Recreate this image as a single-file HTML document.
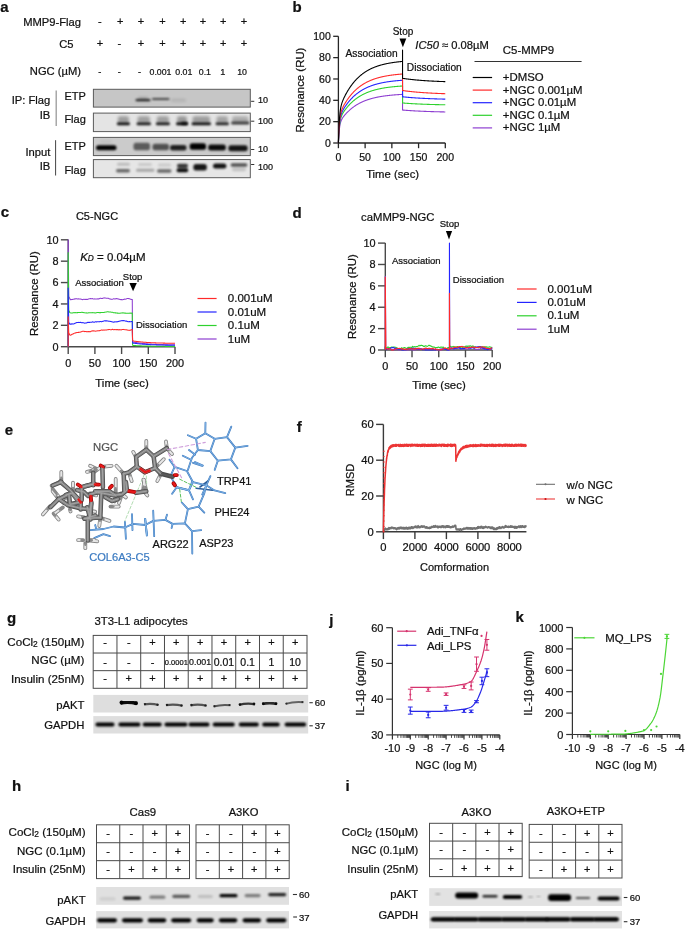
<!DOCTYPE html>
<html><head><meta charset="utf-8"><title>Figure</title>
<style>html,body{margin:0;padding:0;background:#fff;}svg{display:block;}
text{font-family:"Liberation Sans",Arial,sans-serif;fill:#111;stroke:#111;stroke-width:0.22px;}
.gk{stroke:#4c4c4c;stroke-width:4.5}.gl{stroke:#838383;stroke-width:2.9}.gh{stroke:#a6a6a6;stroke-width:1.0}.gd{stroke:#5a5a5a;stroke-width:2.2}.hk{stroke:#858585;stroke-width:3.8}.hl{stroke:#e6e6e6;stroke-width:2.1}.hgl{stroke:#8a8a8a;stroke-width:2.1}.rk{stroke:#a00000;stroke-width:3.9}.rl{stroke:#e81818;stroke-width:2.3}.bk{stroke:#3775bd;stroke-width:1.8}.bd{stroke:#2c5f9c;stroke-width:1.6}.bl{stroke:#94c4ef;stroke-width:0.7}.dg{stroke:#5cc25c;stroke-width:1;stroke-dasharray:3 2}.dg2{stroke:#a9d8a9;stroke-width:0.9;stroke-dasharray:3 2}.dp{stroke:#cf9fdc;stroke-width:1.1;stroke-dasharray:3.5 2.5}</style></head><body>
<svg width="685" height="930" viewBox="0 0 685 930">
<defs>
<filter id="bb1" x="-50%" y="-100%" width="200%" height="300%"><feGaussianBlur stdDeviation="1.05"/></filter>
<filter id="bb2" x="-50%" y="-100%" width="200%" height="300%"><feGaussianBlur stdDeviation="1.6"/></filter>
<filter id="bb05" x="-50%" y="-100%" width="200%" height="300%"><feGaussianBlur stdDeviation="0.5"/></filter>
</defs>
<rect width="685" height="930" fill="#fff"/>
<text x="0.30" y="11.90" font-size="15" font-weight="bold">a</text>
<text x="81.00" y="25.60" font-size="11.2" text-anchor="end">MMP9-Flag</text>
<text x="73.50" y="47.80" font-size="11.2" text-anchor="end">C5</text>
<text x="81.00" y="75.00" font-size="11.2" text-anchor="end">NGC (µM)</text>
<text x="99.90" y="24.60" font-size="11" text-anchor="middle">-</text>
<text x="120.30" y="24.60" font-size="11" text-anchor="middle">+</text>
<text x="140.90" y="24.60" font-size="11" text-anchor="middle">+</text>
<text x="162.50" y="24.60" font-size="11" text-anchor="middle">+</text>
<text x="183.10" y="24.60" font-size="11" text-anchor="middle">+</text>
<text x="202.90" y="24.60" font-size="11" text-anchor="middle">+</text>
<text x="223.30" y="24.60" font-size="11" text-anchor="middle">+</text>
<text x="243.90" y="24.60" font-size="11" text-anchor="middle">+</text>
<text x="99.90" y="47.10" font-size="11" text-anchor="middle">+</text>
<text x="119.30" y="47.10" font-size="11" text-anchor="middle">-</text>
<text x="140.90" y="47.10" font-size="11" text-anchor="middle">+</text>
<text x="162.50" y="47.10" font-size="11" text-anchor="middle">+</text>
<text x="183.10" y="47.10" font-size="11" text-anchor="middle">+</text>
<text x="202.90" y="47.10" font-size="11" text-anchor="middle">+</text>
<text x="223.30" y="47.10" font-size="11" text-anchor="middle">+</text>
<text x="243.90" y="47.10" font-size="11" text-anchor="middle">+</text>
<text x="99.90" y="74.60" font-size="9.2" text-anchor="middle">-</text>
<text x="119.30" y="74.60" font-size="9.2" text-anchor="middle">-</text>
<text x="139.60" y="74.60" font-size="9.2" text-anchor="middle">-</text>
<text x="160.50" y="74.60" font-size="8.8" text-anchor="middle">0.001</text>
<text x="183.80" y="74.60" font-size="8.8" text-anchor="middle">0.01</text>
<text x="204.90" y="74.60" font-size="8.8" text-anchor="middle">0.1</text>
<text x="222.80" y="74.60" font-size="9.2" text-anchor="middle">1</text>
<text x="242.10" y="74.60" font-size="8.8" text-anchor="middle">10</text>
<text x="50.30" y="103.90" font-size="11.2" text-anchor="end">IP: Flag</text>
<text x="50.30" y="118.70" font-size="11.2" text-anchor="end">IB</text>
<text x="50.30" y="155.50" font-size="11.2" text-anchor="end">Input</text>
<text x="50.30" y="169.80" font-size="11.2" text-anchor="end">IB</text>
<line x1="56.20" y1="90.60" x2="56.20" y2="125.90" stroke="#9a9a9a" stroke-width="1.3"/>
<line x1="55.60" y1="140.20" x2="55.60" y2="175.50" stroke="#444" stroke-width="1"/>
<text x="64.40" y="99.80" font-size="11">ETP</text>
<text x="64.40" y="123.00" font-size="11">Flag</text>
<text x="64.40" y="149.90" font-size="11">ETP</text>
<text x="64.40" y="174.10" font-size="11">Flag</text>
<rect x="93.40" y="89.30" width="156.90" height="17.80" fill="#c6c6c6" stroke="#5a5a5a" stroke-width="1"/>
<rect x="93.40" y="113.10" width="156.90" height="18.50" fill="#e4e4e4" stroke="#5a5a5a" stroke-width="1"/>
<rect x="93.40" y="137.40" width="156.90" height="18.20" fill="#cbcbcb" stroke="#5a5a5a" stroke-width="1"/>
<rect x="93.40" y="159.60" width="156.90" height="18.10" fill="#e6e6e6" stroke="#5a5a5a" stroke-width="1"/>
<rect x="135.50" y="99.10" width="15.00" height="2.20" rx="1.10" fill="#000" opacity="0.8" filter="url(#bb1)"/>
<rect x="138.00" y="97.35" width="10.00" height="2.50" rx="1.25" fill="#000" opacity="0.25" filter="url(#bb2)"/>
<rect x="152.00" y="98.00" width="17.50" height="2.00" rx="1.00" fill="#000" opacity="0.65" filter="url(#bb1)"/>
<rect x="171.00" y="98.95" width="15.00" height="2.50" rx="1.25" fill="#000" opacity="0.12" filter="url(#bb2)"/>
<rect x="116.80" y="122.30" width="13.20" height="3.00" rx="1.50" fill="#000" opacity="0.9" filter="url(#bb1)"/>
<rect x="117.80" y="116.25" width="11.20" height="6.50" rx="2.50" fill="#000" opacity="0.315" filter="url(#bb2)"/>
<rect x="136.50" y="122.30" width="14.50" height="3.00" rx="1.50" fill="#000" opacity="0.85" filter="url(#bb1)"/>
<rect x="137.50" y="116.25" width="12.50" height="6.50" rx="2.50" fill="#000" opacity="0.2975" filter="url(#bb2)"/>
<rect x="155.80" y="122.30" width="14.20" height="3.00" rx="1.50" fill="#000" opacity="0.85" filter="url(#bb1)"/>
<rect x="156.80" y="116.25" width="12.20" height="6.50" rx="2.50" fill="#000" opacity="0.2975" filter="url(#bb2)"/>
<rect x="176.00" y="122.30" width="12.00" height="3.00" rx="1.50" fill="#000" opacity="0.95" filter="url(#bb1)"/>
<rect x="177.00" y="116.25" width="10.00" height="6.50" rx="2.50" fill="#000" opacity="0.33249999999999996" filter="url(#bb2)"/>
<rect x="191.50" y="122.30" width="19.50" height="3.00" rx="1.50" fill="#000" opacity="0.9" filter="url(#bb1)"/>
<rect x="192.50" y="116.25" width="17.50" height="6.50" rx="2.50" fill="#000" opacity="0.315" filter="url(#bb2)"/>
<rect x="215.50" y="122.30" width="13.50" height="3.00" rx="1.50" fill="#000" opacity="0.8" filter="url(#bb1)"/>
<rect x="216.50" y="116.25" width="11.50" height="6.50" rx="2.50" fill="#000" opacity="0.27999999999999997" filter="url(#bb2)"/>
<rect x="231.00" y="121.50" width="18.50" height="3.00" rx="1.50" fill="#000" opacity="0.7" filter="url(#bb1)"/>
<rect x="232.00" y="116.25" width="16.50" height="6.50" rx="2.50" fill="#000" opacity="0.24499999999999997" filter="url(#bb2)"/>
<rect x="181.00" y="121.70" width="7.00" height="3.20" rx="1.60" fill="#000" opacity="0.6" filter="url(#bb1)"/>
<rect x="96.00" y="145.30" width="20.50" height="5.00" rx="2.50" fill="#000" opacity="1.0" filter="url(#bb1)"/>
<rect x="133.50" y="142.75" width="16.50" height="7.50" rx="2.50" fill="#000" opacity="0.55" filter="url(#bb1)"/>
<rect x="152.50" y="143.75" width="16.50" height="6.50" rx="2.50" fill="#000" opacity="0.6" filter="url(#bb1)"/>
<rect x="170.00" y="145.05" width="16.50" height="5.50" rx="2.50" fill="#000" opacity="0.85" filter="url(#bb1)"/>
<rect x="189.70" y="143.35" width="16.30" height="6.50" rx="2.50" fill="#000" opacity="1.0" filter="url(#bb1)"/>
<rect x="208.20" y="144.50" width="17.60" height="6.00" rx="2.50" fill="#000" opacity="0.95" filter="url(#bb1)"/>
<rect x="228.40" y="145.30" width="19.20" height="6.00" rx="2.50" fill="#000" opacity="0.9" filter="url(#bb1)"/>
<rect x="100.00" y="140.80" width="12.00" height="2.00" rx="1.00" fill="#000" opacity="0.08" filter="url(#bb2)"/>
<rect x="116.00" y="169.10" width="14.00" height="3.40" rx="1.70" fill="#000" opacity="0.55" filter="url(#bb1)"/>
<rect x="117.00" y="162.70" width="13.00" height="3.00" rx="1.50" fill="#000" opacity="0.18" filter="url(#bb1)"/>
<rect x="136.00" y="168.70" width="18.40" height="3.00" rx="1.50" fill="#000" opacity="0.28" filter="url(#bb1)"/>
<rect x="138.00" y="163.00" width="14.00" height="3.00" rx="1.50" fill="#000" opacity="0.12" filter="url(#bb1)"/>
<rect x="157.00" y="169.30" width="14.50" height="3.40" rx="1.70" fill="#000" opacity="0.55" filter="url(#bb1)"/>
<rect x="158.00" y="163.50" width="13.00" height="3.00" rx="1.50" fill="#000" opacity="0.12" filter="url(#bb1)"/>
<rect x="176.60" y="168.60" width="11.60" height="3.60" rx="1.80" fill="#000" opacity="0.95" filter="url(#bb1)"/>
<rect x="177.00" y="163.80" width="11.00" height="3.60" rx="1.80" fill="#000" opacity="0.75" filter="url(#bb1)"/>
<rect x="177.50" y="166.00" width="10.00" height="4.00" rx="2.00" fill="#000" opacity="0.45" filter="url(#bb1)"/>
<rect x="193.40" y="164.00" width="13.40" height="6.40" rx="2.50" fill="#000" opacity="0.9" filter="url(#bb1)"/>
<rect x="213.00" y="163.50" width="13.40" height="5.00" rx="2.50" fill="#000" opacity="0.92" filter="url(#bb1)"/>
<rect x="230.60" y="163.30" width="16.80" height="3.40" rx="1.70" fill="#000" opacity="0.65" filter="url(#bb1)"/>
<rect x="232.00" y="167.75" width="14.00" height="3.50" rx="1.75" fill="#000" opacity="0.15" filter="url(#bb1)"/>
<line x1="251.10" y1="101.30" x2="254.30" y2="101.30" stroke="#333" stroke-width="1"/>
<line x1="251.10" y1="121.20" x2="254.30" y2="121.20" stroke="#333" stroke-width="1"/>
<line x1="251.10" y1="149.50" x2="254.30" y2="149.50" stroke="#333" stroke-width="1"/>
<line x1="251.10" y1="164.50" x2="254.30" y2="164.50" stroke="#333" stroke-width="1"/>
<text x="257.90" y="102.90" font-size="9">10</text>
<text x="257.90" y="123.70" font-size="9">100</text>
<text x="257.90" y="152.10" font-size="9">10</text>
<text x="257.90" y="170.30" font-size="9">100</text>
<text x="292.50" y="11.70" font-size="15" font-weight="bold">b</text>
<line x1="338.40" y1="143.00" x2="338.40" y2="36.30" stroke="#262626" stroke-width="1.3"/>
<line x1="338.40" y1="143.00" x2="445.30" y2="143.00" stroke="#262626" stroke-width="1.3"/>
<line x1="338.40" y1="143.00" x2="338.40" y2="148.20" stroke="#262626" stroke-width="1.3"/>
<text x="338.40" y="161.00" font-size="10.5" text-anchor="middle">0</text>
<line x1="365.12" y1="143.00" x2="365.12" y2="148.20" stroke="#262626" stroke-width="1.3"/>
<text x="365.12" y="161.00" font-size="10.5" text-anchor="middle">50</text>
<line x1="391.85" y1="143.00" x2="391.85" y2="148.20" stroke="#262626" stroke-width="1.3"/>
<text x="391.85" y="161.00" font-size="10.5" text-anchor="middle">100</text>
<line x1="418.57" y1="143.00" x2="418.57" y2="148.20" stroke="#262626" stroke-width="1.3"/>
<text x="418.57" y="161.00" font-size="10.5" text-anchor="middle">150</text>
<line x1="445.30" y1="143.00" x2="445.30" y2="148.20" stroke="#262626" stroke-width="1.3"/>
<text x="445.30" y="161.00" font-size="10.5" text-anchor="middle">200</text>
<line x1="333.20" y1="143.00" x2="338.40" y2="143.00" stroke="#262626" stroke-width="1.3"/>
<text x="330.80" y="146.78" font-size="10.5" text-anchor="end">0</text>
<line x1="333.20" y1="121.66" x2="338.40" y2="121.66" stroke="#262626" stroke-width="1.3"/>
<text x="330.80" y="125.44" font-size="10.5" text-anchor="end">20</text>
<line x1="333.20" y1="100.32" x2="338.40" y2="100.32" stroke="#262626" stroke-width="1.3"/>
<text x="330.80" y="104.10" font-size="10.5" text-anchor="end">40</text>
<line x1="333.20" y1="78.98" x2="338.40" y2="78.98" stroke="#262626" stroke-width="1.3"/>
<text x="330.80" y="82.76" font-size="10.5" text-anchor="end">60</text>
<line x1="333.20" y1="57.64" x2="338.40" y2="57.64" stroke="#262626" stroke-width="1.3"/>
<text x="330.80" y="61.42" font-size="10.5" text-anchor="end">80</text>
<line x1="333.20" y1="36.30" x2="338.40" y2="36.30" stroke="#262626" stroke-width="1.3"/>
<text x="330.80" y="40.08" font-size="10.5" text-anchor="end">100</text>
<text x="392.60" y="178.40" font-size="11.3" text-anchor="middle">Time (sec)</text>
<text x="0.00" y="0.00" font-size="11.4" text-anchor="middle" transform="translate(304.3,90) rotate(-90)">Resonance (RU)</text>
<path d="M338.40,143.00 L338.67,137.91 L338.93,133.96 L339.20,130.87 L339.47,128.43 L339.74,126.49 L340.00,124.92 L340.27,123.65 L340.54,122.59 L340.81,121.70 L341.07,120.94 L341.34,120.28 L341.61,119.69 L341.87,119.16 L342.14,118.67 L342.41,118.23 L342.68,117.81 L342.94,117.41 L343.21,117.03 L343.48,116.66 L343.75,116.31 L344.01,115.97 L344.28,115.64 L344.55,115.31 L344.81,114.99 L345.08,114.68 L345.35,114.37 L345.62,114.07 L345.88,113.78 L346.15,113.49 L346.42,113.20 L346.68,112.92 L346.95,112.64 L347.22,112.37 L347.49,112.10 L347.75,111.83 L348.02,111.57 L348.29,111.31 L348.56,111.06 L348.82,110.80 L349.09,110.56 L349.36,110.31 L349.62,110.07 L349.89,109.84 L350.16,109.60 L350.43,109.37 L350.69,109.15 L350.96,108.92 L351.23,108.70 L351.50,108.49 L351.76,108.27 L352.03,108.06 L352.30,107.85 L352.56,107.65 L352.83,107.44 L353.10,107.24 L353.37,107.05 L353.63,106.85 L353.90,106.66 L354.17,106.48 L354.44,106.29 L354.70,106.11 L354.97,105.93 L355.24,105.75 L355.50,105.57 L355.77,105.40 L356.04,105.23 L356.31,105.06 L356.57,104.90 L356.84,104.73 L357.11,104.57 L357.37,104.41 L357.64,104.26 L357.91,104.10 L358.18,103.95 L358.44,103.80 L358.71,103.65 L358.98,103.51 L359.25,103.36 L359.51,103.22 L359.78,103.08 L360.05,102.94 L360.31,102.81 L360.58,102.68 L360.85,102.54 L361.12,102.41 L361.38,102.29 L361.65,102.16 L361.92,102.03 L362.19,101.91 L362.45,101.79 L362.72,101.67 L362.99,101.55 L363.25,101.44 L363.52,101.32 L363.79,101.21 L364.06,101.10 L364.32,100.99 L364.59,100.88 L364.86,100.78 L365.12,100.67 L365.39,100.57 L365.66,100.47 L365.93,100.37 L366.19,100.27 L366.46,100.17 L366.73,100.07 L367.00,99.98 L367.26,99.89 L367.53,99.79 L367.80,99.70 L368.06,99.61 L368.33,99.52 L368.60,99.44 L368.87,99.35 L369.13,99.27 L369.40,99.18 L369.67,99.10 L369.94,99.02 L370.20,98.94 L370.47,98.86 L370.74,98.78 L371.00,98.71 L371.27,98.63 L371.54,98.56 L371.81,98.48 L372.07,98.41 L372.34,98.34 L372.61,98.27 L372.88,98.20 L373.14,98.13 L373.41,98.06 L373.68,98.00 L373.94,97.93 L374.21,97.87 L374.48,97.80 L374.75,97.74 L375.01,97.68 L375.28,97.62 L375.55,97.56 L375.81,97.50 L376.08,97.44 L376.35,97.38 L376.62,97.33 L376.88,97.27 L377.15,97.22 L377.42,97.16 L377.69,97.11 L377.95,97.06 L378.22,97.00 L378.49,96.95 L378.75,96.90 L379.02,96.85 L379.29,96.80 L379.56,96.75 L379.82,96.71 L380.09,96.66 L380.36,96.61 L380.63,96.57 L380.89,96.52 L381.16,96.48 L381.43,96.43 L381.69,96.39 L381.96,96.35 L382.23,96.31 L382.50,96.26 L382.76,96.22 L383.03,96.18 L383.30,96.14 L383.57,96.10 L383.83,96.07 L384.10,96.03 L384.37,95.99 L384.63,95.95 L384.90,95.92 L385.17,95.88 L385.44,95.85 L385.70,95.81 L385.97,95.78 L386.24,95.74 L386.50,95.71 L386.77,95.68 L387.04,95.64 L387.31,95.61 L387.57,95.58 L387.84,95.55 L388.11,95.52 L388.38,95.49 L388.64,95.46 L388.91,95.43 L389.18,95.40 L389.44,95.37 L389.71,95.34 L389.98,95.31 L390.25,95.29 L390.51,95.26 L390.78,95.23 L391.05,95.21 L391.32,95.18 L391.58,95.16 L391.85,95.13 L392.12,95.11 L392.38,95.08 L392.65,95.06 L392.92,95.03 L393.19,95.01 L393.45,94.99 L393.72,94.96 L393.99,94.94 L394.26,94.92 L394.52,94.90 L394.79,94.88 L395.06,94.86 L395.32,94.83 L395.59,94.81 L395.86,94.79 L396.13,94.77 L396.39,94.75 L396.66,94.73 L396.93,94.72 L397.19,94.70 L397.46,94.68 L397.73,94.66 L398.00,94.64 L398.26,94.62 L398.53,94.61 L398.80,94.59 L399.07,94.57 L399.33,94.56 L399.60,94.54 L399.87,94.52 L400.13,94.51 L400.40,94.49 L400.67,94.47 L400.94,94.46 L401.20,94.44 L401.47,94.43 L401.74,94.41 L402.01,94.40 L402.27,94.38 L402.54,94.37 L402.54,110.03 L403.07,110.08 L403.61,110.12 L404.14,110.16 L404.68,110.21 L405.21,110.25 L405.75,110.29 L406.28,110.33 L406.82,110.37 L407.35,110.41 L407.88,110.45 L408.42,110.49 L408.95,110.53 L409.49,110.56 L410.02,110.60 L410.56,110.64 L411.09,110.67 L411.63,110.70 L412.16,110.74 L412.70,110.77 L413.23,110.80 L413.76,110.83 L414.30,110.87 L414.83,110.90 L415.37,110.93 L415.90,110.95 L416.44,110.98 L416.97,111.01 L417.51,111.04 L418.04,111.07 L418.57,111.09 L419.11,111.12 L419.64,111.15 L420.18,111.17 L420.71,111.20 L421.25,111.22 L421.78,111.24 L422.32,111.27 L422.85,111.29 L423.39,111.31 L423.92,111.33 L424.45,111.36 L424.99,111.38 L425.52,111.40 L426.06,111.42 L426.59,111.44 L427.13,111.46 L427.66,111.48 L428.20,111.50 L428.73,111.52 L429.26,111.53 L429.80,111.55 L430.33,111.57 L430.87,111.59 L431.40,111.60 L431.94,111.62 L432.47,111.64 L433.01,111.65 L433.54,111.67 L434.08,111.68 L434.61,111.70 L435.14,111.71 L435.68,111.73 L436.21,111.74 L436.75,111.76 L437.28,111.77 L437.82,111.78 L438.35,111.80 L438.89,111.81 L439.42,111.82 L439.96,111.84 L440.49,111.85 L441.02,111.86 L441.56,111.87 L442.09,111.88 L442.63,111.90 L443.16,111.91 L443.70,111.92 L444.23,111.93 L444.77,111.94 L445.30,111.95" fill="none" stroke="#8e3fd1" stroke-width="1.1" stroke-linejoin="round"/>
<path d="M338.40,143.00 L338.67,137.06 L338.93,132.44 L339.20,128.83 L339.47,125.98 L339.74,123.72 L340.00,121.89 L340.27,120.40 L340.54,119.16 L340.81,118.12 L341.07,117.23 L341.34,116.45 L341.61,115.76 L341.87,115.14 L342.14,114.57 L342.41,114.05 L342.68,113.55 L342.94,113.09 L343.21,112.64 L343.48,112.21 L343.75,111.80 L344.01,111.39 L344.28,111.00 L344.55,110.62 L344.81,110.25 L345.08,109.88 L345.35,109.52 L345.62,109.17 L345.88,108.82 L346.15,108.48 L346.42,108.14 L346.68,107.81 L346.95,107.48 L347.22,107.16 L347.49,106.84 L347.75,106.53 L348.02,106.22 L348.29,105.92 L348.56,105.62 L348.82,105.32 L349.09,105.03 L349.36,104.75 L349.62,104.47 L349.89,104.19 L350.16,103.91 L350.43,103.64 L350.69,103.38 L350.96,103.11 L351.23,102.85 L351.50,102.60 L351.76,102.35 L352.03,102.10 L352.30,101.85 L352.56,101.61 L352.83,101.38 L353.10,101.14 L353.37,100.91 L353.63,100.68 L353.90,100.46 L354.17,100.24 L354.44,100.02 L354.70,99.80 L354.97,99.59 L355.24,99.38 L355.50,99.17 L355.77,98.97 L356.04,98.77 L356.31,98.57 L356.57,98.38 L356.84,98.19 L357.11,98.00 L357.37,97.81 L357.64,97.63 L357.91,97.45 L358.18,97.27 L358.44,97.09 L358.71,96.92 L358.98,96.75 L359.25,96.58 L359.51,96.41 L359.78,96.25 L360.05,96.09 L360.31,95.93 L360.58,95.77 L360.85,95.61 L361.12,95.46 L361.38,95.31 L361.65,95.16 L361.92,95.02 L362.19,94.87 L362.45,94.73 L362.72,94.59 L362.99,94.45 L363.25,94.32 L363.52,94.18 L363.79,94.05 L364.06,93.92 L364.32,93.79 L364.59,93.66 L364.86,93.54 L365.12,93.41 L365.39,93.29 L365.66,93.17 L365.93,93.06 L366.19,92.94 L366.46,92.82 L366.73,92.71 L367.00,92.60 L367.26,92.49 L367.53,92.38 L367.80,92.27 L368.06,92.17 L368.33,92.07 L368.60,91.96 L368.87,91.86 L369.13,91.76 L369.40,91.66 L369.67,91.57 L369.94,91.47 L370.20,91.38 L370.47,91.29 L370.74,91.19 L371.00,91.10 L371.27,91.02 L371.54,90.93 L371.81,90.84 L372.07,90.76 L372.34,90.67 L372.61,90.59 L372.88,90.51 L373.14,90.43 L373.41,90.35 L373.68,90.27 L373.94,90.19 L374.21,90.12 L374.48,90.04 L374.75,89.97 L375.01,89.90 L375.28,89.83 L375.55,89.76 L375.81,89.69 L376.08,89.62 L376.35,89.55 L376.62,89.48 L376.88,89.42 L377.15,89.35 L377.42,89.29 L377.69,89.23 L377.95,89.16 L378.22,89.10 L378.49,89.04 L378.75,88.98 L379.02,88.92 L379.29,88.87 L379.56,88.81 L379.82,88.75 L380.09,88.70 L380.36,88.64 L380.63,88.59 L380.89,88.54 L381.16,88.48 L381.43,88.43 L381.69,88.38 L381.96,88.33 L382.23,88.28 L382.50,88.23 L382.76,88.19 L383.03,88.14 L383.30,88.09 L383.57,88.05 L383.83,88.00 L384.10,87.96 L384.37,87.91 L384.63,87.87 L384.90,87.82 L385.17,87.78 L385.44,87.74 L385.70,87.70 L385.97,87.66 L386.24,87.62 L386.50,87.58 L386.77,87.54 L387.04,87.50 L387.31,87.47 L387.57,87.43 L387.84,87.39 L388.11,87.36 L388.38,87.32 L388.64,87.29 L388.91,87.25 L389.18,87.22 L389.44,87.18 L389.71,87.15 L389.98,87.12 L390.25,87.09 L390.51,87.05 L390.78,87.02 L391.05,86.99 L391.32,86.96 L391.58,86.93 L391.85,86.90 L392.12,86.87 L392.38,86.84 L392.65,86.82 L392.92,86.79 L393.19,86.76 L393.45,86.73 L393.72,86.71 L393.99,86.68 L394.26,86.65 L394.52,86.63 L394.79,86.60 L395.06,86.58 L395.32,86.55 L395.59,86.53 L395.86,86.51 L396.13,86.48 L396.39,86.46 L396.66,86.44 L396.93,86.41 L397.19,86.39 L397.46,86.37 L397.73,86.35 L398.00,86.33 L398.26,86.31 L398.53,86.28 L398.80,86.26 L399.07,86.24 L399.33,86.22 L399.60,86.21 L399.87,86.19 L400.13,86.17 L400.40,86.15 L400.67,86.13 L400.94,86.11 L401.20,86.09 L401.47,86.08 L401.74,86.06 L402.01,86.04 L402.27,86.02 L402.54,86.01 L402.54,102.99 L403.07,103.03 L403.61,103.07 L404.14,103.12 L404.68,103.16 L405.21,103.20 L405.75,103.24 L406.28,103.27 L406.82,103.31 L407.35,103.35 L407.88,103.39 L408.42,103.42 L408.95,103.46 L409.49,103.49 L410.02,103.53 L410.56,103.56 L411.09,103.59 L411.63,103.62 L412.16,103.66 L412.70,103.69 L413.23,103.72 L413.76,103.75 L414.30,103.78 L414.83,103.81 L415.37,103.83 L415.90,103.86 L416.44,103.89 L416.97,103.92 L417.51,103.94 L418.04,103.97 L418.57,103.99 L419.11,104.02 L419.64,104.04 L420.18,104.06 L420.71,104.09 L421.25,104.11 L421.78,104.13 L422.32,104.16 L422.85,104.18 L423.39,104.20 L423.92,104.22 L424.45,104.24 L424.99,104.26 L425.52,104.28 L426.06,104.30 L426.59,104.32 L427.13,104.34 L427.66,104.36 L428.20,104.37 L428.73,104.39 L429.26,104.41 L429.80,104.43 L430.33,104.44 L430.87,104.46 L431.40,104.47 L431.94,104.49 L432.47,104.51 L433.01,104.52 L433.54,104.54 L434.08,104.55 L434.61,104.56 L435.14,104.58 L435.68,104.59 L436.21,104.61 L436.75,104.62 L437.28,104.63 L437.82,104.65 L438.35,104.66 L438.89,104.67 L439.42,104.68 L439.96,104.69 L440.49,104.71 L441.02,104.72 L441.56,104.73 L442.09,104.74 L442.63,104.75 L443.16,104.76 L443.70,104.77 L444.23,104.78 L444.77,104.79 L445.30,104.80" fill="none" stroke="#2ed12e" stroke-width="1.1" stroke-linejoin="round"/>
<path d="M338.40,143.00 L338.67,136.49 L338.93,131.43 L339.20,127.47 L339.47,124.35 L339.74,121.86 L340.00,119.85 L340.27,118.21 L340.54,116.85 L340.81,115.71 L341.07,114.73 L341.34,113.87 L341.61,113.11 L341.87,112.43 L342.14,111.80 L342.41,111.22 L342.68,110.68 L342.94,110.16 L343.21,109.67 L343.48,109.20 L343.75,108.74 L344.01,108.30 L344.28,107.87 L344.55,107.44 L344.81,107.03 L345.08,106.63 L345.35,106.23 L345.62,105.84 L345.88,105.45 L346.15,105.08 L346.42,104.70 L346.68,104.34 L346.95,103.98 L347.22,103.62 L347.49,103.27 L347.75,102.93 L348.02,102.59 L348.29,102.25 L348.56,101.92 L348.82,101.60 L349.09,101.27 L349.36,100.96 L349.62,100.65 L349.89,100.34 L350.16,100.04 L350.43,99.74 L350.69,99.44 L350.96,99.15 L351.23,98.87 L351.50,98.58 L351.76,98.31 L352.03,98.03 L352.30,97.76 L352.56,97.50 L352.83,97.23 L353.10,96.97 L353.37,96.72 L353.63,96.47 L353.90,96.22 L354.17,95.97 L354.44,95.73 L354.70,95.50 L354.97,95.26 L355.24,95.03 L355.50,94.80 L355.77,94.58 L356.04,94.36 L356.31,94.14 L356.57,93.92 L356.84,93.71 L357.11,93.50 L357.37,93.30 L357.64,93.09 L357.91,92.89 L358.18,92.70 L358.44,92.50 L358.71,92.31 L358.98,92.12 L359.25,91.94 L359.51,91.75 L359.78,91.57 L360.05,91.39 L360.31,91.22 L360.58,91.04 L360.85,90.87 L361.12,90.70 L361.38,90.54 L361.65,90.37 L361.92,90.21 L362.19,90.05 L362.45,89.89 L362.72,89.74 L362.99,89.59 L363.25,89.44 L363.52,89.29 L363.79,89.14 L364.06,89.00 L364.32,88.86 L364.59,88.72 L364.86,88.58 L365.12,88.44 L365.39,88.31 L365.66,88.17 L365.93,88.04 L366.19,87.92 L366.46,87.79 L366.73,87.66 L367.00,87.54 L367.26,87.42 L367.53,87.30 L367.80,87.18 L368.06,87.07 L368.33,86.95 L368.60,86.84 L368.87,86.73 L369.13,86.62 L369.40,86.51 L369.67,86.40 L369.94,86.30 L370.20,86.19 L370.47,86.09 L370.74,85.99 L371.00,85.89 L371.27,85.79 L371.54,85.69 L371.81,85.60 L372.07,85.51 L372.34,85.41 L372.61,85.32 L372.88,85.23 L373.14,85.14 L373.41,85.06 L373.68,84.97 L373.94,84.88 L374.21,84.80 L374.48,84.72 L374.75,84.64 L375.01,84.56 L375.28,84.48 L375.55,84.40 L375.81,84.32 L376.08,84.25 L376.35,84.17 L376.62,84.10 L376.88,84.03 L377.15,83.95 L377.42,83.88 L377.69,83.81 L377.95,83.75 L378.22,83.68 L378.49,83.61 L378.75,83.55 L379.02,83.48 L379.29,83.42 L379.56,83.35 L379.82,83.29 L380.09,83.23 L380.36,83.17 L380.63,83.11 L380.89,83.05 L381.16,83.00 L381.43,82.94 L381.69,82.88 L381.96,82.83 L382.23,82.77 L382.50,82.72 L382.76,82.67 L383.03,82.61 L383.30,82.56 L383.57,82.51 L383.83,82.46 L384.10,82.41 L384.37,82.36 L384.63,82.31 L384.90,82.27 L385.17,82.22 L385.44,82.17 L385.70,82.13 L385.97,82.08 L386.24,82.04 L386.50,82.00 L386.77,81.95 L387.04,81.91 L387.31,81.87 L387.57,81.83 L387.84,81.79 L388.11,81.75 L388.38,81.71 L388.64,81.67 L388.91,81.63 L389.18,81.60 L389.44,81.56 L389.71,81.52 L389.98,81.49 L390.25,81.45 L390.51,81.42 L390.78,81.38 L391.05,81.35 L391.32,81.31 L391.58,81.28 L391.85,81.25 L392.12,81.22 L392.38,81.18 L392.65,81.15 L392.92,81.12 L393.19,81.09 L393.45,81.06 L393.72,81.03 L393.99,81.00 L394.26,80.97 L394.52,80.95 L394.79,80.92 L395.06,80.89 L395.32,80.86 L395.59,80.84 L395.86,80.81 L396.13,80.78 L396.39,80.76 L396.66,80.73 L396.93,80.71 L397.19,80.68 L397.46,80.66 L397.73,80.64 L398.00,80.61 L398.26,80.59 L398.53,80.57 L398.80,80.54 L399.07,80.52 L399.33,80.50 L399.60,80.48 L399.87,80.46 L400.13,80.44 L400.40,80.42 L400.67,80.40 L400.94,80.38 L401.20,80.36 L401.47,80.34 L401.74,80.32 L402.01,80.30 L402.27,80.28 L402.54,80.26 L402.54,96.80 L403.07,96.86 L403.61,96.91 L404.14,96.96 L404.68,97.02 L405.21,97.07 L405.75,97.12 L406.28,97.17 L406.82,97.22 L407.35,97.27 L407.88,97.32 L408.42,97.36 L408.95,97.41 L409.49,97.45 L410.02,97.50 L410.56,97.54 L411.09,97.58 L411.63,97.62 L412.16,97.66 L412.70,97.70 L413.23,97.74 L413.76,97.78 L414.30,97.82 L414.83,97.86 L415.37,97.89 L415.90,97.93 L416.44,97.96 L416.97,98.00 L417.51,98.03 L418.04,98.07 L418.57,98.10 L419.11,98.13 L419.64,98.16 L420.18,98.19 L420.71,98.22 L421.25,98.25 L421.78,98.28 L422.32,98.31 L422.85,98.34 L423.39,98.37 L423.92,98.39 L424.45,98.42 L424.99,98.45 L425.52,98.47 L426.06,98.50 L426.59,98.52 L427.13,98.55 L427.66,98.57 L428.20,98.59 L428.73,98.61 L429.26,98.64 L429.80,98.66 L430.33,98.68 L430.87,98.70 L431.40,98.72 L431.94,98.74 L432.47,98.76 L433.01,98.78 L433.54,98.80 L434.08,98.82 L434.61,98.84 L435.14,98.86 L435.68,98.88 L436.21,98.89 L436.75,98.91 L437.28,98.93 L437.82,98.94 L438.35,98.96 L438.89,98.98 L439.42,98.99 L439.96,99.01 L440.49,99.02 L441.02,99.04 L441.56,99.05 L442.09,99.07 L442.63,99.08 L443.16,99.09 L443.70,99.11 L444.23,99.12 L444.77,99.13 L445.30,99.15" fill="none" stroke="#2424ff" stroke-width="1.1" stroke-linejoin="round"/>
<path d="M338.40,143.00 L338.67,135.91 L338.93,130.40 L339.20,126.08 L339.47,122.68 L339.74,119.96 L340.00,117.77 L340.27,115.98 L340.54,114.49 L340.81,113.24 L341.07,112.16 L341.34,111.22 L341.61,110.38 L341.87,109.63 L342.14,108.94 L342.41,108.30 L342.68,107.70 L342.94,107.13 L343.21,106.59 L343.48,106.06 L343.75,105.56 L344.01,105.06 L344.28,104.59 L344.55,104.12 L344.81,103.66 L345.08,103.21 L345.35,102.77 L345.62,102.34 L345.88,101.91 L346.15,101.50 L346.42,101.08 L346.68,100.68 L346.95,100.28 L347.22,99.88 L347.49,99.50 L347.75,99.11 L348.02,98.74 L348.29,98.37 L348.56,98.00 L348.82,97.64 L349.09,97.28 L349.36,96.93 L349.62,96.59 L349.89,96.25 L350.16,95.91 L350.43,95.58 L350.69,95.25 L350.96,94.93 L351.23,94.61 L351.50,94.30 L351.76,93.99 L352.03,93.69 L352.30,93.39 L352.56,93.10 L352.83,92.80 L353.10,92.52 L353.37,92.23 L353.63,91.96 L353.90,91.68 L354.17,91.41 L354.44,91.14 L354.70,90.88 L354.97,90.62 L355.24,90.36 L355.50,90.11 L355.77,89.86 L356.04,89.62 L356.31,89.38 L356.57,89.14 L356.84,88.90 L357.11,88.67 L357.37,88.44 L357.64,88.22 L357.91,88.00 L358.18,87.78 L358.44,87.56 L358.71,87.35 L358.98,87.14 L359.25,86.93 L359.51,86.73 L359.78,86.53 L360.05,86.33 L360.31,86.14 L360.58,85.94 L360.85,85.75 L361.12,85.57 L361.38,85.38 L361.65,85.20 L361.92,85.02 L362.19,84.85 L362.45,84.67 L362.72,84.50 L362.99,84.33 L363.25,84.16 L363.52,84.00 L363.79,83.84 L364.06,83.68 L364.32,83.52 L364.59,83.37 L364.86,83.21 L365.12,83.06 L365.39,82.91 L365.66,82.77 L365.93,82.62 L366.19,82.48 L366.46,82.34 L366.73,82.20 L367.00,82.06 L367.26,81.93 L367.53,81.80 L367.80,81.67 L368.06,81.54 L368.33,81.41 L368.60,81.29 L368.87,81.16 L369.13,81.04 L369.40,80.92 L369.67,80.80 L369.94,80.68 L370.20,80.57 L370.47,80.46 L370.74,80.34 L371.00,80.23 L371.27,80.13 L371.54,80.02 L371.81,79.91 L372.07,79.81 L372.34,79.71 L372.61,79.61 L372.88,79.51 L373.14,79.41 L373.41,79.31 L373.68,79.22 L373.94,79.12 L374.21,79.03 L374.48,78.94 L374.75,78.85 L375.01,78.76 L375.28,78.67 L375.55,78.58 L375.81,78.50 L376.08,78.41 L376.35,78.33 L376.62,78.25 L376.88,78.17 L377.15,78.09 L377.42,78.01 L377.69,77.94 L377.95,77.86 L378.22,77.78 L378.49,77.71 L378.75,77.64 L379.02,77.57 L379.29,77.50 L379.56,77.43 L379.82,77.36 L380.09,77.29 L380.36,77.22 L380.63,77.16 L380.89,77.09 L381.16,77.03 L381.43,76.96 L381.69,76.90 L381.96,76.84 L382.23,76.78 L382.50,76.72 L382.76,76.66 L383.03,76.60 L383.30,76.55 L383.57,76.49 L383.83,76.43 L384.10,76.38 L384.37,76.33 L384.63,76.27 L384.90,76.22 L385.17,76.17 L385.44,76.12 L385.70,76.07 L385.97,76.02 L386.24,75.97 L386.50,75.92 L386.77,75.87 L387.04,75.83 L387.31,75.78 L387.57,75.74 L387.84,75.69 L388.11,75.65 L388.38,75.60 L388.64,75.56 L388.91,75.52 L389.18,75.48 L389.44,75.44 L389.71,75.39 L389.98,75.35 L390.25,75.32 L390.51,75.28 L390.78,75.24 L391.05,75.20 L391.32,75.16 L391.58,75.13 L391.85,75.09 L392.12,75.05 L392.38,75.02 L392.65,74.99 L392.92,74.95 L393.19,74.92 L393.45,74.88 L393.72,74.85 L393.99,74.82 L394.26,74.79 L394.52,74.76 L394.79,74.73 L395.06,74.69 L395.32,74.66 L395.59,74.64 L395.86,74.61 L396.13,74.58 L396.39,74.55 L396.66,74.52 L396.93,74.49 L397.19,74.47 L397.46,74.44 L397.73,74.41 L398.00,74.39 L398.26,74.36 L398.53,74.34 L398.80,74.31 L399.07,74.29 L399.33,74.26 L399.60,74.24 L399.87,74.21 L400.13,74.19 L400.40,74.17 L400.67,74.15 L400.94,74.12 L401.20,74.10 L401.47,74.08 L401.74,74.06 L402.01,74.04 L402.27,74.02 L402.54,74.00 L402.54,90.50 L403.07,90.58 L403.61,90.66 L404.14,90.73 L404.68,90.80 L405.21,90.87 L405.75,90.94 L406.28,91.01 L406.82,91.08 L407.35,91.14 L407.88,91.21 L408.42,91.27 L408.95,91.33 L409.49,91.39 L410.02,91.45 L410.56,91.51 L411.09,91.57 L411.63,91.63 L412.16,91.68 L412.70,91.74 L413.23,91.79 L413.76,91.84 L414.30,91.90 L414.83,91.95 L415.37,92.00 L415.90,92.05 L416.44,92.09 L416.97,92.14 L417.51,92.19 L418.04,92.23 L418.57,92.28 L419.11,92.32 L419.64,92.36 L420.18,92.40 L420.71,92.45 L421.25,92.49 L421.78,92.53 L422.32,92.57 L422.85,92.60 L423.39,92.64 L423.92,92.68 L424.45,92.71 L424.99,92.75 L425.52,92.78 L426.06,92.82 L426.59,92.85 L427.13,92.88 L427.66,92.92 L428.20,92.95 L428.73,92.98 L429.26,93.01 L429.80,93.04 L430.33,93.07 L430.87,93.10 L431.40,93.13 L431.94,93.15 L432.47,93.18 L433.01,93.21 L433.54,93.24 L434.08,93.26 L434.61,93.29 L435.14,93.31 L435.68,93.34 L436.21,93.36 L436.75,93.38 L437.28,93.41 L437.82,93.43 L438.35,93.45 L438.89,93.47 L439.42,93.49 L439.96,93.51 L440.49,93.54 L441.02,93.56 L441.56,93.58 L442.09,93.60 L442.63,93.61 L443.16,93.63 L443.70,93.65 L444.23,93.67 L444.77,93.69 L445.30,93.70" fill="none" stroke="#ff2a2a" stroke-width="1.1" stroke-linejoin="round"/>
<path d="M338.40,143.00 L338.67,134.51 L338.93,127.91 L339.20,122.75 L339.47,118.68 L339.74,115.44 L340.00,112.83 L340.27,110.70 L340.54,108.93 L340.81,107.44 L341.07,106.16 L341.34,105.05 L341.61,104.06 L341.87,103.17 L342.14,102.36 L342.41,101.61 L342.68,100.90 L342.94,100.23 L343.21,99.59 L343.48,98.98 L343.75,98.39 L344.01,97.81 L344.28,97.25 L344.55,96.70 L344.81,96.16 L345.08,95.64 L345.35,95.12 L345.62,94.62 L345.88,94.12 L346.15,93.63 L346.42,93.15 L346.68,92.67 L346.95,92.20 L347.22,91.74 L347.49,91.29 L347.75,90.84 L348.02,90.40 L348.29,89.96 L348.56,89.54 L348.82,89.11 L349.09,88.70 L349.36,88.29 L349.62,87.88 L349.89,87.48 L350.16,87.09 L350.43,86.70 L350.69,86.32 L350.96,85.94 L351.23,85.57 L351.50,85.21 L351.76,84.85 L352.03,84.49 L352.30,84.14 L352.56,83.79 L352.83,83.45 L353.10,83.12 L353.37,82.79 L353.63,82.46 L353.90,82.14 L354.17,81.82 L354.44,81.51 L354.70,81.20 L354.97,80.90 L355.24,80.60 L355.50,80.30 L355.77,80.01 L356.04,79.72 L356.31,79.44 L356.57,79.16 L356.84,78.89 L357.11,78.62 L357.37,78.35 L357.64,78.08 L357.91,77.82 L358.18,77.57 L358.44,77.32 L358.71,77.07 L358.98,76.82 L359.25,76.58 L359.51,76.34 L359.78,76.11 L360.05,75.88 L360.31,75.65 L360.58,75.42 L360.85,75.20 L361.12,74.98 L361.38,74.77 L361.65,74.55 L361.92,74.34 L362.19,74.14 L362.45,73.93 L362.72,73.73 L362.99,73.53 L363.25,73.34 L363.52,73.15 L363.79,72.96 L364.06,72.77 L364.32,72.59 L364.59,72.40 L364.86,72.22 L365.12,72.05 L365.39,71.87 L365.66,71.70 L365.93,71.53 L366.19,71.37 L366.46,71.20 L366.73,71.04 L367.00,70.88 L367.26,70.72 L367.53,70.57 L367.80,70.41 L368.06,70.26 L368.33,70.11 L368.60,69.97 L368.87,69.82 L369.13,69.68 L369.40,69.54 L369.67,69.40 L369.94,69.26 L370.20,69.13 L370.47,69.00 L370.74,68.87 L371.00,68.74 L371.27,68.61 L371.54,68.49 L371.81,68.36 L372.07,68.24 L372.34,68.12 L372.61,68.00 L372.88,67.88 L373.14,67.77 L373.41,67.66 L373.68,67.54 L373.94,67.43 L374.21,67.33 L374.48,67.22 L374.75,67.11 L375.01,67.01 L375.28,66.91 L375.55,66.81 L375.81,66.71 L376.08,66.61 L376.35,66.51 L376.62,66.41 L376.88,66.32 L377.15,66.23 L377.42,66.14 L377.69,66.05 L377.95,65.96 L378.22,65.87 L378.49,65.78 L378.75,65.70 L379.02,65.61 L379.29,65.53 L379.56,65.45 L379.82,65.37 L380.09,65.29 L380.36,65.21 L380.63,65.13 L380.89,65.06 L381.16,64.98 L381.43,64.91 L381.69,64.84 L381.96,64.76 L382.23,64.69 L382.50,64.62 L382.76,64.55 L383.03,64.49 L383.30,64.42 L383.57,64.35 L383.83,64.29 L384.10,64.23 L384.37,64.16 L384.63,64.10 L384.90,64.04 L385.17,63.98 L385.44,63.92 L385.70,63.86 L385.97,63.80 L386.24,63.74 L386.50,63.69 L386.77,63.63 L387.04,63.58 L387.31,63.52 L387.57,63.47 L387.84,63.42 L388.11,63.37 L388.38,63.32 L388.64,63.27 L388.91,63.22 L389.18,63.17 L389.44,63.12 L389.71,63.07 L389.98,63.02 L390.25,62.98 L390.51,62.93 L390.78,62.89 L391.05,62.84 L391.32,62.80 L391.58,62.76 L391.85,62.72 L392.12,62.67 L392.38,62.63 L392.65,62.59 L392.92,62.55 L393.19,62.51 L393.45,62.47 L393.72,62.44 L393.99,62.40 L394.26,62.36 L394.52,62.32 L394.79,62.29 L395.06,62.25 L395.32,62.22 L395.59,62.18 L395.86,62.15 L396.13,62.11 L396.39,62.08 L396.66,62.05 L396.93,62.02 L397.19,61.98 L397.46,61.95 L397.73,61.92 L398.00,61.89 L398.26,61.86 L398.53,61.83 L398.80,61.80 L399.07,61.77 L399.33,61.75 L399.60,61.72 L399.87,61.69 L400.13,61.66 L400.40,61.64 L400.67,61.61 L400.94,61.58 L401.20,61.56 L401.47,61.53 L401.74,61.51 L402.01,61.48 L402.27,61.46 L402.54,61.44 L402.54,50.17 L402.54,78.34 L403.07,78.42 L403.61,78.50 L404.14,78.57 L404.68,78.65 L405.21,78.72 L405.75,78.79 L406.28,78.86 L406.82,78.93 L407.35,79.00 L407.88,79.07 L408.42,79.13 L408.95,79.20 L409.49,79.26 L410.02,79.32 L410.56,79.38 L411.09,79.44 L411.63,79.50 L412.16,79.56 L412.70,79.62 L413.23,79.67 L413.76,79.73 L414.30,79.78 L414.83,79.83 L415.37,79.88 L415.90,79.93 L416.44,79.98 L416.97,80.03 L417.51,80.08 L418.04,80.13 L418.57,80.17 L419.11,80.22 L419.64,80.26 L420.18,80.30 L420.71,80.35 L421.25,80.39 L421.78,80.43 L422.32,80.47 L422.85,80.51 L423.39,80.55 L423.92,80.59 L424.45,80.62 L424.99,80.66 L425.52,80.70 L426.06,80.73 L426.59,80.77 L427.13,80.80 L427.66,80.83 L428.20,80.87 L428.73,80.90 L429.26,80.93 L429.80,80.96 L430.33,80.99 L430.87,81.02 L431.40,81.05 L431.94,81.08 L432.47,81.11 L433.01,81.14 L433.54,81.16 L434.08,81.19 L434.61,81.22 L435.14,81.24 L435.68,81.27 L436.21,81.29 L436.75,81.32 L437.28,81.34 L437.82,81.36 L438.35,81.39 L438.89,81.41 L439.42,81.43 L439.96,81.45 L440.49,81.47 L441.02,81.49 L441.56,81.51 L442.09,81.53 L442.63,81.55 L443.16,81.57 L443.70,81.59 L444.23,81.61 L444.77,81.63 L445.30,81.65" fill="none" stroke="#000" stroke-width="1.1" stroke-linejoin="round"/>
<path d="M399.5,38.6 L406.3,38.6 L402.9,47.2 Z" fill="#000"/>
<text x="403.00" y="35.00" font-size="10" text-anchor="middle">Stop</text>
<text x="345.50" y="56.80" font-size="10.2">Association</text>
<text x="406.80" y="71.20" font-size="10.2">Dissociation</text>
<text x="415.30" y="49.20" font-size="11.2"><tspan font-style="italic">IC50</tspan> ≈ 0.08µM</text>
<text x="528.50" y="54.40" font-size="11.4" text-anchor="middle">C5-MMP9</text>
<line x1="474.50" y1="61.50" x2="581.60" y2="61.50" stroke="#333" stroke-width="1"/>
<line x1="472.70" y1="77.50" x2="492.10" y2="77.50" stroke="#000" stroke-width="1.2"/>
<text x="502.80" y="80.90" font-size="11.4">+DMSO</text>
<line x1="472.70" y1="90.10" x2="492.10" y2="90.10" stroke="#ff2a2a" stroke-width="1.2"/>
<text x="502.80" y="93.50" font-size="11.4">+NGC 0.001µM</text>
<line x1="472.70" y1="102.70" x2="492.10" y2="102.70" stroke="#2424ff" stroke-width="1.2"/>
<text x="502.80" y="106.10" font-size="11.4">+NGC 0.01µM</text>
<line x1="472.70" y1="115.30" x2="492.10" y2="115.30" stroke="#2ed12e" stroke-width="1.2"/>
<text x="502.80" y="118.70" font-size="11.4">+NGC 0.1µM</text>
<line x1="472.70" y1="127.90" x2="492.10" y2="127.90" stroke="#8e3fd1" stroke-width="1.2"/>
<text x="502.80" y="131.30" font-size="11.4">+NGC 1µM</text>
<text x="0.70" y="217.40" font-size="15" font-weight="bold">c</text>
<text x="97.00" y="219.60" font-size="11" text-anchor="middle">C5-NGC</text>
<line x1="68.20" y1="346.70" x2="68.20" y2="239.80" stroke="#4a4a4a" stroke-width="1.4"/>
<line x1="68.20" y1="346.70" x2="175.00" y2="346.70" stroke="#4a4a4a" stroke-width="1.4"/>
<line x1="68.20" y1="346.70" x2="68.20" y2="354.00" stroke="#4a4a4a" stroke-width="1.4"/>
<text x="68.20" y="366.90" font-size="10.9" text-anchor="middle">0</text>
<line x1="94.90" y1="346.70" x2="94.90" y2="354.00" stroke="#4a4a4a" stroke-width="1.4"/>
<text x="94.90" y="366.90" font-size="10.9" text-anchor="middle">50</text>
<line x1="121.60" y1="346.70" x2="121.60" y2="354.00" stroke="#4a4a4a" stroke-width="1.4"/>
<text x="121.60" y="366.90" font-size="10.9" text-anchor="middle">100</text>
<line x1="148.30" y1="346.70" x2="148.30" y2="354.00" stroke="#4a4a4a" stroke-width="1.4"/>
<text x="148.30" y="366.90" font-size="10.9" text-anchor="middle">150</text>
<line x1="175.00" y1="346.70" x2="175.00" y2="354.00" stroke="#4a4a4a" stroke-width="1.4"/>
<text x="175.00" y="366.90" font-size="10.9" text-anchor="middle">200</text>
<line x1="60.90" y1="346.70" x2="68.20" y2="346.70" stroke="#4a4a4a" stroke-width="1.4"/>
<text x="58.50" y="350.62" font-size="10.9" text-anchor="end">0</text>
<line x1="60.90" y1="325.32" x2="68.20" y2="325.32" stroke="#4a4a4a" stroke-width="1.4"/>
<text x="58.50" y="329.24" font-size="10.9" text-anchor="end">2</text>
<line x1="60.90" y1="303.94" x2="68.20" y2="303.94" stroke="#4a4a4a" stroke-width="1.4"/>
<text x="58.50" y="307.86" font-size="10.9" text-anchor="end">4</text>
<line x1="60.90" y1="282.56" x2="68.20" y2="282.56" stroke="#4a4a4a" stroke-width="1.4"/>
<text x="58.50" y="286.48" font-size="10.9" text-anchor="end">6</text>
<line x1="60.90" y1="261.18" x2="68.20" y2="261.18" stroke="#4a4a4a" stroke-width="1.4"/>
<text x="58.50" y="265.10" font-size="10.9" text-anchor="end">8</text>
<line x1="60.90" y1="239.80" x2="68.20" y2="239.80" stroke="#4a4a4a" stroke-width="1.4"/>
<text x="58.50" y="243.72" font-size="10.9" text-anchor="end">10</text>
<text x="122.00" y="387.20" font-size="11.4" text-anchor="middle">Time (sec)</text>
<text x="0.00" y="0.00" font-size="11.4" text-anchor="middle" transform="translate(37.8,293.6) rotate(-90)">Resonance (RU)</text>
<path d="M68.20,346.70 L68.20,239.80 L68.73,296.46 L69.80,298.60 L70.34,299.67 L70.87,299.42 L71.40,299.64 L71.94,299.59 L72.47,299.56 L73.01,299.35 L73.54,299.15 L74.07,299.21 L74.61,298.85 L75.14,299.01 L75.68,298.71 L76.21,298.65 L76.74,298.77 L77.28,299.05 L77.81,298.99 L78.35,298.77 L78.88,298.95 L79.41,299.10 L79.95,299.09 L80.48,299.10 L81.02,299.28 L81.55,299.28 L82.08,299.60 L82.62,299.64 L83.15,299.44 L83.69,299.32 L84.22,299.33 L84.75,299.42 L85.29,299.32 L85.82,299.44 L86.36,299.39 L86.89,299.26 L87.42,299.39 L87.96,299.19 L88.49,299.02 L89.03,298.76 L89.56,298.75 L90.09,298.81 L90.63,298.55 L91.16,298.74 L91.70,298.76 L92.23,298.58 L92.76,298.84 L93.30,298.92 L93.83,299.01 L94.37,298.98 L94.90,298.89 L95.43,299.01 L95.97,298.96 L96.50,298.95 L97.04,299.06 L97.57,298.88 L98.10,298.82 L98.64,298.94 L99.17,298.67 L99.71,298.48 L100.24,298.30 L100.77,298.29 L101.31,298.54 L101.84,298.46 L102.38,298.50 L102.91,298.18 L103.44,298.05 L103.98,298.08 L104.51,298.06 L105.05,297.87 L105.58,298.07 L106.11,298.16 L106.65,298.18 L107.18,298.32 L107.72,298.28 L108.25,298.24 L108.78,298.46 L109.32,298.80 L109.85,299.05 L110.39,298.92 L110.92,299.15 L111.45,299.35 L111.99,299.26 L112.52,299.20 L113.06,299.04 L113.59,298.82 L114.12,298.80 L114.66,298.99 L115.19,298.94 L115.73,298.72 L116.26,298.51 L116.79,298.81 L117.33,298.78 L117.86,298.87 L118.40,299.00 L118.93,299.16 L119.46,299.25 L120.00,299.49 L120.53,299.60 L121.07,299.60 L121.60,299.60 L122.13,299.72 L122.67,299.72 L123.20,299.51 L123.74,299.38 L124.27,299.23 L124.80,299.06 L125.34,299.23 L125.87,299.11 L126.41,298.91 L126.94,298.57 L127.47,298.42 L128.01,298.41 L128.54,298.48 L129.08,298.81 L129.61,298.83 L130.14,299.01 L130.68,299.23 L131.21,299.41 L131.75,299.37 L132.28,299.59 L132.55,340.82 L132.81,341.99 L133.35,342.10 L133.88,342.19 L134.42,342.29 L134.95,342.38 L135.48,342.47 L136.02,342.56 L136.55,342.64 L137.09,342.72 L137.62,342.80 L138.15,342.87 L138.69,342.95 L139.22,343.02 L139.76,343.09 L140.29,343.15 L140.82,343.22 L141.36,343.28 L141.89,343.34 L142.43,343.39 L142.96,343.45 L143.49,343.50 L144.03,343.56 L144.56,343.61 L145.10,343.66 L145.63,343.70 L146.16,343.75 L146.70,343.79 L147.23,343.84 L147.77,343.88 L148.30,343.92 L148.83,343.96 L149.37,343.99 L149.90,344.03 L150.44,344.06 L150.97,344.10 L151.50,344.13 L152.04,344.16 L152.57,344.19 L153.11,344.22 L153.64,344.25 L154.17,344.28 L154.71,344.31 L155.24,344.33 L155.78,344.36 L156.31,344.38 L156.84,344.40 L157.38,344.43 L157.91,344.45 L158.45,344.47 L158.98,344.49 L159.51,344.51 L160.05,344.53 L160.58,344.55 L161.12,344.57 L161.65,344.58 L162.18,344.60 L162.72,344.62 L163.25,344.63 L163.79,344.65 L164.32,344.66 L164.85,344.68 L165.39,344.69 L165.92,344.70 L166.46,344.72 L166.99,344.73 L167.52,344.74 L168.06,344.75 L168.59,344.76 L169.13,344.77 L169.66,344.79 L170.19,344.80 L170.73,344.81 L171.26,344.82 L171.80,344.82 L172.33,344.83 L172.86,344.84 L173.40,344.85 L173.93,344.86 L174.47,344.87 L175.00,344.87" fill="none" stroke="#8e3fd1" stroke-width="1.05" stroke-linejoin="round"/>
<path d="M68.20,346.70 L68.20,252.63 L68.73,310.35 L69.80,312.49 L70.34,312.73 L70.87,312.94 L71.40,312.93 L71.94,313.05 L72.47,312.96 L73.01,312.76 L73.54,312.65 L74.07,312.56 L74.61,312.71 L75.14,312.67 L75.68,312.64 L76.21,312.70 L76.74,312.71 L77.28,312.57 L77.81,312.62 L78.35,312.59 L78.88,312.53 L79.41,312.54 L79.95,312.55 L80.48,312.53 L81.02,312.41 L81.55,312.33 L82.08,312.32 L82.62,312.39 L83.15,312.44 L83.69,312.62 L84.22,312.70 L84.75,312.69 L85.29,312.83 L85.82,312.90 L86.36,312.88 L86.89,312.97 L87.42,312.95 L87.96,312.90 L88.49,312.73 L89.03,312.77 L89.56,312.81 L90.09,312.77 L90.63,312.73 L91.16,312.76 L91.70,312.68 L92.23,312.63 L92.76,312.66 L93.30,312.66 L93.83,312.73 L94.37,312.78 L94.90,312.99 L95.43,312.92 L95.97,312.76 L96.50,312.64 L97.04,312.51 L97.57,312.45 L98.10,312.56 L98.64,312.58 L99.17,312.70 L99.71,312.62 L100.24,312.54 L100.77,312.62 L101.31,312.52 L101.84,312.42 L102.38,312.41 L102.91,312.50 L103.44,312.57 L103.98,312.56 L104.51,312.29 L105.05,312.17 L105.58,312.10 L106.11,311.99 L106.65,311.90 L107.18,311.76 L107.72,311.73 L108.25,311.81 L108.78,311.97 L109.32,312.05 L109.85,311.93 L110.39,311.91 L110.92,312.11 L111.45,312.20 L111.99,312.24 L112.52,312.34 L113.06,312.47 L113.59,312.65 L114.12,312.74 L114.66,312.85 L115.19,312.86 L115.73,312.76 L116.26,312.94 L116.79,313.01 L117.33,313.11 L117.86,313.13 L118.40,313.15 L118.93,313.25 L119.46,313.31 L120.00,313.15 L120.53,313.11 L121.07,312.96 L121.60,312.90 L122.13,312.92 L122.67,312.86 L123.20,312.95 L123.74,312.88 L124.27,313.05 L124.80,313.14 L125.34,313.06 L125.87,313.15 L126.41,313.26 L126.94,313.19 L127.47,313.27 L128.01,313.31 L128.54,313.32 L129.08,313.31 L129.61,313.13 L130.14,313.21 L130.68,313.12 L131.21,313.07 L131.75,313.19 L132.28,313.05 L132.55,344.35 L132.81,345.45 L133.35,345.49 L133.88,345.52 L134.42,345.55 L134.95,345.58 L135.48,345.61 L136.02,345.64 L136.55,345.67 L137.09,345.69 L137.62,345.72 L138.15,345.75 L138.69,345.77 L139.22,345.79 L139.76,345.82 L140.29,345.84 L140.82,345.86 L141.36,345.88 L141.89,345.90 L142.43,345.92 L142.96,345.94 L143.49,345.96 L144.03,345.97 L144.56,345.99 L145.10,346.01 L145.63,346.02 L146.16,346.04 L146.70,346.05 L147.23,346.07 L147.77,346.08 L148.30,346.09 L148.83,346.11 L149.37,346.12 L149.90,346.13 L150.44,346.14 L150.97,346.15 L151.50,346.16 L152.04,346.17 L152.57,346.18 L153.11,346.19 L153.64,346.20 L154.17,346.21 L154.71,346.22 L155.24,346.23 L155.78,346.24 L156.31,346.25 L156.84,346.26 L157.38,346.26 L157.91,346.27 L158.45,346.28 L158.98,346.28 L159.51,346.29 L160.05,346.30 L160.58,346.30 L161.12,346.31 L161.65,346.32 L162.18,346.32 L162.72,346.33 L163.25,346.33 L163.79,346.34 L164.32,346.34 L164.85,346.35 L165.39,346.35 L165.92,346.36 L166.46,346.36 L166.99,346.36 L167.52,346.37 L168.06,346.37 L168.59,346.38 L169.13,346.38 L169.66,346.38 L170.19,346.39 L170.73,346.39 L171.26,346.39 L171.80,346.40 L172.33,346.40 L172.86,346.40 L173.40,346.40 L173.93,346.41 L174.47,346.41 L175.00,346.41" fill="none" stroke="#2ed12e" stroke-width="1.05" stroke-linejoin="round"/>
<path d="M68.20,346.70 L68.20,287.90 L68.73,322.11 L69.80,324.25 L70.34,324.12 L70.87,324.13 L71.40,324.12 L71.94,323.80 L72.47,323.88 L73.01,323.90 L73.54,323.91 L74.07,323.84 L74.61,323.48 L75.14,323.21 L75.68,323.09 L76.21,322.76 L76.74,322.57 L77.28,322.59 L77.81,322.45 L78.35,322.42 L78.88,322.37 L79.41,322.43 L79.95,322.44 L80.48,322.31 L81.02,322.54 L81.55,322.74 L82.08,322.50 L82.62,322.83 L83.15,322.72 L83.69,322.70 L84.22,323.04 L84.75,323.20 L85.29,322.98 L85.82,322.91 L86.36,323.05 L86.89,322.76 L87.42,322.49 L87.96,322.20 L88.49,322.41 L89.03,322.28 L89.56,322.45 L90.09,322.29 L90.63,322.16 L91.16,322.21 L91.70,322.26 L92.23,322.08 L92.76,321.75 L93.30,322.01 L93.83,322.24 L94.37,322.23 L94.90,322.03 L95.43,321.83 L95.97,321.79 L96.50,322.05 L97.04,321.86 L97.57,321.72 L98.10,321.84 L98.64,321.80 L99.17,321.85 L99.71,321.61 L100.24,321.60 L100.77,321.59 L101.31,321.75 L101.84,321.63 L102.38,321.42 L102.91,321.23 L103.44,321.19 L103.98,320.88 L104.51,320.69 L105.05,320.88 L105.58,320.79 L106.11,320.89 L106.65,320.77 L107.18,320.95 L107.72,320.90 L108.25,321.12 L108.78,321.18 L109.32,321.23 L109.85,321.22 L110.39,321.55 L110.92,321.56 L111.45,321.64 L111.99,321.81 L112.52,321.99 L113.06,322.02 L113.59,322.14 L114.12,321.93 L114.66,321.83 L115.19,321.90 L115.73,321.85 L116.26,321.79 L116.79,321.87 L117.33,321.74 L117.86,321.64 L118.40,321.58 L118.93,321.25 L119.46,321.19 L120.00,320.99 L120.53,321.00 L121.07,320.82 L121.60,320.76 L122.13,320.61 L122.67,320.69 L123.20,320.48 L123.74,320.64 L124.27,320.66 L124.80,320.83 L125.34,321.10 L125.87,321.22 L126.41,321.12 L126.94,321.29 L127.47,321.60 L128.01,321.70 L128.54,321.69 L129.08,321.62 L129.61,321.60 L130.14,321.65 L130.68,321.68 L131.21,321.58 L131.75,321.45 L132.28,321.41 L132.55,341.89 L132.81,343.04 L133.35,343.12 L133.88,343.19 L134.42,343.27 L134.95,343.34 L135.48,343.40 L136.02,343.47 L136.55,343.53 L137.09,343.60 L137.62,343.66 L138.15,343.71 L138.69,343.77 L139.22,343.82 L139.76,343.88 L140.29,343.93 L140.82,343.97 L141.36,344.02 L141.89,344.07 L142.43,344.11 L142.96,344.15 L143.49,344.20 L144.03,344.24 L144.56,344.27 L145.10,344.31 L145.63,344.35 L146.16,344.38 L146.70,344.42 L147.23,344.45 L147.77,344.48 L148.30,344.51 L148.83,344.54 L149.37,344.57 L149.90,344.60 L150.44,344.63 L150.97,344.65 L151.50,344.68 L152.04,344.70 L152.57,344.72 L153.11,344.75 L153.64,344.77 L154.17,344.79 L154.71,344.81 L155.24,344.83 L155.78,344.85 L156.31,344.87 L156.84,344.89 L157.38,344.90 L157.91,344.92 L158.45,344.94 L158.98,344.95 L159.51,344.97 L160.05,344.98 L160.58,345.00 L161.12,345.01 L161.65,345.02 L162.18,345.04 L162.72,345.05 L163.25,345.06 L163.79,345.07 L164.32,345.08 L164.85,345.10 L165.39,345.11 L165.92,345.12 L166.46,345.13 L166.99,345.14 L167.52,345.14 L168.06,345.15 L168.59,345.16 L169.13,345.17 L169.66,345.18 L170.19,345.19 L170.73,345.19 L171.26,345.20 L171.80,345.21 L172.33,345.22 L172.86,345.22 L173.40,345.23 L173.93,345.23 L174.47,345.24 L175.00,345.25" fill="none" stroke="#2424ff" stroke-width="1.05" stroke-linejoin="round"/>
<path d="M68.20,346.70 L68.20,316.77 L68.73,332.80 L69.80,334.94 L70.34,335.30 L70.87,335.11 L71.40,334.71 L71.94,334.35 L72.47,334.11 L73.01,334.03 L73.54,333.55 L74.07,333.39 L74.61,333.12 L75.14,332.86 L75.68,332.97 L76.21,332.75 L76.74,332.60 L77.28,332.52 L77.81,332.42 L78.35,332.36 L78.88,332.37 L79.41,332.21 L79.95,332.31 L80.48,331.97 L81.02,331.86 L81.55,331.71 L82.08,331.42 L82.62,331.33 L83.15,331.34 L83.69,331.24 L84.22,331.37 L84.75,331.61 L85.29,331.55 L85.82,331.55 L86.36,331.65 L86.89,331.59 L87.42,331.63 L87.96,331.65 L88.49,331.58 L89.03,331.61 L89.56,331.63 L90.09,331.85 L90.63,331.58 L91.16,331.25 L91.70,331.06 L92.23,330.94 L92.76,330.68 L93.30,330.94 L93.83,330.82 L94.37,330.93 L94.90,331.11 L95.43,331.23 L95.97,331.10 L96.50,330.98 L97.04,330.96 L97.57,330.84 L98.10,330.80 L98.64,330.83 L99.17,330.86 L99.71,330.58 L100.24,330.52 L100.77,330.33 L101.31,330.05 L101.84,330.06 L102.38,330.21 L102.91,330.10 L103.44,329.99 L103.98,330.14 L104.51,329.98 L105.05,329.98 L105.58,330.01 L106.11,330.04 L106.65,329.96 L107.18,329.83 L107.72,329.75 L108.25,329.62 L108.78,329.47 L109.32,329.42 L109.85,329.58 L110.39,329.73 L110.92,329.69 L111.45,329.72 L111.99,329.45 L112.52,329.27 L113.06,329.61 L113.59,329.76 L114.12,329.75 L114.66,329.51 L115.19,329.56 L115.73,329.65 L116.26,329.75 L116.79,329.43 L117.33,329.69 L117.86,329.53 L118.40,329.85 L118.93,330.00 L119.46,329.62 L120.00,329.73 L120.53,329.72 L121.07,329.89 L121.60,329.71 L122.13,329.52 L122.67,329.50 L123.20,329.51 L123.74,329.39 L124.27,329.60 L124.80,329.65 L125.34,329.65 L125.87,329.84 L126.41,329.76 L126.94,330.02 L127.47,330.07 L128.01,330.29 L128.54,330.23 L129.08,330.31 L129.61,330.36 L130.14,330.21 L130.68,330.17 L131.21,329.80 L131.75,329.70 L132.28,329.52 L132.55,339.75 L132.81,340.91 L133.35,340.99 L133.88,341.07 L134.42,341.15 L134.95,341.23 L135.48,341.30 L136.02,341.38 L136.55,341.45 L137.09,341.51 L137.62,341.58 L138.15,341.64 L138.69,341.70 L139.22,341.76 L139.76,341.82 L140.29,341.87 L140.82,341.93 L141.36,341.98 L141.89,342.03 L142.43,342.07 L142.96,342.12 L143.49,342.17 L144.03,342.21 L144.56,342.25 L145.10,342.29 L145.63,342.33 L146.16,342.37 L146.70,342.41 L147.23,342.44 L147.77,342.48 L148.30,342.51 L148.83,342.54 L149.37,342.57 L149.90,342.60 L150.44,342.63 L150.97,342.66 L151.50,342.69 L152.04,342.71 L152.57,342.74 L153.11,342.76 L153.64,342.79 L154.17,342.81 L154.71,342.83 L155.24,342.86 L155.78,342.88 L156.31,342.90 L156.84,342.92 L157.38,342.94 L157.91,342.95 L158.45,342.97 L158.98,342.99 L159.51,343.00 L160.05,343.02 L160.58,343.04 L161.12,343.05 L161.65,343.07 L162.18,343.08 L162.72,343.09 L163.25,343.11 L163.79,343.12 L164.32,343.13 L164.85,343.14 L165.39,343.15 L165.92,343.17 L166.46,343.18 L166.99,343.19 L167.52,343.20 L168.06,343.21 L168.59,343.22 L169.13,343.23 L169.66,343.23 L170.19,343.24 L170.73,343.25 L171.26,343.26 L171.80,343.27 L172.33,343.27 L172.86,343.28 L173.40,343.29 L173.93,343.29 L174.47,343.30 L175.00,343.31" fill="none" stroke="#ff2a2a" stroke-width="1.05" stroke-linejoin="round"/>
<path d="M129.4,283.0 L136.8,283.0 L133.1,291.3 Z" fill="#000"/>
<text x="132.60" y="280.30" font-size="9.5" text-anchor="middle">Stop</text>
<text x="75.20" y="285.50" font-size="9.5">Association</text>
<text x="136.00" y="328.30" font-size="9.5">Dissociation</text>
<text x="80.20" y="261.40" font-size="11.5"><tspan font-style="italic">K</tspan><tspan font-style="italic" font-size="8.3">D</tspan> = 0.04µM</text>
<line x1="197.50" y1="298.50" x2="216.60" y2="298.50" stroke="#ff2a2a" stroke-width="1.2"/>
<text x="227.80" y="302.10" font-size="11.5">0.001uM</text>
<line x1="197.50" y1="312.00" x2="216.60" y2="312.00" stroke="#2424ff" stroke-width="1.2"/>
<text x="227.80" y="315.60" font-size="11.5">0.01uM</text>
<line x1="197.50" y1="325.50" x2="216.60" y2="325.50" stroke="#2ed12e" stroke-width="1.2"/>
<text x="227.80" y="329.10" font-size="11.5">0.1uM</text>
<line x1="197.50" y1="339.00" x2="216.60" y2="339.00" stroke="#8e3fd1" stroke-width="1.2"/>
<text x="227.80" y="342.60" font-size="11.5">1uM</text>
<text x="292.50" y="217.50" font-size="15" font-weight="bold">d</text>
<text x="397.80" y="220.60" font-size="11.3" text-anchor="middle">caMMP9-NGC</text>
<line x1="385.30" y1="350.00" x2="385.30" y2="243.10" stroke="#4a4a4a" stroke-width="1.4"/>
<line x1="385.30" y1="350.00" x2="492.20" y2="350.00" stroke="#4a4a4a" stroke-width="1.4"/>
<line x1="385.30" y1="350.00" x2="385.30" y2="357.30" stroke="#4a4a4a" stroke-width="1.4"/>
<text x="385.30" y="369.90" font-size="10.9" text-anchor="middle">0</text>
<line x1="412.02" y1="350.00" x2="412.02" y2="357.30" stroke="#4a4a4a" stroke-width="1.4"/>
<text x="412.02" y="369.90" font-size="10.9" text-anchor="middle">50</text>
<line x1="438.75" y1="350.00" x2="438.75" y2="357.30" stroke="#4a4a4a" stroke-width="1.4"/>
<text x="438.75" y="369.90" font-size="10.9" text-anchor="middle">100</text>
<line x1="465.48" y1="350.00" x2="465.48" y2="357.30" stroke="#4a4a4a" stroke-width="1.4"/>
<text x="465.48" y="369.90" font-size="10.9" text-anchor="middle">150</text>
<line x1="492.20" y1="350.00" x2="492.20" y2="357.30" stroke="#4a4a4a" stroke-width="1.4"/>
<text x="492.20" y="369.90" font-size="10.9" text-anchor="middle">200</text>
<line x1="378.00" y1="350.00" x2="385.30" y2="350.00" stroke="#4a4a4a" stroke-width="1.4"/>
<text x="375.60" y="353.92" font-size="10.9" text-anchor="end">0</text>
<line x1="378.00" y1="328.62" x2="385.30" y2="328.62" stroke="#4a4a4a" stroke-width="1.4"/>
<text x="375.60" y="332.54" font-size="10.9" text-anchor="end">2</text>
<line x1="378.00" y1="307.24" x2="385.30" y2="307.24" stroke="#4a4a4a" stroke-width="1.4"/>
<text x="375.60" y="311.16" font-size="10.9" text-anchor="end">4</text>
<line x1="378.00" y1="285.86" x2="385.30" y2="285.86" stroke="#4a4a4a" stroke-width="1.4"/>
<text x="375.60" y="289.78" font-size="10.9" text-anchor="end">6</text>
<line x1="378.00" y1="264.48" x2="385.30" y2="264.48" stroke="#4a4a4a" stroke-width="1.4"/>
<text x="375.60" y="268.40" font-size="10.9" text-anchor="end">8</text>
<line x1="378.00" y1="243.10" x2="385.30" y2="243.10" stroke="#4a4a4a" stroke-width="1.4"/>
<text x="375.60" y="247.02" font-size="10.9" text-anchor="end">10</text>
<text x="439.00" y="389.20" font-size="11.4" text-anchor="middle">Time (sec)</text>
<text x="0.00" y="0.00" font-size="11.4" text-anchor="middle" transform="translate(355.9,296.6) rotate(-90)">Resonance (RU)</text>
<path d="M385.30,350.00 L385.30,276.24 L385.83,348.93 L386.37,348.15 L386.90,347.99 L387.44,348.10 L387.97,347.83 L388.51,348.21 L389.04,348.30 L389.58,348.43 L390.11,348.69 L390.64,349.33 L391.18,349.35 L391.71,349.66 L392.25,349.85 L392.78,349.63 L393.32,349.95 L393.85,349.74 L394.39,349.57 L394.92,349.86 L395.46,349.58 L395.99,349.39 L396.52,349.67 L397.06,349.47 L397.59,349.70 L398.13,349.83 L398.66,349.90 L399.20,349.77 L399.73,350.00 L400.27,350.00 L400.80,349.98 L401.34,349.45 L401.87,349.54 L402.40,349.73 L402.94,349.71 L403.47,349.76 L404.01,349.66 L404.54,350.00 L405.08,350.00 L405.61,350.00 L406.15,350.00 L406.68,350.00 L407.21,350.00 L407.75,350.00 L408.28,350.00 L408.82,349.85 L409.35,349.82 L409.89,349.64 L410.42,349.77 L410.96,349.76 L411.49,349.46 L412.02,350.00 L412.56,350.00 L413.09,350.00 L413.63,349.71 L414.16,349.94 L414.70,350.00 L415.23,350.00 L415.77,349.84 L416.30,349.71 L416.84,349.72 L417.37,349.18 L417.90,348.90 L418.44,349.36 L418.97,349.98 L419.51,349.61 L420.04,349.14 L420.58,348.98 L421.11,348.84 L421.65,349.17 L422.18,349.59 L422.72,349.53 L423.25,349.57 L423.78,348.94 L424.32,348.24 L424.85,348.59 L425.39,349.17 L425.92,349.41 L426.46,349.46 L426.99,348.95 L427.53,348.54 L428.06,348.69 L428.59,348.83 L429.13,348.89 L429.66,349.28 L430.20,349.05 L430.73,349.10 L431.27,348.63 L431.80,348.85 L432.34,348.67 L432.87,348.89 L433.40,349.21 L433.94,349.60 L434.47,349.98 L435.01,349.85 L435.54,349.74 L436.08,349.68 L436.61,350.00 L437.15,350.00 L437.68,350.00 L438.22,350.00 L438.75,350.00 L439.28,350.00 L439.82,350.00 L440.35,350.00 L440.89,350.00 L441.42,350.00 L441.96,349.69 L442.49,349.42 L443.03,349.50 L443.56,349.62 L444.10,349.60 L444.63,349.33 L445.16,348.81 L445.70,348.81 L446.23,349.14 L446.77,349.48 L447.30,349.46 L447.84,349.81 L448.37,349.97 L448.91,349.65 L449.44,348.93 L449.44,350.00 L449.71,346.79 L449.97,348.07 L450.51,348.62 L451.04,349.12 L451.58,349.10 L452.11,348.80 L452.65,348.66 L453.18,349.02 L453.72,348.74 L454.25,348.37 L454.78,348.50 L455.32,349.04 L455.85,348.48 L456.39,348.27 L456.92,347.91 L457.46,348.05 L457.99,348.40 L458.53,347.98 L459.06,348.35 L459.60,348.19 L460.13,348.20 L460.66,348.21 L461.20,348.77 L461.73,348.69 L462.27,348.81 L462.80,348.27 L463.34,348.33 L463.87,348.60 L464.41,348.66 L464.94,348.65 L465.48,348.91 L466.01,349.01 L466.54,349.14 L467.08,349.15 L467.61,348.98 L468.15,349.03 L468.68,348.59 L469.22,348.14 L469.75,347.60 L470.29,348.08 L470.82,348.05 L471.35,347.39 L471.89,346.87 L472.42,347.15 L472.96,347.32 L473.49,347.70 L474.03,347.97 L474.56,348.46 L475.10,349.04 L475.63,349.28 L476.16,349.21 L476.70,349.65 L477.23,349.49 L477.77,349.42 L478.30,349.20 L478.84,349.32 L479.37,349.34 L479.91,348.97 L480.44,348.48 L480.98,348.16 L481.51,348.33 L482.04,348.24 L482.58,348.68 L483.11,348.08 L483.65,348.66 L484.18,348.54 L484.72,348.14 L485.25,348.73 L485.79,349.04 L486.32,348.75 L486.86,348.22 L487.39,348.54 L487.92,348.79 L488.46,349.44 L488.99,348.89 L489.53,348.97 L490.06,349.08 L490.60,348.43 L491.13,348.49 L491.67,348.89 L492.20,348.75" fill="none" stroke="#8e3fd1" stroke-width="1.1" stroke-linejoin="round"/>
<path d="M385.30,350.00 L385.30,346.79 L385.83,348.93 L386.37,348.18 L386.90,347.70 L387.44,347.19 L387.97,346.90 L388.51,347.28 L389.04,347.65 L389.58,347.75 L390.11,347.76 L390.64,347.64 L391.18,347.22 L391.71,347.02 L392.25,347.12 L392.78,347.26 L393.32,347.09 L393.85,347.03 L394.39,347.12 L394.92,347.22 L395.46,347.32 L395.99,347.40 L396.52,347.86 L397.06,347.84 L397.59,348.28 L398.13,348.80 L398.66,349.23 L399.20,349.07 L399.73,349.06 L400.27,348.60 L400.80,348.52 L401.34,347.84 L401.87,347.79 L402.40,348.29 L402.94,348.41 L403.47,348.08 L404.01,347.57 L404.54,347.65 L405.08,347.72 L405.61,348.14 L406.15,348.34 L406.68,348.58 L407.21,348.21 L407.75,347.64 L408.28,347.22 L408.82,347.50 L409.35,347.40 L409.89,347.52 L410.42,347.27 L410.96,347.30 L411.49,347.21 L412.02,347.57 L412.56,346.34 L413.09,346.79 L413.63,347.17 L414.16,346.60 L414.70,346.80 L415.23,346.77 L415.77,346.90 L416.30,346.44 L416.84,346.61 L417.37,346.59 L417.90,346.17 L418.44,345.86 L418.97,345.23 L419.51,345.82 L420.04,345.90 L420.58,345.53 L421.11,345.20 L421.65,345.25 L422.18,345.60 L422.72,345.56 L423.25,346.07 L423.78,346.42 L424.32,346.43 L424.85,346.07 L425.39,345.73 L425.92,346.07 L426.46,346.05 L426.99,346.40 L427.53,346.23 L428.06,345.87 L428.59,345.25 L429.13,345.31 L429.66,345.60 L430.20,345.57 L430.73,346.10 L431.27,346.10 L431.80,346.65 L432.34,346.83 L432.87,346.83 L433.40,346.97 L433.94,347.19 L434.47,347.11 L435.01,347.55 L435.54,347.77 L436.08,347.43 L436.61,347.56 L437.15,347.44 L437.68,347.44 L438.22,347.03 L438.75,347.07 L439.28,347.51 L439.82,347.59 L440.35,347.30 L440.89,347.13 L441.42,347.16 L441.96,347.23 L442.49,347.34 L443.03,346.97 L443.56,347.26 L444.10,349.06 L444.63,348.88 L445.16,348.24 L445.70,348.31 L446.23,348.29 L446.77,348.51 L447.30,348.26 L447.84,347.74 L448.37,347.51 L448.91,347.55 L449.44,348.93 L449.44,346.79 L449.71,346.79 L449.97,346.54 L450.51,346.23 L451.04,346.79 L451.58,347.02 L452.11,346.77 L452.65,346.72 L453.18,346.41 L453.72,346.76 L454.25,346.84 L454.78,346.77 L455.32,346.80 L455.85,347.33 L456.39,347.07 L456.92,346.59 L457.46,346.59 L457.99,346.84 L458.53,346.99 L459.06,347.01 L459.60,347.30 L460.13,347.53 L460.66,347.44 L461.20,347.06 L461.73,346.78 L462.27,347.18 L462.80,347.50 L463.34,346.96 L463.87,346.70 L464.41,346.83 L464.94,347.11 L465.48,346.52 L466.01,346.00 L466.54,346.03 L467.08,346.68 L467.61,346.07 L468.15,346.15 L468.68,346.07 L469.22,346.33 L469.75,345.86 L470.29,345.84 L470.82,345.95 L471.35,346.52 L471.89,346.58 L472.42,345.98 L472.96,346.06 L473.49,346.21 L474.03,346.72 L474.56,346.89 L475.10,347.12 L475.63,346.95 L476.16,347.45 L476.70,347.43 L477.23,347.19 L477.77,347.15 L478.30,347.74 L478.84,347.46 L479.37,347.05 L479.91,347.32 L480.44,347.08 L480.98,347.28 L481.51,346.92 L482.04,346.70 L482.58,346.77 L483.11,347.21 L483.65,346.93 L484.18,346.91 L484.72,347.16 L485.25,346.70 L485.79,346.99 L486.32,346.75 L486.86,347.18 L487.39,347.13 L487.92,347.23 L488.46,347.29 L488.99,347.03 L489.53,346.88 L490.06,346.86 L490.60,347.22 L491.13,347.20 L491.67,347.44 L492.20,347.37" fill="none" stroke="#2ed12e" stroke-width="1.1" stroke-linejoin="round"/>
<path d="M385.30,350.00 L385.30,346.79 L385.83,348.93 L386.37,349.72 L386.90,349.39 L387.44,349.32 L387.97,349.16 L388.51,348.47 L389.04,348.47 L389.58,348.45 L390.11,348.68 L390.64,347.99 L391.18,348.00 L391.71,347.56 L392.25,347.59 L392.78,347.57 L393.32,347.62 L393.85,347.67 L394.39,348.17 L394.92,348.52 L395.46,348.09 L395.99,348.71 L396.52,348.41 L397.06,348.92 L397.59,348.99 L398.13,349.01 L398.66,349.22 L399.20,349.23 L399.73,349.12 L400.27,349.19 L400.80,349.38 L401.34,349.26 L401.87,349.90 L402.40,349.97 L402.94,350.00 L403.47,349.87 L404.01,349.73 L404.54,349.75 L405.08,349.78 L405.61,349.39 L406.15,349.68 L406.68,349.53 L407.21,349.08 L407.75,348.94 L408.28,348.41 L408.82,348.70 L409.35,348.77 L409.89,348.78 L410.42,348.83 L410.96,348.67 L411.49,348.29 L412.02,348.39 L412.56,348.27 L413.09,348.34 L413.63,348.25 L414.16,348.24 L414.70,348.40 L415.23,348.49 L415.77,348.24 L416.30,348.85 L416.84,348.76 L417.37,349.02 L417.90,349.00 L418.44,349.01 L418.97,349.28 L419.51,348.97 L420.04,348.80 L420.58,348.88 L421.11,348.97 L421.65,349.11 L422.18,349.64 L422.72,349.56 L423.25,349.71 L423.78,349.58 L424.32,349.67 L424.85,349.74 L425.39,350.00 L425.92,350.00 L426.46,350.00 L426.99,350.00 L427.53,350.00 L428.06,350.00 L428.59,350.00 L429.13,350.00 L429.66,350.00 L430.20,350.00 L430.73,350.00 L431.27,350.00 L431.80,350.00 L432.34,350.00 L432.87,350.00 L433.40,349.72 L433.94,349.61 L434.47,349.77 L435.01,349.87 L435.54,349.83 L436.08,349.61 L436.61,349.18 L437.15,349.35 L437.68,349.51 L438.22,349.60 L438.75,349.82 L439.28,349.58 L439.82,349.43 L440.35,349.02 L440.89,349.16 L441.42,349.11 L441.96,349.15 L442.49,349.26 L443.03,348.78 L443.56,348.76 L444.10,348.85 L444.63,348.96 L445.16,349.05 L445.70,349.49 L446.23,349.24 L446.77,349.93 L447.30,350.00 L447.84,349.55 L448.37,350.00 L448.91,350.00 L449.44,348.93 L449.44,243.10 L449.71,346.79 L449.97,348.87 L450.51,348.80 L451.04,348.49 L451.58,347.93 L452.11,348.38 L452.65,348.16 L453.18,348.35 L453.72,349.02 L454.25,348.46 L454.78,348.02 L455.32,347.94 L455.85,348.31 L456.39,348.16 L456.92,348.21 L457.46,348.00 L457.99,347.67 L458.53,347.56 L459.06,347.43 L459.60,348.01 L460.13,348.42 L460.66,348.93 L461.20,348.68 L461.73,348.76 L462.27,348.79 L462.80,348.51 L463.34,348.53 L463.87,348.67 L464.41,348.42 L464.94,348.18 L465.48,347.76 L466.01,347.40 L466.54,347.45 L467.08,347.53 L467.61,347.33 L468.15,347.80 L468.68,347.67 L469.22,347.86 L469.75,348.08 L470.29,348.23 L470.82,348.26 L471.35,347.95 L471.89,347.59 L472.42,347.82 L472.96,347.89 L473.49,347.80 L474.03,348.28 L474.56,347.62 L475.10,347.34 L475.63,347.00 L476.16,347.06 L476.70,347.03 L477.23,347.24 L477.77,346.85 L478.30,346.99 L478.84,346.60 L479.37,346.45 L479.91,346.58 L480.44,346.63 L480.98,346.92 L481.51,347.26 L482.04,347.52 L482.58,347.82 L483.11,347.76 L483.65,348.18 L484.18,348.80 L484.72,349.05 L485.25,348.89 L485.79,349.06 L486.32,349.19 L486.86,349.32 L487.39,349.76 L487.92,349.30 L488.46,349.50 L488.99,349.09 L489.53,348.56 L490.06,348.59 L490.60,348.84 L491.13,348.83 L491.67,348.32 L492.20,347.73" fill="none" stroke="#2424ff" stroke-width="1.1" stroke-linejoin="round"/>
<path d="M385.30,350.00 L385.30,277.31 L385.83,348.93 L386.37,348.39 L386.90,348.60 L387.44,349.09 L387.97,349.10 L388.51,349.18 L389.04,348.70 L389.58,348.57 L390.11,348.96 L390.64,349.26 L391.18,349.71 L391.71,350.00 L392.25,350.00 L392.78,350.00 L393.32,349.88 L393.85,349.71 L394.39,349.56 L394.92,349.33 L395.46,348.94 L395.99,348.79 L396.52,348.78 L397.06,348.67 L397.59,348.55 L398.13,348.51 L398.66,348.52 L399.20,348.24 L399.73,348.56 L400.27,348.77 L400.80,348.76 L401.34,349.16 L401.87,348.57 L402.40,348.75 L402.94,349.07 L403.47,349.50 L404.01,349.19 L404.54,348.99 L405.08,349.38 L405.61,349.18 L406.15,349.46 L406.68,348.93 L407.21,349.40 L407.75,349.16 L408.28,348.90 L408.82,348.43 L409.35,348.81 L409.89,348.83 L410.42,348.62 L410.96,348.83 L411.49,348.67 L412.02,348.90 L412.56,348.95 L413.09,348.85 L413.63,349.05 L414.16,349.08 L414.70,348.75 L415.23,348.87 L415.77,348.61 L416.30,348.51 L416.84,348.73 L417.37,348.81 L417.90,348.22 L418.44,348.64 L418.97,348.03 L419.51,348.60 L420.04,348.97 L420.58,349.36 L421.11,349.16 L421.65,349.05 L422.18,349.06 L422.72,348.70 L423.25,349.19 L423.78,348.91 L424.32,349.18 L424.85,348.63 L425.39,348.22 L425.92,347.93 L426.46,348.35 L426.99,348.48 L427.53,348.65 L428.06,348.68 L428.59,348.36 L429.13,348.15 L429.66,348.42 L430.20,348.65 L430.73,348.64 L431.27,348.69 L431.80,348.85 L432.34,348.75 L432.87,348.21 L433.40,348.66 L433.94,349.01 L434.47,349.34 L435.01,348.94 L435.54,348.64 L436.08,349.10 L436.61,349.42 L437.15,349.33 L437.68,349.43 L438.22,349.70 L438.75,349.76 L439.28,349.66 L439.82,349.74 L440.35,349.54 L440.89,349.62 L441.42,349.66 L441.96,349.06 L442.49,349.17 L443.03,349.13 L443.56,348.78 L444.10,348.31 L444.63,348.00 L445.16,347.82 L445.70,348.40 L446.23,348.47 L446.77,348.47 L447.30,349.03 L447.84,348.82 L448.37,349.08 L448.91,349.52 L449.44,348.93 L449.44,293.34 L449.71,346.79 L449.97,348.45 L450.51,348.48 L451.04,348.43 L451.58,348.10 L452.11,348.24 L452.65,348.21 L453.18,347.91 L453.72,347.90 L454.25,347.37 L454.78,346.99 L455.32,347.26 L455.85,347.35 L456.39,347.16 L456.92,347.32 L457.46,347.50 L457.99,347.06 L458.53,346.86 L459.06,346.58 L459.60,346.61 L460.13,346.65 L460.66,346.46 L461.20,346.41 L461.73,346.64 L462.27,346.72 L462.80,346.42 L463.34,346.88 L463.87,347.23 L464.41,347.22 L464.94,347.21 L465.48,347.38 L466.01,347.70 L466.54,347.86 L467.08,347.86 L467.61,347.63 L468.15,347.80 L468.68,347.36 L469.22,346.98 L469.75,347.43 L470.29,347.47 L470.82,347.36 L471.35,347.26 L471.89,347.21 L472.42,346.82 L472.96,347.26 L473.49,347.16 L474.03,347.54 L474.56,347.65 L475.10,347.09 L475.63,347.19 L476.16,347.69 L476.70,347.56 L477.23,347.52 L477.77,347.71 L478.30,347.35 L478.84,347.28 L479.37,346.78 L479.91,346.98 L480.44,347.37 L480.98,347.05 L481.51,346.97 L482.04,346.89 L482.58,347.00 L483.11,346.97 L483.65,347.26 L484.18,347.00 L484.72,347.35 L485.25,347.70 L485.79,347.80 L486.32,348.21 L486.86,348.36 L487.39,348.56 L487.92,348.54 L488.46,348.59 L488.99,348.42 L489.53,348.95 L490.06,349.05 L490.60,348.54 L491.13,348.04 L491.67,347.95 L492.20,347.79" fill="none" stroke="#ff2a2a" stroke-width="1.1" stroke-linejoin="round"/>
<path d="M445.9,231.0 L452.1,231.0 L449.0,239.6 Z" fill="#000"/>
<text x="449.50" y="226.50" font-size="9.5" text-anchor="middle">Stop</text>
<text x="392.00" y="263.60" font-size="9.5">Association</text>
<text x="452.80" y="283.10" font-size="9.5">Dissociation</text>
<line x1="517.00" y1="289.00" x2="536.60" y2="289.00" stroke="#ff2a2a" stroke-width="1.2"/>
<text x="547.40" y="292.60" font-size="11.5">0.001uM</text>
<line x1="517.00" y1="302.40" x2="536.60" y2="302.40" stroke="#2424ff" stroke-width="1.2"/>
<text x="547.40" y="306.00" font-size="11.5">0.01uM</text>
<line x1="517.00" y1="315.80" x2="536.60" y2="315.80" stroke="#2ed12e" stroke-width="1.2"/>
<text x="547.40" y="319.40" font-size="11.5">0.1uM</text>
<line x1="517.00" y1="329.20" x2="536.60" y2="329.20" stroke="#8e3fd1" stroke-width="1.2"/>
<text x="547.40" y="332.80" font-size="11.5">1uM</text>
<text x="296.80" y="431.90" font-size="15" font-weight="bold">f</text>
<line x1="383.40" y1="531.80" x2="383.40" y2="424.40" stroke="#3a3a3a" stroke-width="1.4"/>
<line x1="383.40" y1="531.80" x2="526.41" y2="531.80" stroke="#3a3a3a" stroke-width="1.4"/>
<line x1="383.40" y1="531.80" x2="383.40" y2="539.10" stroke="#3a3a3a" stroke-width="1.4"/>
<text x="383.40" y="551.40" font-size="11.2" text-anchor="middle">0</text>
<line x1="414.90" y1="531.80" x2="414.90" y2="539.10" stroke="#3a3a3a" stroke-width="1.4"/>
<text x="414.90" y="551.40" font-size="11.2" text-anchor="middle">2000</text>
<line x1="446.40" y1="531.80" x2="446.40" y2="539.10" stroke="#3a3a3a" stroke-width="1.4"/>
<text x="446.40" y="551.40" font-size="11.2" text-anchor="middle">4000</text>
<line x1="477.90" y1="531.80" x2="477.90" y2="539.10" stroke="#3a3a3a" stroke-width="1.4"/>
<text x="477.90" y="551.40" font-size="11.2" text-anchor="middle">6000</text>
<line x1="509.40" y1="531.80" x2="509.40" y2="539.10" stroke="#3a3a3a" stroke-width="1.4"/>
<text x="509.40" y="551.40" font-size="11.2" text-anchor="middle">8000</text>
<line x1="376.10" y1="531.80" x2="383.40" y2="531.80" stroke="#3a3a3a" stroke-width="1.4"/>
<text x="373.70" y="535.83" font-size="11.2" text-anchor="end">0</text>
<line x1="376.10" y1="496.00" x2="383.40" y2="496.00" stroke="#3a3a3a" stroke-width="1.4"/>
<text x="373.70" y="500.03" font-size="11.2" text-anchor="end">20</text>
<line x1="376.10" y1="460.20" x2="383.40" y2="460.20" stroke="#3a3a3a" stroke-width="1.4"/>
<text x="373.70" y="464.23" font-size="11.2" text-anchor="end">40</text>
<line x1="376.10" y1="424.40" x2="383.40" y2="424.40" stroke="#3a3a3a" stroke-width="1.4"/>
<text x="373.70" y="428.43" font-size="11.2" text-anchor="end">60</text>
<text x="454.50" y="571.00" font-size="11" text-anchor="middle">Comformation</text>
<text x="0.00" y="0.00" font-size="11" text-anchor="middle" transform="translate(353.8,480) rotate(-90)">RMSD</text>
<path d="M383.40,530.80 L383.59,530.64 L383.78,529.86 L383.97,529.79 L384.16,530.33 L384.34,530.41 L384.53,529.93 L384.72,528.70 L384.91,529.30 L385.10,528.28 L385.29,528.50 L385.48,528.18 L385.67,529.55 L385.86,529.51 L386.05,529.87 L386.23,529.30 L386.42,529.17 L386.61,529.67 L386.80,528.92 L386.99,529.70 L387.18,529.40 L387.37,529.57 L387.56,528.56 L387.75,529.21 L387.94,529.44 L388.12,529.57 L388.31,528.72 L388.50,528.36 L388.69,528.14 L388.88,527.65 L389.07,527.86 L389.26,528.92 L389.45,529.09 L389.64,527.89 L389.83,527.78 L390.01,528.18 L390.20,527.70 L390.39,528.34 L390.58,528.53 L390.77,528.55 L390.96,528.75 L391.15,528.01 L391.34,527.44 L391.53,527.30 L391.72,528.05 L391.90,527.62 L392.09,527.17 L392.28,527.39 L392.47,527.81 L392.66,528.03 L392.85,527.86 L393.04,528.60 L393.23,528.66 L393.42,528.09 L393.61,527.66 L393.79,528.46 L393.98,528.44 L394.17,528.48 L394.36,528.44 L394.55,527.83 L394.74,528.46 L394.93,527.82 L395.12,528.98 L395.31,528.96 L395.50,528.73 L395.69,528.85 L395.87,527.95 L396.06,528.19 L396.25,528.31 L396.44,528.56 L396.63,529.63 L396.82,528.57 L397.01,528.36 L397.20,528.41 L397.39,528.83 L397.57,528.23 L397.76,527.70 L397.95,529.00 L398.14,527.91 L398.33,528.40 L398.52,527.96 L398.71,527.45 L398.90,527.51 L399.09,527.93 L399.28,528.88 L399.46,527.70 L399.65,528.59 L399.84,528.28 L400.03,527.38 L400.22,528.25 L400.41,528.31 L400.60,527.21 L400.79,527.25 L400.98,528.07 L401.17,528.01 L401.35,528.25 L401.54,528.58 L401.73,528.51 L401.92,527.23 L402.11,528.70 L402.30,528.39 L402.49,528.39 L402.68,528.76 L402.87,528.18 L403.06,527.80 L403.25,527.63 L403.43,528.03 L403.62,527.71 L403.81,529.05 L404.00,528.56 L404.19,527.44 L404.38,529.07 L404.57,528.79 L404.76,528.41 L404.95,528.66 L405.13,528.21 L405.32,528.94 L405.51,528.63 L405.70,527.47 L405.89,528.73 L406.08,527.42 L406.27,528.71 L406.46,527.28 L406.65,527.92 L406.84,528.00 L407.02,528.89 L407.21,529.03 L407.40,527.86 L407.59,528.71 L407.78,528.79 L407.97,527.80 L408.16,527.64 L408.35,528.84 L408.54,527.49 L408.73,528.16 L408.91,528.31 L409.10,528.56 L409.29,528.07 L409.48,527.22 L409.67,528.40 L409.86,528.59 L410.05,528.74 L410.24,528.51 L410.43,528.05 L410.62,527.31 L410.80,528.66 L410.99,528.28 L411.18,527.12 L411.37,526.84 L411.56,526.81 L411.75,528.08 L411.94,528.03 L412.13,526.84 L412.32,527.60 L412.51,527.23 L412.69,527.98 L412.88,528.45 L413.07,528.06 L413.26,527.17 L413.45,527.16 L413.64,527.70 L413.83,527.84 L414.02,527.58 L414.21,527.49 L414.40,527.23 L414.58,526.61 L414.77,527.39 L414.96,526.93 L415.15,526.41 L415.34,526.33 L415.53,527.28 L415.72,526.10 L415.91,526.41 L416.10,527.63 L416.29,527.50 L416.47,527.61 L416.66,527.75 L416.85,526.42 L417.04,527.16 L417.23,526.50 L417.42,527.56 L417.61,527.63 L417.80,526.08 L417.99,526.20 L418.18,525.64 L418.37,525.95 L418.55,526.50 L418.74,526.14 L418.93,527.48 L419.12,526.79 L419.31,527.04 L419.50,527.63 L419.69,526.84 L419.88,527.21 L420.07,526.98 L420.25,527.29 L420.44,527.46 L420.63,527.21 L420.82,526.77 L421.01,525.98 L421.20,525.95 L421.39,526.19 L421.58,526.15 L421.77,527.03 L421.96,525.87 L422.14,527.04 L422.33,527.20 L422.52,526.62 L422.71,526.26 L422.90,527.17 L423.09,526.66 L423.28,526.97 L423.47,526.08 L423.66,526.87 L423.85,526.84 L424.03,526.79 L424.22,526.26 L424.41,526.06 L424.60,526.84 L424.79,527.17 L424.98,526.97 L425.17,527.89 L425.36,527.54 L425.55,526.99 L425.74,527.04 L425.92,528.03 L426.11,526.78 L426.30,527.54 L426.49,526.73 L426.68,527.67 L426.87,528.05 L427.06,527.60 L427.25,527.12 L427.44,527.99 L427.63,527.23 L427.81,527.57 L428.00,528.36 L428.19,528.29 L428.38,527.82 L428.57,527.95 L428.76,528.13 L428.95,527.75 L429.14,527.42 L429.33,527.94 L429.52,528.40 L429.70,528.17 L429.89,527.71 L430.08,527.16 L430.27,527.80 L430.46,528.08 L430.65,527.81 L430.84,527.67 L431.03,528.10 L431.22,527.16 L431.41,526.49 L431.59,527.14 L431.78,526.85 L431.97,526.66 L432.16,526.74 L432.35,526.54 L432.54,527.26 L432.73,526.63 L432.92,527.41 L433.11,526.30 L433.30,526.94 L433.48,526.55 L433.67,525.85 L433.86,526.80 L434.05,527.10 L434.24,526.07 L434.43,526.34 L434.62,527.13 L434.81,527.17 L435.00,526.57 L435.19,527.01 L435.38,525.65 L435.56,526.88 L435.75,526.68 L435.94,526.71 L436.13,526.61 L436.32,526.57 L436.51,526.40 L436.70,526.54 L436.89,526.89 L437.08,527.29 L437.26,525.94 L437.45,526.67 L437.64,527.68 L437.83,527.18 L438.02,526.69 L438.21,526.34 L438.40,527.65 L438.59,527.58 L438.78,526.68 L438.97,526.77 L439.15,526.21 L439.34,526.35 L439.53,527.24 L439.72,527.08 L439.91,527.01 L440.10,526.46 L440.29,527.30 L440.48,527.15 L440.67,527.54 L440.86,526.51 L441.04,527.48 L441.23,525.96 L441.42,526.59 L441.61,526.46 L441.80,527.33 L441.99,526.91 L442.18,526.41 L442.37,525.93 L442.56,526.35 L442.75,526.91 L442.94,525.87 L443.12,526.62 L443.31,526.97 L443.50,527.37 L443.69,527.34 L443.88,526.14 L444.07,527.57 L444.26,526.87 L444.45,526.71 L444.64,526.95 L444.82,526.36 L445.01,526.27 L445.20,526.17 L445.39,526.18 L445.58,527.17 L445.77,527.63 L445.96,526.87 L446.15,526.83 L446.34,526.93 L446.53,525.89 L446.71,526.96 L446.90,526.04 L447.09,525.89 L447.28,527.27 L447.47,525.91 L447.66,526.77 L447.85,527.02 L448.04,527.00 L448.23,527.25 L448.42,526.54 L448.60,526.73 L448.79,525.90 L448.98,525.88 L449.17,527.18 L449.36,526.75 L449.55,526.86 L449.74,527.35 L449.93,527.28 L450.12,527.42 L450.31,526.72 L450.50,527.20 L450.68,527.70 L450.87,527.57 L451.06,527.33 L451.25,526.96 L451.44,527.55 L451.63,526.68 L451.82,527.40 L452.01,526.46 L452.20,526.49 L452.38,527.11 L452.57,526.10 L452.76,526.66 L452.95,526.46 L453.14,526.33 L453.33,526.27 L453.52,526.40 L453.71,527.14 L453.90,526.07 L454.09,525.96 L454.27,526.40 L454.46,526.05 L454.65,526.40 L454.84,525.23 L455.03,525.55 L455.22,526.35 L455.41,525.41 L455.60,525.32 L455.79,526.18 L455.98,528.57 L456.16,529.23 L456.35,529.80 L456.54,528.78 L456.73,529.53 L456.92,528.99 L457.11,529.15 L457.30,530.01 L457.49,529.51 L457.68,528.97 L457.87,529.58 L458.05,529.57 L458.24,529.14 L458.43,529.72 L458.62,529.69 L458.81,529.49 L459.00,529.16 L459.19,530.20 L459.38,530.59 L459.57,529.57 L459.76,529.66 L459.94,529.97 L460.13,528.91 L460.32,528.92 L460.51,529.58 L460.70,528.90 L460.89,529.37 L461.08,529.29 L461.27,529.99 L461.46,530.49 L461.65,529.23 L461.83,529.22 L462.02,529.61 L462.21,529.17 L462.40,529.17 L462.59,529.54 L462.78,528.71 L462.97,528.83 L463.16,529.22 L463.35,529.41 L463.54,528.48 L463.72,528.76 L463.91,528.07 L464.10,528.97 L464.29,528.62 L464.48,529.11 L464.67,528.65 L464.86,528.31 L465.05,528.91 L465.24,529.00 L465.43,528.30 L465.62,528.57 L465.80,528.29 L465.99,528.82 L466.18,528.73 L466.37,528.27 L466.56,527.45 L466.75,527.72 L466.94,528.41 L467.13,528.44 L467.32,528.99 L467.50,528.66 L467.69,528.63 L467.88,527.54 L468.07,528.99 L468.26,527.89 L468.45,528.82 L468.64,528.81 L468.83,528.87 L469.02,527.71 L469.21,528.82 L469.39,528.30 L469.58,528.51 L469.77,529.05 L469.96,528.78 L470.15,527.73 L470.34,528.07 L470.53,528.12 L470.72,527.87 L470.91,529.25 L471.10,528.19 L471.28,528.27 L471.47,528.97 L471.66,528.45 L471.85,527.71 L472.04,528.67 L472.23,528.09 L472.42,529.15 L472.61,528.44 L472.80,529.13 L472.99,528.55 L473.17,528.54 L473.36,527.90 L473.55,528.26 L473.74,528.68 L473.93,528.37 L474.12,528.63 L474.31,527.86 L474.50,528.66 L474.69,528.41 L474.88,528.22 L475.06,528.62 L475.25,529.07 L475.44,528.92 L475.63,528.20 L475.82,528.91 L476.01,527.89 L476.20,528.45 L476.39,527.71 L476.58,527.70 L476.77,527.85 L476.95,528.32 L477.14,528.75 L477.33,527.76 L477.52,527.28 L477.71,526.92 L477.90,528.08 L478.09,528.10 L478.28,526.56 L478.47,526.91 L478.66,527.36 L478.84,526.97 L479.03,528.14 L479.22,527.44 L479.41,527.06 L479.60,527.13 L479.79,527.73 L479.98,527.78 L480.17,527.10 L480.36,526.57 L480.55,527.83 L480.73,528.12 L480.92,527.79 L481.11,526.76 L481.30,527.49 L481.49,527.37 L481.68,526.34 L481.87,527.07 L482.06,527.56 L482.25,526.85 L482.44,528.26 L482.62,527.90 L482.81,527.24 L483.00,528.33 L483.19,528.52 L483.38,527.63 L483.57,528.05 L483.76,526.73 L483.95,528.15 L484.14,527.18 L484.33,527.72 L484.51,527.02 L484.70,527.44 L484.89,526.91 L485.08,527.39 L485.27,527.44 L485.46,526.97 L485.65,526.31 L485.84,526.91 L486.03,527.13 L486.22,526.88 L486.40,527.52 L486.59,527.16 L486.78,526.98 L486.97,527.19 L487.16,527.05 L487.35,527.60 L487.54,527.94 L487.73,527.73 L487.92,527.22 L488.11,527.60 L488.29,526.89 L488.48,527.55 L488.67,526.82 L488.86,526.87 L489.05,526.91 L489.24,526.92 L489.43,527.27 L489.62,527.41 L489.81,527.71 L490.00,528.09 L490.18,526.99 L490.37,527.57 L490.56,528.41 L490.75,527.20 L490.94,527.93 L491.13,527.76 L491.32,528.04 L491.51,528.40 L491.70,526.95 L491.89,528.28 L492.07,527.96 L492.26,526.96 L492.45,528.53 L492.64,528.08 L492.83,528.20 L493.02,528.72 L493.21,527.57 L493.40,528.51 L493.59,529.39 L493.78,528.62 L493.96,529.30 L494.15,528.22 L494.34,528.17 L494.53,528.09 L494.72,529.46 L494.91,528.60 L495.10,529.08 L495.29,528.80 L495.48,529.05 L495.67,528.95 L495.85,529.42 L496.04,528.47 L496.23,529.36 L496.42,527.97 L496.61,529.50 L496.80,527.83 L496.99,529.11 L497.18,529.09 L497.37,527.88 L497.56,527.96 L497.75,527.53 L497.93,528.02 L498.12,527.75 L498.31,528.38 L498.50,527.37 L498.69,527.64 L498.88,527.11 L499.07,528.44 L499.26,528.16 L499.45,527.11 L499.63,526.71 L499.82,527.82 L500.01,527.39 L500.20,527.60 L500.39,528.01 L500.58,527.92 L500.77,527.69 L500.96,528.43 L501.15,527.95 L501.34,526.96 L501.52,527.81 L501.71,527.29 L501.90,527.60 L502.09,527.28 L502.28,527.09 L502.47,526.93 L502.66,526.47 L502.85,527.03 L503.04,527.70 L503.23,527.58 L503.41,527.87 L503.60,527.56 L503.79,527.10 L503.98,527.25 L504.17,527.82 L504.36,527.62 L504.55,527.70 L504.74,527.36 L504.93,526.66 L505.12,526.80 L505.30,525.63 L505.49,526.06 L505.68,526.58 L505.87,526.37 L506.06,527.23 L506.25,526.01 L506.44,526.08 L506.63,526.91 L506.82,526.56 L507.01,527.07 L507.19,527.06 L507.38,527.01 L507.57,527.23 L507.76,526.45 L507.95,526.43 L508.14,526.33 L508.33,527.36 L508.52,526.27 L508.71,526.60 L508.90,526.75 L509.08,526.81 L509.27,526.90 L509.46,527.24 L509.65,526.95 L509.84,526.53 L510.03,526.32 L510.22,526.14 L510.41,527.13 L510.60,525.91 L510.79,526.02 L510.97,526.28 L511.16,525.98 L511.35,527.29 L511.54,526.01 L511.73,526.01 L511.92,527.27 L512.11,526.69 L512.30,526.22 L512.49,527.22 L512.68,526.28 L512.87,526.41 L513.05,527.12 L513.24,527.53 L513.43,527.47 L513.62,526.69 L513.81,527.30 L514.00,527.24 L514.19,527.23 L514.38,526.47 L514.57,527.70 L514.75,528.10 L514.94,526.55 L515.13,527.60 L515.32,527.55 L515.51,526.65 L515.70,527.82 L515.89,528.13 L516.08,526.70 L516.27,528.01 L516.46,528.06 L516.64,526.78 L516.83,527.89 L517.02,526.55 L517.21,527.64 L517.40,527.62 L517.59,527.70 L517.78,526.96 L517.97,526.94 L518.16,527.18 L518.35,526.77 L518.53,526.90 L518.72,526.23 L518.91,525.95 L519.10,526.27 L519.29,526.26 L519.48,527.45 L519.67,527.16 L519.86,527.23 L520.05,527.41 L520.24,525.98 L520.42,525.99 L520.61,525.77 L520.80,526.58 L520.99,527.22 L521.18,526.57 L521.37,527.45 L521.56,525.97 L521.75,527.04 L521.94,526.90 L522.13,525.78 L522.31,526.86 L522.50,525.89 L522.69,526.95 L522.88,526.27 L523.07,527.30 L523.26,526.17 L523.45,527.05 L523.64,527.26 L523.83,526.85 L524.02,526.68 L524.20,527.27 L524.39,527.38 L524.58,526.60 L524.77,527.36 L524.96,525.87 L525.15,526.69 L525.34,527.07 L525.53,526.54 L525.72,526.71 L525.91,526.23 L526.10,525.74 L526.28,525.89" fill="none" stroke="#727272" stroke-width="1.6" stroke-linejoin="round"/>
<path d="M383.40,532.16 L383.53,526.18 L383.65,520.13 L383.78,514.25 L383.90,510.11 L384.03,504.87 L384.16,501.26 L384.28,498.12 L384.41,494.37 L384.53,489.53 L384.66,487.17 L384.79,484.44 L384.91,481.43 L385.04,478.19 L385.16,476.84 L385.29,474.68 L385.42,472.64 L385.54,471.50 L385.67,468.60 L385.79,467.10 L385.92,465.54 L386.05,464.22 L386.17,462.86 L386.30,461.11 L386.42,461.11 L386.55,458.34 L386.68,459.22 L386.80,456.69 L386.93,457.32 L387.05,455.20 L387.18,455.61 L387.31,455.32 L387.43,453.69 L387.56,452.46 L387.68,451.89 L387.81,451.31 L387.94,450.62 L388.06,452.17 L388.19,451.05 L388.31,451.26 L388.44,449.51 L388.57,449.83 L388.69,448.89 L388.82,448.50 L388.94,447.80 L389.07,448.24 L389.20,447.58 L389.32,448.07 L389.45,448.88 L389.57,446.95 L389.70,448.50 L389.83,448.35 L389.95,446.60 L390.08,447.65 L390.20,446.70 L390.33,447.94 L390.46,447.44 L390.58,446.25 L390.71,447.61 L390.83,446.50 L390.96,445.50 L391.09,446.98 L391.21,445.85 L391.34,445.70 L391.46,445.91 L391.59,445.54 L391.72,445.63 L391.84,447.05 L391.97,446.62 L392.09,445.84 L392.22,444.87 L392.35,446.45 L392.47,445.62 L392.60,446.57 L392.72,445.00 L392.85,445.83 L392.98,445.64 L393.10,445.30 L393.23,446.42 L393.35,445.13 L393.48,444.96 L393.61,444.81 L393.73,446.03 L393.86,446.12 L393.98,446.25 L394.11,444.66 L394.24,445.64 L394.36,445.73 L394.49,445.44 L394.61,445.05 L394.74,445.86 L394.87,445.81 L394.99,444.88 L395.12,444.85 L395.24,445.87 L395.37,446.35 L395.50,444.50 L395.62,444.92 L395.75,445.21 L395.87,445.61 L396.00,444.42 L396.13,445.55 L396.25,446.00 L396.38,446.25 L396.50,445.71 L396.63,445.17 L396.76,445.67 L396.88,444.42 L397.01,445.05 L397.13,445.46 L397.26,445.03 L397.39,445.15 L397.51,445.12 L397.64,445.38 L397.76,445.32 L397.89,445.38 L398.02,444.65 L398.14,446.02 L398.27,444.75 L398.39,445.79 L398.52,444.61 L398.65,446.27 L398.77,445.39 L398.90,445.48 L399.02,444.90 L399.15,445.99 L399.28,445.86 L399.40,446.14 L399.53,445.22 L399.65,445.19 L399.78,446.42 L399.91,446.04 L400.03,445.99 L400.16,444.37 L400.28,445.44 L400.41,445.21 L400.54,445.80 L400.66,445.00 L400.79,444.67 L400.91,444.98 L401.04,446.42 L401.17,445.48 L401.29,445.37 L401.42,446.32 L401.54,444.72 L401.67,445.73 L401.80,445.79 L401.92,445.08 L402.05,445.16 L402.17,445.35 L402.30,444.57 L402.43,445.30 L402.55,445.68 L402.68,446.28 L402.80,445.23 L402.93,445.64 L403.06,445.27 L403.18,445.67 L403.31,446.40 L403.43,446.34 L403.56,446.08 L403.69,446.22 L403.81,444.59 L403.94,445.17 L404.06,445.91 L404.19,444.89 L404.32,445.05 L404.44,446.28 L404.57,444.80 L404.69,445.93 L404.82,444.28 L404.95,446.11 L405.07,445.80 L405.20,445.88 L405.32,444.57 L405.45,444.66 L405.58,445.17 L405.70,446.10 L405.83,445.50 L405.95,444.91 L406.08,446.29 L406.21,444.44 L406.33,444.61 L406.46,444.42 L406.58,444.92 L406.71,445.09 L406.84,444.32 L406.96,445.84 L407.09,445.76 L407.21,446.15 L407.34,446.03 L407.47,444.70 L407.59,446.21 L407.72,444.82 L407.84,445.57 L407.97,444.53 L408.10,444.79 L408.22,444.94 L408.35,444.60 L408.47,446.33 L408.60,445.85 L408.73,445.63 L408.85,445.49 L408.98,444.98 L409.10,444.53 L409.23,444.83 L409.36,444.42 L409.48,444.92 L409.61,445.65 L409.73,445.33 L409.86,444.81 L409.99,444.67 L410.11,445.62 L410.24,445.65 L410.36,445.10 L410.49,445.93 L410.62,444.52 L410.74,446.42 L410.87,445.02 L410.99,445.37 L411.12,446.00 L411.25,445.19 L411.37,445.40 L411.50,444.35 L411.62,444.52 L411.75,445.16 L411.88,444.55 L412.00,444.52 L412.13,446.06 L412.25,444.64 L412.38,444.63 L412.51,444.29 L412.63,444.79 L412.76,445.57 L412.88,445.97 L413.01,445.01 L413.14,445.96 L413.26,444.79 L413.39,445.18 L413.51,444.64 L413.64,445.65 L413.77,445.77 L413.89,444.47 L414.02,444.99 L414.14,445.60 L414.27,445.21 L414.40,445.48 L414.52,445.04 L414.65,445.31 L414.77,445.80 L414.90,444.31 L415.03,444.52 L415.15,444.79 L415.28,445.82 L415.40,446.00 L415.53,444.85 L415.66,444.65 L415.78,445.01 L415.91,445.96 L416.03,444.87 L416.16,445.29 L416.29,445.62 L416.41,445.15 L416.54,445.45 L416.66,445.02 L416.79,444.80 L416.92,444.31 L417.04,446.18 L417.17,445.19 L417.29,444.39 L417.42,445.01 L417.55,445.17 L417.67,444.58 L417.80,446.35 L417.92,444.71 L418.05,445.08 L418.18,445.16 L418.30,445.75 L418.43,445.09 L418.55,446.15 L418.68,445.29 L418.81,445.86 L418.93,444.42 L419.06,444.69 L419.18,445.40 L419.31,444.80 L419.44,445.59 L419.56,445.29 L419.69,446.07 L419.81,444.57 L419.94,444.78 L420.07,444.78 L420.19,446.24 L420.32,444.66 L420.44,446.39 L420.57,445.20 L420.70,445.37 L420.82,446.29 L420.95,445.51 L421.07,444.51 L421.20,445.08 L421.33,445.74 L421.45,444.67 L421.58,445.65 L421.70,444.49 L421.83,445.56 L421.96,446.25 L422.08,444.33 L422.21,446.26 L422.33,445.87 L422.46,444.76 L422.59,446.17 L422.71,445.25 L422.84,444.57 L422.96,445.15 L423.09,445.67 L423.22,444.79 L423.34,444.64 L423.47,445.17 L423.59,445.07 L423.72,445.72 L423.85,445.54 L423.97,444.29 L424.10,444.33 L424.22,446.41 L424.35,446.00 L424.48,445.93 L424.60,444.71 L424.73,445.99 L424.85,446.05 L424.98,444.77 L425.11,446.05 L425.23,444.32 L425.36,445.44 L425.48,444.49 L425.61,444.66 L425.74,445.97 L425.86,444.73 L425.99,445.53 L426.11,445.94 L426.24,446.32 L426.37,444.91 L426.49,445.21 L426.62,445.77 L426.74,444.63 L426.87,445.99 L427.00,445.46 L427.12,446.23 L427.25,445.66 L427.37,444.52 L427.50,445.34 L427.63,446.09 L427.75,445.91 L427.88,445.03 L428.00,445.82 L428.13,444.51 L428.26,446.29 L428.38,444.55 L428.51,445.08 L428.63,444.65 L428.76,445.66 L428.89,446.27 L429.01,446.05 L429.14,445.07 L429.26,446.36 L429.39,446.18 L429.52,444.74 L429.64,444.53 L429.77,444.58 L429.89,444.62 L430.02,445.22 L430.15,444.54 L430.27,444.92 L430.40,445.22 L430.52,445.50 L430.65,446.36 L430.78,446.22 L430.90,445.88 L431.03,445.43 L431.15,446.16 L431.28,444.33 L431.41,445.18 L431.53,444.83 L431.66,444.50 L431.78,445.93 L431.91,444.51 L432.04,444.36 L432.16,445.84 L432.29,446.15 L432.41,444.70 L432.54,444.51 L432.67,444.70 L432.79,445.54 L432.92,445.12 L433.04,446.17 L433.17,445.91 L433.30,445.52 L433.42,444.82 L433.55,446.23 L433.67,444.42 L433.80,446.35 L433.93,444.33 L434.05,445.91 L434.18,444.66 L434.30,444.66 L434.43,444.37 L434.56,445.41 L434.68,444.92 L434.81,445.79 L434.93,444.63 L435.06,446.18 L435.19,444.52 L435.31,445.14 L435.44,446.28 L435.56,444.40 L435.69,445.74 L435.82,446.27 L435.94,445.86 L436.07,446.36 L436.19,445.81 L436.32,444.89 L436.45,444.29 L436.57,445.06 L436.70,444.58 L436.82,444.65 L436.95,444.88 L437.08,445.59 L437.20,445.88 L437.33,446.08 L437.45,445.24 L437.58,445.98 L437.71,444.83 L437.83,445.73 L437.96,445.17 L438.08,445.24 L438.21,445.07 L438.34,446.08 L438.46,445.87 L438.59,444.94 L438.71,445.96 L438.84,444.97 L438.97,444.34 L439.09,445.58 L439.22,444.35 L439.34,445.10 L439.47,444.39 L439.60,445.29 L439.72,444.80 L439.85,444.95 L439.97,446.00 L440.10,445.30 L440.23,445.17 L440.35,445.42 L440.48,445.00 L440.60,444.46 L440.73,444.71 L440.86,444.67 L440.98,446.11 L441.11,444.91 L441.23,445.07 L441.36,444.40 L441.49,446.41 L441.61,446.05 L441.74,444.32 L441.86,445.62 L441.99,444.90 L442.12,445.15 L442.24,445.56 L442.37,445.47 L442.49,445.21 L442.62,444.30 L442.75,445.27 L442.87,444.72 L443.00,445.77 L443.12,444.89 L443.25,445.12 L443.38,444.82 L443.50,444.53 L443.63,446.25 L443.75,444.34 L443.88,445.11 L444.01,445.86 L444.13,445.42 L444.26,446.21 L444.38,445.92 L444.51,444.62 L444.64,444.89 L444.76,444.56 L444.89,446.07 L445.01,446.18 L445.14,445.60 L445.27,445.35 L445.39,444.89 L445.52,445.78 L445.64,444.83 L445.77,445.16 L445.90,445.80 L446.02,444.72 L446.15,446.26 L446.27,445.14 L446.40,446.01 L446.53,446.33 L446.65,445.39 L446.78,445.30 L446.90,445.10 L447.03,445.61 L447.16,444.42 L447.28,444.73 L447.41,446.09 L447.53,446.41 L447.66,444.35 L447.79,445.53 L447.91,446.19 L448.04,446.04 L448.16,444.91 L448.29,446.04 L448.42,445.62 L448.54,444.96 L448.67,445.66 L448.79,445.01 L448.92,444.38 L449.05,444.71 L449.17,445.07 L449.30,445.07 L449.42,445.75 L449.55,445.04 L449.68,445.02 L449.80,445.16 L449.93,445.36 L450.05,444.80 L450.18,445.98 L450.31,444.88 L450.43,444.32 L450.56,446.34 L450.68,445.88 L450.81,444.30 L450.94,446.24 L451.06,444.66 L451.19,445.17 L451.31,446.27 L451.44,445.06 L451.57,446.40 L451.69,444.59 L451.82,445.77 L451.94,444.43 L452.07,444.49 L452.20,446.12 L452.32,445.55 L452.45,446.09 L452.57,444.79 L452.70,446.21 L452.83,446.26 L452.95,446.17 L453.08,444.57 L453.20,445.89 L453.33,445.72 L453.46,445.46 L453.58,445.23 L453.71,445.53 L453.83,444.38 L453.96,445.69 L454.09,445.39 L454.21,444.57 L454.34,445.89 L454.46,446.04 L454.59,444.62 L454.72,445.74 L454.84,444.50 L454.97,444.65 L455.09,445.62 L455.22,445.70 L455.35,446.20 L455.47,444.54 L455.60,445.47 L455.72,445.68 L455.85,461.25 L455.98,460.67 L456.10,458.81 L456.23,459.96 L456.35,458.61 L456.48,458.04 L456.61,457.86 L456.73,457.50 L456.86,457.34 L456.98,457.41 L457.11,455.70 L457.24,455.19 L457.36,455.57 L457.49,455.91 L457.61,454.18 L457.74,455.40 L457.87,455.17 L457.99,453.90 L458.12,453.18 L458.24,453.47 L458.37,454.20 L458.50,452.08 L458.62,453.61 L458.75,452.97 L458.87,451.35 L459.00,451.55 L459.13,451.41 L459.25,452.67 L459.38,450.80 L459.50,451.57 L459.63,452.22 L459.76,450.36 L459.88,449.88 L460.01,451.61 L460.13,450.57 L460.26,449.44 L460.39,450.51 L460.51,450.42 L460.64,449.25 L460.76,449.84 L460.89,448.50 L461.02,448.68 L461.14,448.54 L461.27,448.74 L461.39,449.72 L461.52,448.55 L461.65,448.67 L461.77,448.76 L461.90,448.48 L462.02,448.93 L462.15,449.06 L462.28,447.43 L462.40,448.51 L462.53,448.98 L462.65,447.02 L462.78,447.94 L462.91,447.50 L463.03,448.14 L463.16,448.48 L463.28,448.01 L463.41,446.86 L463.54,447.99 L463.66,446.55 L463.79,447.79 L463.91,446.45 L464.04,447.93 L464.17,447.30 L464.29,447.92 L464.42,447.82 L464.54,446.97 L464.67,447.25 L464.80,446.83 L464.92,447.47 L465.05,447.22 L465.17,447.15 L465.30,445.87 L465.43,447.58 L465.55,446.82 L465.68,445.84 L465.80,446.40 L465.93,447.04 L466.06,445.41 L466.18,447.29 L466.31,447.19 L466.43,447.42 L466.56,446.48 L466.69,445.54 L466.81,446.75 L466.94,446.71 L467.06,445.58 L467.19,447.10 L467.32,447.21 L467.44,445.79 L467.57,447.00 L467.69,446.04 L467.82,446.83 L467.95,445.83 L468.07,445.27 L468.20,446.11 L468.32,446.47 L468.45,445.70 L468.58,445.51 L468.70,446.88 L468.83,446.47 L468.95,446.15 L469.08,445.86 L469.21,446.34 L469.33,445.50 L469.46,446.35 L469.58,444.94 L469.71,446.11 L469.84,446.38 L469.96,446.67 L470.09,446.55 L470.21,446.35 L470.34,444.90 L470.47,445.89 L470.59,445.83 L470.72,444.70 L470.84,444.68 L470.97,445.10 L471.10,446.22 L471.22,446.02 L471.35,445.63 L471.47,446.15 L471.60,445.95 L471.73,446.23 L471.85,446.16 L471.98,445.06 L472.10,445.37 L472.23,445.70 L472.36,445.63 L472.48,445.32 L472.61,445.16 L472.73,446.58 L472.86,444.81 L472.99,445.62 L473.11,445.87 L473.24,444.54 L473.36,444.97 L473.49,445.84 L473.62,446.53 L473.74,445.64 L473.87,445.63 L473.99,445.76 L474.12,446.35 L474.25,445.32 L474.37,446.01 L474.50,444.91 L474.62,445.41 L474.75,445.91 L474.88,444.76 L475.00,445.57 L475.13,446.35 L475.25,445.93 L475.38,446.41 L475.51,445.60 L475.63,444.57 L475.76,444.49 L475.88,445.11 L476.01,446.18 L476.14,445.99 L476.26,446.07 L476.39,445.70 L476.51,445.13 L476.64,446.45 L476.77,445.44 L476.89,445.58 L477.02,445.07 L477.14,444.71 L477.27,445.63 L477.40,445.19 L477.52,445.89 L477.65,445.50 L477.77,445.11 L477.90,446.36 L478.03,445.37 L478.15,445.39 L478.28,446.07 L478.40,445.93 L478.53,444.69 L478.66,445.71 L478.78,446.05 L478.91,445.85 L479.03,445.34 L479.16,445.60 L479.29,445.70 L479.41,445.76 L479.54,445.99 L479.66,445.37 L479.79,445.16 L479.92,446.26 L480.04,445.18 L480.17,445.79 L480.29,444.35 L480.42,444.43 L480.55,446.16 L480.67,444.95 L480.80,445.70 L480.92,446.20 L481.05,444.56 L481.18,444.49 L481.30,444.75 L481.43,445.07 L481.55,444.34 L481.68,445.24 L481.81,444.99 L481.93,445.04 L482.06,444.59 L482.18,444.60 L482.31,445.78 L482.44,445.99 L482.56,445.26 L482.69,445.17 L482.81,445.67 L482.94,444.58 L483.07,444.61 L483.19,444.96 L483.32,445.28 L483.44,444.94 L483.57,446.01 L483.70,444.70 L483.82,446.16 L483.95,444.49 L484.07,445.09 L484.20,445.83 L484.33,446.02 L484.45,445.14 L484.58,445.43 L484.70,444.93 L484.83,446.22 L484.96,444.55 L485.08,445.50 L485.21,445.48 L485.33,444.84 L485.46,445.12 L485.59,445.47 L485.71,445.80 L485.84,445.42 L485.96,446.36 L486.09,445.87 L486.22,444.65 L486.34,446.17 L486.47,446.24 L486.59,444.60 L486.72,445.62 L486.85,445.28 L486.97,445.16 L487.10,444.88 L487.22,445.74 L487.35,444.77 L487.48,446.42 L487.60,444.60 L487.73,445.76 L487.85,445.08 L487.98,445.77 L488.11,444.81 L488.23,445.61 L488.36,445.13 L488.48,445.73 L488.61,444.63 L488.74,444.75 L488.86,445.99 L488.99,444.80 L489.11,444.40 L489.24,445.91 L489.37,446.01 L489.49,444.42 L489.62,444.35 L489.74,446.14 L489.87,444.75 L490.00,444.42 L490.12,445.85 L490.25,444.74 L490.37,445.78 L490.50,444.73 L490.63,445.33 L490.75,445.40 L490.88,446.15 L491.00,445.02 L491.13,444.91 L491.26,445.79 L491.38,446.32 L491.51,446.22 L491.63,445.86 L491.76,444.28 L491.89,444.82 L492.01,444.49 L492.14,444.81 L492.26,446.13 L492.39,445.59 L492.52,444.38 L492.64,444.59 L492.77,444.29 L492.89,444.66 L493.02,444.89 L493.15,444.78 L493.27,444.45 L493.40,445.50 L493.52,446.35 L493.65,445.75 L493.78,446.39 L493.90,445.83 L494.03,445.15 L494.15,445.83 L494.28,445.88 L494.41,446.21 L494.53,445.65 L494.66,445.31 L494.78,445.15 L494.91,444.39 L495.04,446.27 L495.16,445.87 L495.29,446.25 L495.41,444.42 L495.54,445.06 L495.67,445.01 L495.79,444.67 L495.92,446.41 L496.04,444.48 L496.17,445.70 L496.30,445.07 L496.42,445.55 L496.55,444.82 L496.67,445.77 L496.80,445.82 L496.93,445.88 L497.05,444.86 L497.18,445.44 L497.30,446.08 L497.43,445.65 L497.56,445.20 L497.68,445.62 L497.81,445.14 L497.93,444.61 L498.06,445.04 L498.19,444.70 L498.31,445.77 L498.44,444.55 L498.56,444.40 L498.69,445.28 L498.82,446.37 L498.94,446.23 L499.07,444.79 L499.19,444.55 L499.32,444.86 L499.45,445.33 L499.57,445.26 L499.70,446.17 L499.82,445.13 L499.95,444.27 L500.08,445.98 L500.20,445.11 L500.33,444.59 L500.45,445.02 L500.58,445.66 L500.71,445.91 L500.83,444.84 L500.96,444.42 L501.08,444.53 L501.21,445.56 L501.34,444.82 L501.46,444.67 L501.59,445.61 L501.71,444.79 L501.84,445.59 L501.97,445.99 L502.09,446.42 L502.22,444.86 L502.34,444.80 L502.47,446.33 L502.60,446.28 L502.72,445.73 L502.85,445.97 L502.97,444.85 L503.10,446.01 L503.23,445.16 L503.35,445.23 L503.48,445.67 L503.60,444.58 L503.73,445.48 L503.86,445.32 L503.98,444.99 L504.11,445.55 L504.23,446.02 L504.36,444.37 L504.49,444.80 L504.61,445.25 L504.74,445.35 L504.86,445.09 L504.99,445.78 L505.12,446.26 L505.24,445.25 L505.37,444.48 L505.49,446.20 L505.62,444.31 L505.75,445.61 L505.87,444.27 L506.00,444.76 L506.12,445.83 L506.25,445.96 L506.38,444.51 L506.50,444.31 L506.63,444.69 L506.75,445.16 L506.88,445.25 L507.01,444.74 L507.13,444.65 L507.26,444.62 L507.38,445.80 L507.51,444.64 L507.64,444.37 L507.76,445.18 L507.89,446.40 L508.01,446.01 L508.14,445.02 L508.27,445.50 L508.39,444.45 L508.52,445.04 L508.64,444.91 L508.77,446.09 L508.90,445.29 L509.02,444.89 L509.15,444.45 L509.27,444.48 L509.40,445.85 L509.53,445.34 L509.65,444.31 L509.78,446.22 L509.90,446.27 L510.03,446.03 L510.16,444.85 L510.28,445.72 L510.41,444.90 L510.53,444.64 L510.66,444.68 L510.79,446.33 L510.91,444.94 L511.04,444.70 L511.16,444.91 L511.29,444.56 L511.42,444.66 L511.54,445.10 L511.67,444.56 L511.79,445.25 L511.92,446.18 L512.05,445.80 L512.17,444.41 L512.30,445.69 L512.42,445.40 L512.55,444.54 L512.68,444.94 L512.80,444.72 L512.93,445.41 L513.05,445.33 L513.18,446.25 L513.31,445.99 L513.43,446.08 L513.56,445.26 L513.68,445.29 L513.81,446.26 L513.94,445.05 L514.06,446.20 L514.19,445.59 L514.31,446.36 L514.44,445.40 L514.57,446.11 L514.69,444.40 L514.82,445.64 L514.94,444.64 L515.07,445.47 L515.20,445.71 L515.32,444.61 L515.45,445.83 L515.57,445.31 L515.70,445.04 L515.83,444.28 L515.95,444.91 L516.08,446.31 L516.20,445.44 L516.33,444.37 L516.46,444.58 L516.58,445.62 L516.71,446.14 L516.83,445.84 L516.96,444.79 L517.09,446.03 L517.21,444.50 L517.34,445.85 L517.46,444.94 L517.59,444.93 L517.72,445.90 L517.84,445.30 L517.97,445.07 L518.09,445.84 L518.22,445.27 L518.35,445.07 L518.47,444.36 L518.60,445.81 L518.72,446.04 L518.85,445.33 L518.98,445.14 L519.10,445.37 L519.23,444.46 L519.35,445.98 L519.48,445.33 L519.61,445.40 L519.73,445.99 L519.86,445.44 L519.98,445.44 L520.11,445.61 L520.24,444.76 L520.36,444.30 L520.49,444.34 L520.61,445.95 L520.74,445.62 L520.87,444.38 L520.99,446.24 L521.12,446.22 L521.24,446.28 L521.37,444.36 L521.50,445.33 L521.62,445.49 L521.75,446.21 L521.87,444.52 L522.00,444.28 L522.13,444.94 L522.25,444.46 L522.38,445.20 L522.50,445.75 L522.63,446.03 L522.76,445.76 L522.88,446.09 L523.01,445.63 L523.13,446.32 L523.26,446.33 L523.39,444.49 L523.51,444.60 L523.64,444.67 L523.76,445.66 L523.89,445.45 L524.02,445.25 L524.14,444.73 L524.27,445.76 L524.39,445.32 L524.52,445.24 L524.65,444.61 L524.77,445.67 L524.90,446.41 L525.02,445.55 L525.15,444.52 L525.28,446.04 L525.40,445.07 L525.53,446.13 L525.65,445.83 L525.78,445.08 L525.91,446.20 L526.03,445.44 L526.16,445.16 L526.28,445.58" fill="none" stroke="#ec3434" stroke-width="1.5" stroke-linejoin="round"/>
<circle cx="383.90" cy="531.80" r="0.7" fill="#ee2a2a"/>
<circle cx="383.90" cy="526.43" r="0.7" fill="#ee2a2a"/>
<circle cx="383.90" cy="521.06" r="0.7" fill="#ee2a2a"/>
<circle cx="383.90" cy="515.69" r="0.7" fill="#ee2a2a"/>
<circle cx="383.90" cy="510.32" r="0.7" fill="#ee2a2a"/>
<circle cx="383.90" cy="504.95" r="0.7" fill="#ee2a2a"/>
<circle cx="383.90" cy="499.58" r="0.7" fill="#ee2a2a"/>
<circle cx="383.90" cy="494.21" r="0.7" fill="#ee2a2a"/>
<circle cx="383.90" cy="488.84" r="0.7" fill="#ee2a2a"/>
<circle cx="383.90" cy="483.47" r="0.7" fill="#ee2a2a"/>
<circle cx="383.90" cy="478.10" r="0.7" fill="#ee2a2a"/>
<circle cx="383.90" cy="472.73" r="0.7" fill="#ee2a2a"/>
<circle cx="383.90" cy="467.36" r="0.7" fill="#ee2a2a"/>
<circle cx="383.90" cy="461.99" r="0.7" fill="#ee2a2a"/>
<circle cx="383.90" cy="456.62" r="0.7" fill="#ee2a2a"/>
<circle cx="383.90" cy="451.25" r="0.7" fill="#ee2a2a"/>
<line x1="536.00" y1="484.30" x2="555.00" y2="484.30" stroke="#707070" stroke-width="1.1"/>
<circle cx="545.5" cy="484.3" r="1.0" fill="#707070"/>
<text x="566.50" y="488.60" font-size="11.4">w/o NGC</text>
<line x1="536.00" y1="499.00" x2="555.00" y2="499.00" stroke="#f05a5a" stroke-width="1.3"/>
<circle cx="545.5" cy="499.0" r="1.1" fill="#d01010"/>
<text x="566.50" y="503.50" font-size="11.4">w NGC</text>
<text x="7.00" y="622.50" font-size="15" font-weight="bold">g</text>
<text x="94.40" y="624.60" font-size="11.35">3T3-L1 adipocytes</text>
<text x="84.40" y="646.10" font-size="11.6" text-anchor="end">CoCl<tspan font-size="8.4" dy="0.4">2</tspan><tspan dy="-0.4"> (150µM)</tspan></text>
<text x="84.40" y="664.20" font-size="11.6" text-anchor="end">NGC (µM)</text>
<text x="84.40" y="683.10" font-size="11.6" text-anchor="end">Insulin (25nM)</text>
<rect x="93.20" y="635.40" width="213.80" height="52.90" fill="none" stroke="#4a4a4a" stroke-width="1"/>
<line x1="116.96" y1="635.40" x2="116.96" y2="688.30" stroke="#4a4a4a" stroke-width="1"/>
<line x1="140.71" y1="635.40" x2="140.71" y2="688.30" stroke="#4a4a4a" stroke-width="1"/>
<line x1="164.47" y1="635.40" x2="164.47" y2="688.30" stroke="#4a4a4a" stroke-width="1"/>
<line x1="188.22" y1="635.40" x2="188.22" y2="688.30" stroke="#4a4a4a" stroke-width="1"/>
<line x1="211.98" y1="635.40" x2="211.98" y2="688.30" stroke="#4a4a4a" stroke-width="1"/>
<line x1="235.73" y1="635.40" x2="235.73" y2="688.30" stroke="#4a4a4a" stroke-width="1"/>
<line x1="259.49" y1="635.40" x2="259.49" y2="688.30" stroke="#4a4a4a" stroke-width="1"/>
<line x1="283.24" y1="635.40" x2="283.24" y2="688.30" stroke="#4a4a4a" stroke-width="1"/>
<line x1="93.20" y1="653.03" x2="307.00" y2="653.03" stroke="#4a4a4a" stroke-width="1"/>
<line x1="93.20" y1="670.67" x2="307.00" y2="670.67" stroke="#4a4a4a" stroke-width="1"/>
<text x="105.08" y="646.48" font-size="11" text-anchor="middle">-</text>
<text x="128.83" y="646.48" font-size="11" text-anchor="middle">-</text>
<text x="152.59" y="646.48" font-size="11" text-anchor="middle">+</text>
<text x="176.34" y="646.48" font-size="11" text-anchor="middle">+</text>
<text x="200.10" y="646.48" font-size="11" text-anchor="middle">+</text>
<text x="223.86" y="646.48" font-size="11" text-anchor="middle">+</text>
<text x="247.61" y="646.48" font-size="11" text-anchor="middle">+</text>
<text x="271.37" y="646.48" font-size="11" text-anchor="middle">+</text>
<text x="295.12" y="646.48" font-size="11" text-anchor="middle">+</text>
<text x="105.08" y="666.21" font-size="11" text-anchor="middle">-</text>
<text x="128.83" y="666.21" font-size="11" text-anchor="middle">-</text>
<text x="152.59" y="666.21" font-size="11" text-anchor="middle">-</text>
<text x="176.34" y="664.95" font-size="7.5" text-anchor="middle">0.0001</text>
<text x="200.10" y="665.42" font-size="8.8" text-anchor="middle">0.001</text>
<text x="223.86" y="666.03" font-size="10.5" text-anchor="middle">0.01</text>
<text x="247.61" y="666.03" font-size="10.5" text-anchor="middle">0.1</text>
<text x="271.37" y="666.03" font-size="10.5" text-anchor="middle">1</text>
<text x="295.12" y="666.03" font-size="10.5" text-anchor="middle">10</text>
<text x="105.08" y="682.44" font-size="11" text-anchor="middle">-</text>
<text x="128.83" y="682.44" font-size="11" text-anchor="middle">+</text>
<text x="152.59" y="682.44" font-size="11" text-anchor="middle">+</text>
<text x="176.34" y="682.44" font-size="11" text-anchor="middle">+</text>
<text x="200.10" y="682.44" font-size="11" text-anchor="middle">+</text>
<text x="223.86" y="682.44" font-size="11" text-anchor="middle">+</text>
<text x="247.61" y="682.44" font-size="11" text-anchor="middle">+</text>
<text x="271.37" y="682.44" font-size="11" text-anchor="middle">+</text>
<text x="295.12" y="682.44" font-size="11" text-anchor="middle">+</text>
<rect x="93.30" y="694.90" width="214.90" height="17.60" fill="#dedede"/>
<rect x="93.30" y="716.10" width="214.90" height="17.40" fill="#dedede"/>
<text x="84.40" y="708.50" font-size="11.3" text-anchor="end">pAKT</text>
<text x="84.40" y="729.00" font-size="11.3" text-anchor="end">GAPDH</text>
<path d="M120.50,702.90 Q128.75,701.49 137.00,703.50" fill="none" stroke="#000" stroke-width="3.6" stroke-linecap="butt" opacity="0.95" filter="url(#bb05)"/>
<circle cx="121.50" cy="702.60" r="1.98" fill="#000" opacity="0.95" filter="url(#bb05)"/>
<circle cx="136.00" cy="703.20" r="1.98" fill="#000" opacity="0.95" filter="url(#bb05)"/>
<path d="M144.00,704.40 Q151.25,702.99 158.50,705.00" fill="none" stroke="#000" stroke-width="2.2" stroke-linecap="butt" opacity="0.6" filter="url(#bb05)"/>
<circle cx="145.00" cy="704.10" r="1.21" fill="#000" opacity="0.6" filter="url(#bb05)"/>
<circle cx="157.50" cy="704.70" r="1.21" fill="#000" opacity="0.6" filter="url(#bb05)"/>
<path d="M166.00,705.20 Q174.25,703.79 182.50,705.80" fill="none" stroke="#000" stroke-width="2.2" stroke-linecap="butt" opacity="0.62" filter="url(#bb05)"/>
<circle cx="167.00" cy="704.90" r="1.21" fill="#000" opacity="0.62" filter="url(#bb05)"/>
<circle cx="181.50" cy="705.50" r="1.21" fill="#000" opacity="0.62" filter="url(#bb05)"/>
<path d="M190.50,705.30 Q198.50,703.79 206.50,705.70" fill="none" stroke="#000" stroke-width="2.2" stroke-linecap="butt" opacity="0.62" filter="url(#bb05)"/>
<circle cx="191.50" cy="705.00" r="1.21" fill="#000" opacity="0.62" filter="url(#bb05)"/>
<circle cx="205.50" cy="705.40" r="1.21" fill="#000" opacity="0.62" filter="url(#bb05)"/>
<path d="M213.50,706.50 Q222.00,704.19 230.50,705.30" fill="none" stroke="#000" stroke-width="2.0" stroke-linecap="butt" opacity="0.6" filter="url(#bb05)"/>
<circle cx="214.50" cy="706.20" r="1.10" fill="#000" opacity="0.6" filter="url(#bb05)"/>
<circle cx="229.50" cy="705.00" r="1.10" fill="#000" opacity="0.6" filter="url(#bb05)"/>
<path d="M239.00,704.80 Q247.00,702.79 255.00,704.20" fill="none" stroke="#000" stroke-width="2.4" stroke-linecap="butt" opacity="0.75" filter="url(#bb05)"/>
<circle cx="240.00" cy="704.50" r="1.32" fill="#000" opacity="0.75" filter="url(#bb05)"/>
<circle cx="254.00" cy="703.90" r="1.32" fill="#000" opacity="0.75" filter="url(#bb05)"/>
<path d="M262.30,704.00 Q269.65,702.29 277.00,704.00" fill="none" stroke="#000" stroke-width="2.6" stroke-linecap="butt" opacity="0.8" filter="url(#bb05)"/>
<circle cx="263.30" cy="703.70" r="1.43" fill="#000" opacity="0.8" filter="url(#bb05)"/>
<circle cx="276.00" cy="703.70" r="1.43" fill="#000" opacity="0.8" filter="url(#bb05)"/>
<path d="M285.50,703.90 Q294.45,701.39 303.40,702.30" fill="none" stroke="#000" stroke-width="2.0" stroke-linecap="butt" opacity="0.55" filter="url(#bb05)"/>
<circle cx="286.50" cy="703.60" r="1.10" fill="#000" opacity="0.55" filter="url(#bb05)"/>
<circle cx="302.40" cy="702.00" r="1.10" fill="#000" opacity="0.55" filter="url(#bb05)"/>
<rect x="95.50" y="722.60" width="19.00" height="3.80" rx="1.90" fill="#000" opacity="1.0" filter="url(#bb1)"/>
<rect x="118.40" y="722.60" width="22.00" height="3.80" rx="1.90" fill="#000" opacity="1.0" filter="url(#bb1)"/>
<rect x="142.70" y="722.60" width="19.00" height="3.80" rx="1.90" fill="#000" opacity="1.0" filter="url(#bb1)"/>
<rect x="164.50" y="722.60" width="23.00" height="3.80" rx="1.90" fill="#000" opacity="1.0" filter="url(#bb1)"/>
<rect x="188.50" y="722.60" width="21.00" height="3.80" rx="1.90" fill="#000" opacity="1.0" filter="url(#bb1)"/>
<rect x="212.70" y="722.60" width="22.00" height="3.80" rx="1.90" fill="#000" opacity="1.0" filter="url(#bb1)"/>
<rect x="238.80" y="722.60" width="20.00" height="3.80" rx="1.90" fill="#000" opacity="1.0" filter="url(#bb1)"/>
<rect x="262.25" y="722.60" width="17.50" height="3.80" rx="1.90" fill="#000" opacity="1.0" filter="url(#bb1)"/>
<rect x="284.65" y="722.60" width="21.50" height="3.80" rx="1.90" fill="#000" opacity="1.0" filter="url(#bb1)"/>
<line x1="309.40" y1="702.70" x2="312.80" y2="702.70" stroke="#333" stroke-width="1.1"/>
<text x="314.80" y="706.00" font-size="9.5">60</text>
<line x1="309.40" y1="725.80" x2="312.80" y2="725.80" stroke="#333" stroke-width="1.1"/>
<text x="314.80" y="729.20" font-size="9.5">37</text>
<text x="11.90" y="791.00" font-size="15" font-weight="bold">h</text>
<text x="142.90" y="815.80" font-size="11.4" text-anchor="middle">Cas9</text>
<text x="243.60" y="815.80" font-size="11.2" text-anchor="middle">A3KO</text>
<text x="85.60" y="836.40" font-size="11.6" text-anchor="end">CoCl<tspan font-size="8.4" dy="0.4">2</tspan><tspan dy="-0.4"> (150µM)</tspan></text>
<text x="85.60" y="854.50" font-size="11.5" text-anchor="end">NGC (0.1µM)</text>
<text x="85.60" y="873.00" font-size="11.5" text-anchor="end">Insulin (25nM)</text>
<rect x="96.50" y="824.80" width="93.00" height="53.80" fill="none" stroke="#4a4a4a" stroke-width="1"/>
<line x1="119.75" y1="824.80" x2="119.75" y2="878.60" stroke="#4a4a4a" stroke-width="1"/>
<line x1="143.00" y1="824.80" x2="143.00" y2="878.60" stroke="#4a4a4a" stroke-width="1"/>
<line x1="166.25" y1="824.80" x2="166.25" y2="878.60" stroke="#4a4a4a" stroke-width="1"/>
<line x1="96.50" y1="842.73" x2="189.50" y2="842.73" stroke="#4a4a4a" stroke-width="1"/>
<line x1="96.50" y1="860.67" x2="189.50" y2="860.67" stroke="#4a4a4a" stroke-width="1"/>
<text x="108.12" y="836.83" font-size="11" text-anchor="middle">-</text>
<text x="131.38" y="836.83" font-size="11" text-anchor="middle">-</text>
<text x="154.62" y="836.83" font-size="11" text-anchor="middle">+</text>
<text x="177.88" y="836.83" font-size="11" text-anchor="middle">+</text>
<text x="108.12" y="854.76" font-size="11" text-anchor="middle">-</text>
<text x="131.38" y="854.76" font-size="11" text-anchor="middle">-</text>
<text x="154.62" y="854.76" font-size="11" text-anchor="middle">-</text>
<text x="177.88" y="854.76" font-size="11" text-anchor="middle">+</text>
<text x="108.12" y="872.69" font-size="11" text-anchor="middle">-</text>
<text x="131.38" y="872.69" font-size="11" text-anchor="middle">+</text>
<text x="154.62" y="872.69" font-size="11" text-anchor="middle">+</text>
<text x="177.88" y="872.69" font-size="11" text-anchor="middle">+</text>
<rect x="196.00" y="824.80" width="93.20" height="53.80" fill="none" stroke="#4a4a4a" stroke-width="1"/>
<line x1="219.30" y1="824.80" x2="219.30" y2="878.60" stroke="#4a4a4a" stroke-width="1"/>
<line x1="242.60" y1="824.80" x2="242.60" y2="878.60" stroke="#4a4a4a" stroke-width="1"/>
<line x1="265.90" y1="824.80" x2="265.90" y2="878.60" stroke="#4a4a4a" stroke-width="1"/>
<line x1="196.00" y1="842.73" x2="289.20" y2="842.73" stroke="#4a4a4a" stroke-width="1"/>
<line x1="196.00" y1="860.67" x2="289.20" y2="860.67" stroke="#4a4a4a" stroke-width="1"/>
<text x="207.65" y="836.83" font-size="11" text-anchor="middle">-</text>
<text x="230.95" y="836.83" font-size="11" text-anchor="middle">-</text>
<text x="254.25" y="836.83" font-size="11" text-anchor="middle">+</text>
<text x="277.55" y="836.83" font-size="11" text-anchor="middle">+</text>
<text x="207.65" y="854.76" font-size="11" text-anchor="middle">-</text>
<text x="230.95" y="854.76" font-size="11" text-anchor="middle">-</text>
<text x="254.25" y="854.76" font-size="11" text-anchor="middle">-</text>
<text x="277.55" y="854.76" font-size="11" text-anchor="middle">+</text>
<text x="207.65" y="872.69" font-size="11" text-anchor="middle">-</text>
<text x="230.95" y="872.69" font-size="11" text-anchor="middle">+</text>
<text x="254.25" y="872.69" font-size="11" text-anchor="middle">+</text>
<text x="277.55" y="872.69" font-size="11" text-anchor="middle">+</text>
<rect x="96.20" y="887.00" width="192.80" height="17.80" fill="#e0e0e0"/>
<rect x="96.20" y="911.10" width="192.80" height="17.30" fill="#e0e0e0"/>
<text x="85.60" y="903.60" font-size="11.3" text-anchor="end">pAKT</text>
<text x="85.60" y="925.30" font-size="11.3" text-anchor="end">GAPDH</text>
<rect x="99.60" y="897.20" width="16.00" height="3.20" rx="1.60" fill="#000" opacity="0.08" filter="url(#bb1)"/>
<rect x="123.00" y="896.50" width="18.00" height="3.20" rx="1.60" fill="#000" opacity="0.9" filter="url(#bb1)"/>
<rect x="149.40" y="895.60" width="16.00" height="3.20" rx="1.60" fill="#000" opacity="0.45" filter="url(#bb1)"/>
<rect x="172.30" y="894.70" width="18.00" height="3.20" rx="1.60" fill="#000" opacity="0.6" filter="url(#bb1)"/>
<rect x="197.80" y="894.90" width="15.00" height="3.20" rx="1.60" fill="#000" opacity="0.15" filter="url(#bb1)"/>
<rect x="219.50" y="894.10" width="18.00" height="3.20" rx="1.60" fill="#000" opacity="1.0" filter="url(#bb1)"/>
<rect x="244.60" y="894.00" width="16.00" height="3.20" rx="1.60" fill="#000" opacity="0.45" filter="url(#bb1)"/>
<rect x="268.20" y="893.00" width="18.00" height="3.20" rx="1.60" fill="#000" opacity="0.85" filter="url(#bb1)"/>
<rect x="97.00" y="918.20" width="20.00" height="4.20" rx="2.10" fill="#000" opacity="1.0" filter="url(#bb1)"/>
<rect x="122.00" y="918.20" width="21.00" height="4.20" rx="2.10" fill="#000" opacity="1.0" filter="url(#bb1)"/>
<rect x="147.75" y="918.20" width="18.50" height="4.20" rx="2.10" fill="#000" opacity="1.0" filter="url(#bb1)"/>
<rect x="171.20" y="918.20" width="20.00" height="4.20" rx="2.10" fill="#000" opacity="1.0" filter="url(#bb1)"/>
<rect x="196.70" y="918.20" width="17.00" height="4.20" rx="2.10" fill="#000" opacity="1.0" filter="url(#bb1)"/>
<rect x="218.90" y="918.20" width="18.40" height="4.20" rx="2.10" fill="#000" opacity="1.0" filter="url(#bb1)"/>
<rect x="242.60" y="918.20" width="18.40" height="4.20" rx="2.10" fill="#000" opacity="1.0" filter="url(#bb1)"/>
<rect x="266.20" y="918.20" width="20.20" height="4.20" rx="2.10" fill="#000" opacity="1.0" filter="url(#bb1)"/>
<line x1="292.90" y1="894.50" x2="297.00" y2="894.50" stroke="#333" stroke-width="1.1"/>
<text x="299.00" y="898.40" font-size="9.5">60</text>
<line x1="293.20" y1="917.00" x2="297.00" y2="917.00" stroke="#333" stroke-width="1.1"/>
<text x="299.00" y="921.40" font-size="9.5">37</text>
<text x="345.50" y="791.00" font-size="15" font-weight="bold">i</text>
<text x="476.50" y="816.00" font-size="11.2" text-anchor="middle">A3KO</text>
<text x="575.90" y="815.10" font-size="11.2" text-anchor="middle">A3KO+ETP</text>
<text x="418.20" y="836.10" font-size="11.5" text-anchor="end">CoCl<tspan font-size="8.4" dy="0.4">2</tspan><tspan dy="-0.4"> (150µM)</tspan></text>
<text x="418.20" y="854.20" font-size="11.2" text-anchor="end">NGC (0.1µM)</text>
<text x="418.20" y="872.60" font-size="11.2" text-anchor="end">Insulin (25nM)</text>
<rect x="429.50" y="823.30" width="92.70" height="53.30" fill="none" stroke="#4a4a4a" stroke-width="1"/>
<line x1="452.68" y1="823.30" x2="452.68" y2="876.60" stroke="#4a4a4a" stroke-width="1"/>
<line x1="475.85" y1="823.30" x2="475.85" y2="876.60" stroke="#4a4a4a" stroke-width="1"/>
<line x1="499.03" y1="823.30" x2="499.03" y2="876.60" stroke="#4a4a4a" stroke-width="1"/>
<line x1="429.50" y1="841.07" x2="522.20" y2="841.07" stroke="#4a4a4a" stroke-width="1"/>
<line x1="429.50" y1="858.83" x2="522.20" y2="858.83" stroke="#4a4a4a" stroke-width="1"/>
<text x="441.09" y="835.54" font-size="11" text-anchor="middle">-</text>
<text x="464.26" y="835.54" font-size="11" text-anchor="middle">-</text>
<text x="487.44" y="835.54" font-size="11" text-anchor="middle">+</text>
<text x="510.61" y="835.54" font-size="11" text-anchor="middle">+</text>
<text x="441.09" y="853.31" font-size="11" text-anchor="middle">-</text>
<text x="464.26" y="853.31" font-size="11" text-anchor="middle">-</text>
<text x="487.44" y="853.31" font-size="11" text-anchor="middle">-</text>
<text x="510.61" y="853.31" font-size="11" text-anchor="middle">+</text>
<text x="441.09" y="871.88" font-size="11" text-anchor="middle">-</text>
<text x="464.26" y="871.88" font-size="11" text-anchor="middle">+</text>
<text x="487.44" y="871.88" font-size="11" text-anchor="middle">+</text>
<text x="510.61" y="871.88" font-size="11" text-anchor="middle">+</text>
<rect x="529.20" y="824.40" width="92.80" height="53.60" fill="none" stroke="#4a4a4a" stroke-width="1"/>
<line x1="552.40" y1="824.40" x2="552.40" y2="878.00" stroke="#4a4a4a" stroke-width="1"/>
<line x1="575.60" y1="824.40" x2="575.60" y2="878.00" stroke="#4a4a4a" stroke-width="1"/>
<line x1="598.80" y1="824.40" x2="598.80" y2="878.00" stroke="#4a4a4a" stroke-width="1"/>
<line x1="529.20" y1="842.27" x2="622.00" y2="842.27" stroke="#4a4a4a" stroke-width="1"/>
<line x1="529.20" y1="860.13" x2="622.00" y2="860.13" stroke="#4a4a4a" stroke-width="1"/>
<text x="540.80" y="836.69" font-size="11" text-anchor="middle">-</text>
<text x="564.00" y="836.69" font-size="11" text-anchor="middle">-</text>
<text x="587.20" y="836.69" font-size="11" text-anchor="middle">+</text>
<text x="610.40" y="836.69" font-size="11" text-anchor="middle">+</text>
<text x="540.80" y="854.56" font-size="11" text-anchor="middle">-</text>
<text x="564.00" y="854.56" font-size="11" text-anchor="middle">-</text>
<text x="587.20" y="854.56" font-size="11" text-anchor="middle">-</text>
<text x="610.40" y="854.56" font-size="11" text-anchor="middle">+</text>
<text x="540.80" y="873.23" font-size="11" text-anchor="middle">-</text>
<text x="564.00" y="873.23" font-size="11" text-anchor="middle">+</text>
<text x="587.20" y="873.23" font-size="11" text-anchor="middle">+</text>
<text x="610.40" y="873.23" font-size="11" text-anchor="middle">+</text>
<rect x="429.20" y="888.20" width="192.80" height="17.70" fill="#e2e2e2"/>
<rect x="429.20" y="911.00" width="192.80" height="17.40" fill="#e2e2e2"/>
<text x="418.20" y="898.20" font-size="11.2" text-anchor="end">pAKT</text>
<text x="418.20" y="919.30" font-size="11.2" text-anchor="end">GAPDH</text>
<rect x="435.30" y="893.50" width="5.00" height="1.20" rx="0.60" fill="#000" opacity="0.35" filter="url(#bb1)"/>
<rect x="455.20" y="892.60" width="23.00" height="5.80" rx="2.90" fill="#000" opacity="1.0" filter="url(#bb1)"/>
<rect x="482.50" y="894.90" width="15.00" height="2.60" rx="1.30" fill="#000" opacity="0.85" filter="url(#bb1)"/>
<rect x="502.75" y="894.90" width="19.50" height="4.20" rx="2.10" fill="#000" opacity="1.0" filter="url(#bb1)"/>
<rect x="528.00" y="896.40" width="5.00" height="1.20" rx="0.60" fill="#000" opacity="0.4" filter="url(#bb1)"/>
<rect x="536.50" y="896.00" width="4.00" height="1.00" rx="0.50" fill="#000" opacity="0.3" filter="url(#bb1)"/>
<rect x="548.10" y="894.20" width="23.00" height="6.80" rx="3.00" fill="#000" opacity="1.0" filter="url(#bb1)"/>
<rect x="575.75" y="896.90" width="14.50" height="2.20" rx="1.10" fill="#000" opacity="0.65" filter="url(#bb1)"/>
<rect x="597.60" y="896.40" width="22.00" height="4.20" rx="2.10" fill="#000" opacity="1.0" filter="url(#bb1)"/>
<rect x="432.00" y="917.60" width="187.00" height="3.40" rx="1.70" fill="#000" opacity="0.5" filter="url(#bb1)"/>
<rect x="430.75" y="917.40" width="24.50" height="3.80" rx="1.90" fill="#000" opacity="1.0" filter="url(#bb1)"/>
<rect x="453.75" y="917.40" width="24.50" height="3.80" rx="1.90" fill="#000" opacity="1.0" filter="url(#bb1)"/>
<rect x="477.75" y="917.40" width="24.50" height="3.80" rx="1.90" fill="#000" opacity="1.0" filter="url(#bb1)"/>
<rect x="501.25" y="917.40" width="24.50" height="3.80" rx="1.90" fill="#000" opacity="1.0" filter="url(#bb1)"/>
<rect x="524.75" y="917.40" width="23.50" height="3.80" rx="1.90" fill="#000" opacity="1.0" filter="url(#bb1)"/>
<rect x="545.75" y="917.40" width="24.50" height="3.80" rx="1.90" fill="#000" opacity="1.0" filter="url(#bb1)"/>
<rect x="570.25" y="917.40" width="24.50" height="3.80" rx="1.90" fill="#000" opacity="1.0" filter="url(#bb1)"/>
<rect x="593.50" y="917.40" width="25.00" height="3.80" rx="1.90" fill="#000" opacity="1.0" filter="url(#bb1)"/>
<line x1="623.80" y1="897.50" x2="627.40" y2="897.50" stroke="#333" stroke-width="1.1"/>
<text x="629.80" y="901.00" font-size="9.5">60</text>
<line x1="623.80" y1="921.70" x2="627.40" y2="921.70" stroke="#333" stroke-width="1.1"/>
<text x="629.80" y="925.20" font-size="9.5">37</text>
<text x="329.30" y="624.80" font-size="15" font-weight="bold">j</text>
<line x1="392.40" y1="734.90" x2="499.80" y2="734.90" stroke="#333" stroke-width="1.2"/>
<line x1="392.40" y1="734.90" x2="392.40" y2="627.70" stroke="#333" stroke-width="1.2"/>
<line x1="392.40" y1="734.90" x2="392.40" y2="739.40" stroke="#333" stroke-width="1.2"/>
<text x="392.40" y="752.30" font-size="11" text-anchor="middle">-10</text>
<line x1="397.79" y1="734.90" x2="397.79" y2="737.90" stroke="#333" stroke-width="0.9"/>
<line x1="400.94" y1="734.90" x2="400.94" y2="737.90" stroke="#333" stroke-width="0.9"/>
<line x1="403.18" y1="734.90" x2="403.18" y2="737.90" stroke="#333" stroke-width="0.9"/>
<line x1="404.91" y1="734.90" x2="404.91" y2="737.90" stroke="#333" stroke-width="0.9"/>
<line x1="406.33" y1="734.90" x2="406.33" y2="737.90" stroke="#333" stroke-width="0.9"/>
<line x1="407.53" y1="734.90" x2="407.53" y2="737.90" stroke="#333" stroke-width="0.9"/>
<line x1="408.57" y1="734.90" x2="408.57" y2="737.90" stroke="#333" stroke-width="0.9"/>
<line x1="409.48" y1="734.90" x2="409.48" y2="737.90" stroke="#333" stroke-width="0.9"/>
<line x1="410.30" y1="734.90" x2="410.30" y2="739.40" stroke="#333" stroke-width="1.2"/>
<text x="410.30" y="752.30" font-size="11" text-anchor="middle">-9</text>
<line x1="415.69" y1="734.90" x2="415.69" y2="737.90" stroke="#333" stroke-width="0.9"/>
<line x1="418.84" y1="734.90" x2="418.84" y2="737.90" stroke="#333" stroke-width="0.9"/>
<line x1="421.08" y1="734.90" x2="421.08" y2="737.90" stroke="#333" stroke-width="0.9"/>
<line x1="422.81" y1="734.90" x2="422.81" y2="737.90" stroke="#333" stroke-width="0.9"/>
<line x1="424.23" y1="734.90" x2="424.23" y2="737.90" stroke="#333" stroke-width="0.9"/>
<line x1="425.43" y1="734.90" x2="425.43" y2="737.90" stroke="#333" stroke-width="0.9"/>
<line x1="426.47" y1="734.90" x2="426.47" y2="737.90" stroke="#333" stroke-width="0.9"/>
<line x1="427.38" y1="734.90" x2="427.38" y2="737.90" stroke="#333" stroke-width="0.9"/>
<line x1="428.20" y1="734.90" x2="428.20" y2="739.40" stroke="#333" stroke-width="1.2"/>
<text x="428.20" y="752.30" font-size="11" text-anchor="middle">-8</text>
<line x1="433.59" y1="734.90" x2="433.59" y2="737.90" stroke="#333" stroke-width="0.9"/>
<line x1="436.74" y1="734.90" x2="436.74" y2="737.90" stroke="#333" stroke-width="0.9"/>
<line x1="438.98" y1="734.90" x2="438.98" y2="737.90" stroke="#333" stroke-width="0.9"/>
<line x1="440.71" y1="734.90" x2="440.71" y2="737.90" stroke="#333" stroke-width="0.9"/>
<line x1="442.13" y1="734.90" x2="442.13" y2="737.90" stroke="#333" stroke-width="0.9"/>
<line x1="443.33" y1="734.90" x2="443.33" y2="737.90" stroke="#333" stroke-width="0.9"/>
<line x1="444.37" y1="734.90" x2="444.37" y2="737.90" stroke="#333" stroke-width="0.9"/>
<line x1="445.28" y1="734.90" x2="445.28" y2="737.90" stroke="#333" stroke-width="0.9"/>
<line x1="446.10" y1="734.90" x2="446.10" y2="739.40" stroke="#333" stroke-width="1.2"/>
<text x="446.10" y="752.30" font-size="11" text-anchor="middle">-7</text>
<line x1="451.49" y1="734.90" x2="451.49" y2="737.90" stroke="#333" stroke-width="0.9"/>
<line x1="454.64" y1="734.90" x2="454.64" y2="737.90" stroke="#333" stroke-width="0.9"/>
<line x1="456.88" y1="734.90" x2="456.88" y2="737.90" stroke="#333" stroke-width="0.9"/>
<line x1="458.61" y1="734.90" x2="458.61" y2="737.90" stroke="#333" stroke-width="0.9"/>
<line x1="460.03" y1="734.90" x2="460.03" y2="737.90" stroke="#333" stroke-width="0.9"/>
<line x1="461.23" y1="734.90" x2="461.23" y2="737.90" stroke="#333" stroke-width="0.9"/>
<line x1="462.27" y1="734.90" x2="462.27" y2="737.90" stroke="#333" stroke-width="0.9"/>
<line x1="463.18" y1="734.90" x2="463.18" y2="737.90" stroke="#333" stroke-width="0.9"/>
<line x1="464.00" y1="734.90" x2="464.00" y2="739.40" stroke="#333" stroke-width="1.2"/>
<text x="464.00" y="752.30" font-size="11" text-anchor="middle">-6</text>
<line x1="469.39" y1="734.90" x2="469.39" y2="737.90" stroke="#333" stroke-width="0.9"/>
<line x1="472.54" y1="734.90" x2="472.54" y2="737.90" stroke="#333" stroke-width="0.9"/>
<line x1="474.78" y1="734.90" x2="474.78" y2="737.90" stroke="#333" stroke-width="0.9"/>
<line x1="476.51" y1="734.90" x2="476.51" y2="737.90" stroke="#333" stroke-width="0.9"/>
<line x1="477.93" y1="734.90" x2="477.93" y2="737.90" stroke="#333" stroke-width="0.9"/>
<line x1="479.13" y1="734.90" x2="479.13" y2="737.90" stroke="#333" stroke-width="0.9"/>
<line x1="480.17" y1="734.90" x2="480.17" y2="737.90" stroke="#333" stroke-width="0.9"/>
<line x1="481.08" y1="734.90" x2="481.08" y2="737.90" stroke="#333" stroke-width="0.9"/>
<line x1="481.90" y1="734.90" x2="481.90" y2="739.40" stroke="#333" stroke-width="1.2"/>
<text x="481.90" y="752.30" font-size="11" text-anchor="middle">-5</text>
<line x1="487.29" y1="734.90" x2="487.29" y2="737.90" stroke="#333" stroke-width="0.9"/>
<line x1="490.44" y1="734.90" x2="490.44" y2="737.90" stroke="#333" stroke-width="0.9"/>
<line x1="492.68" y1="734.90" x2="492.68" y2="737.90" stroke="#333" stroke-width="0.9"/>
<line x1="494.41" y1="734.90" x2="494.41" y2="737.90" stroke="#333" stroke-width="0.9"/>
<line x1="495.83" y1="734.90" x2="495.83" y2="737.90" stroke="#333" stroke-width="0.9"/>
<line x1="497.03" y1="734.90" x2="497.03" y2="737.90" stroke="#333" stroke-width="0.9"/>
<line x1="498.07" y1="734.90" x2="498.07" y2="737.90" stroke="#333" stroke-width="0.9"/>
<line x1="498.98" y1="734.90" x2="498.98" y2="737.90" stroke="#333" stroke-width="0.9"/>
<line x1="499.80" y1="734.90" x2="499.80" y2="739.40" stroke="#333" stroke-width="1.2"/>
<text x="499.80" y="752.30" font-size="11" text-anchor="middle">-4</text>
<line x1="386.20" y1="734.90" x2="392.40" y2="734.90" stroke="#333" stroke-width="1.2"/>
<text x="383.40" y="738.90" font-size="11" text-anchor="end">30</text>
<line x1="386.20" y1="699.17" x2="392.40" y2="699.17" stroke="#333" stroke-width="1.2"/>
<text x="383.40" y="703.17" font-size="11" text-anchor="end">40</text>
<line x1="386.20" y1="663.43" x2="392.40" y2="663.43" stroke="#333" stroke-width="1.2"/>
<text x="383.40" y="667.43" font-size="11" text-anchor="end">50</text>
<line x1="386.20" y1="627.70" x2="392.40" y2="627.70" stroke="#333" stroke-width="1.2"/>
<text x="383.40" y="631.70" font-size="11" text-anchor="end">60</text>
<text x="446.00" y="769.00" font-size="11" text-anchor="middle">NGC (log M)</text>
<text x="0.00" y="0.00" font-size="11.5" text-anchor="middle" transform="translate(364.2,683) rotate(-90)">IL-1β (pg/ml)</text>
<path d="M410.30,687.37 L410.94,687.37 L411.58,687.37 L412.22,687.36 L412.85,687.36 L413.49,687.36 L414.13,687.35 L414.77,687.35 L415.41,687.35 L416.05,687.34 L416.68,687.34 L417.32,687.34 L417.96,687.34 L418.60,687.33 L419.24,687.33 L419.88,687.33 L420.51,687.33 L421.15,687.32 L421.79,687.32 L422.43,687.32 L423.07,687.31 L423.71,687.31 L424.35,687.31 L424.98,687.31 L425.62,687.30 L426.26,687.30 L426.90,687.30 L427.54,687.29 L428.18,687.29 L428.81,687.29 L429.45,687.28 L430.09,687.28 L430.73,687.28 L431.37,687.27 L432.01,687.27 L432.65,687.26 L433.28,687.26 L433.92,687.25 L434.56,687.25 L435.20,687.24 L435.84,687.24 L436.48,687.23 L437.11,687.22 L437.75,687.22 L438.39,687.21 L439.03,687.21 L439.67,687.20 L440.31,687.19 L440.94,687.17 L441.58,687.15 L442.22,687.13 L442.86,687.10 L443.50,687.06 L444.14,687.02 L444.78,686.98 L445.41,686.93 L446.05,686.87 L446.69,686.81 L447.33,686.75 L447.97,686.68 L448.61,686.61 L449.24,686.54 L449.88,686.46 L450.52,686.38 L451.16,686.29 L451.80,686.20 L452.44,686.11 L453.08,686.02 L453.71,685.92 L454.35,685.82 L454.99,685.72 L455.63,685.61 L456.27,685.51 L456.91,685.40 L457.54,685.29 L458.18,685.17 L458.82,685.06 L459.46,684.94 L460.10,684.83 L460.74,684.71 L461.37,684.59 L462.01,684.47 L462.65,684.35 L463.29,684.23 L463.93,684.10 L464.57,683.97 L465.21,683.81 L465.84,683.64 L466.48,683.45 L467.12,683.24 L467.76,683.00 L468.40,682.75 L469.04,682.46 L469.67,682.15 L470.31,681.80 L470.95,681.43 L471.59,680.96 L472.23,680.23 L472.87,679.26 L473.50,678.10 L474.14,676.82 L474.78,675.45 L475.42,674.04 L476.06,672.64 L476.70,671.31 L477.34,669.97 L477.97,668.60 L478.61,667.16 L479.25,665.64 L479.89,664.03 L480.53,662.31 L481.17,660.45 L481.80,658.37 L482.44,656.04 L483.08,653.47 L483.72,650.67 L484.36,647.58 L485.00,643.92 L485.64,639.87 L486.27,635.69 L486.91,631.63" fill="none" stroke="#d6336e" stroke-width="1.2" stroke-linejoin="round"/>
<path d="M410.30,711.32 L410.94,711.32 L411.58,711.32 L412.22,711.32 L412.87,711.32 L413.51,711.32 L414.15,711.32 L414.79,711.32 L415.43,711.32 L416.07,711.32 L416.71,711.32 L417.36,711.32 L418.00,711.32 L418.64,711.32 L419.28,711.32 L419.92,711.32 L420.56,711.32 L421.20,711.32 L421.85,711.32 L422.49,711.32 L423.13,711.32 L423.77,711.32 L424.41,711.32 L425.05,711.32 L425.69,711.32 L426.34,711.32 L426.98,711.32 L427.62,711.32 L428.26,711.32 L428.90,711.32 L429.54,711.32 L430.18,711.32 L430.83,711.32 L431.47,711.32 L432.11,711.32 L432.75,711.32 L433.39,711.32 L434.03,711.32 L434.67,711.32 L435.32,711.32 L435.96,711.32 L436.60,711.32 L437.24,711.32 L437.88,711.32 L438.52,711.32 L439.16,711.32 L439.81,711.32 L440.45,711.31 L441.09,711.31 L441.73,711.30 L442.37,711.28 L443.01,711.26 L443.65,711.24 L444.30,711.21 L444.94,711.18 L445.58,711.15 L446.22,711.11 L446.86,711.07 L447.50,711.02 L448.14,710.97 L448.78,710.92 L449.43,710.87 L450.07,710.81 L450.71,710.75 L451.35,710.69 L451.99,710.63 L452.63,710.56 L453.27,710.49 L453.92,710.42 L454.56,710.35 L455.20,710.27 L455.84,710.19 L456.48,710.12 L457.12,710.04 L457.76,709.96 L458.41,709.87 L459.05,709.79 L459.69,709.71 L460.33,709.62 L460.97,709.53 L461.61,709.45 L462.25,709.36 L462.90,709.27 L463.54,709.19 L464.18,709.09 L464.82,708.99 L465.46,708.86 L466.10,708.73 L466.74,708.57 L467.39,708.40 L468.03,708.21 L468.67,708.01 L469.31,707.78 L469.95,707.54 L470.59,707.28 L471.23,706.99 L471.88,706.61 L472.52,706.08 L473.16,705.43 L473.80,704.69 L474.44,703.86 L475.08,702.98 L475.72,702.06 L476.37,701.10 L477.01,700.00 L477.65,698.78 L478.29,697.45 L478.93,696.02 L479.57,694.51 L480.21,692.94 L480.86,691.33 L481.50,689.61 L482.14,687.65 L482.78,685.54 L483.42,683.38 L484.06,681.25 L484.70,679.15 L485.35,677.02 L485.99,674.87 L486.63,672.72 L487.27,670.58" fill="none" stroke="#2828e8" stroke-width="1.2" stroke-linejoin="round"/>
<line x1="410.30" y1="689.16" x2="410.30" y2="699.88" stroke="#d6336e" stroke-width="1"/>
<line x1="407.90" y1="689.16" x2="412.70" y2="689.16" stroke="#d6336e" stroke-width="1"/>
<line x1="407.90" y1="699.88" x2="412.70" y2="699.88" stroke="#d6336e" stroke-width="1"/>
<circle cx="410.30" cy="694.52" r="1.1" fill="#d6336e"/>
<line x1="428.20" y1="687.73" x2="428.20" y2="691.31" stroke="#d6336e" stroke-width="1"/>
<line x1="425.80" y1="687.73" x2="430.60" y2="687.73" stroke="#d6336e" stroke-width="1"/>
<line x1="425.80" y1="691.31" x2="430.60" y2="691.31" stroke="#d6336e" stroke-width="1"/>
<circle cx="428.20" cy="689.52" r="1.1" fill="#d6336e"/>
<line x1="446.10" y1="692.91" x2="446.10" y2="695.41" stroke="#d6336e" stroke-width="1"/>
<line x1="443.70" y1="692.91" x2="448.50" y2="692.91" stroke="#d6336e" stroke-width="1"/>
<line x1="443.70" y1="695.41" x2="448.50" y2="695.41" stroke="#d6336e" stroke-width="1"/>
<circle cx="446.10" cy="694.16" r="1.1" fill="#d6336e"/>
<line x1="464.00" y1="684.87" x2="464.00" y2="688.45" stroke="#d6336e" stroke-width="1"/>
<line x1="461.60" y1="684.87" x2="466.40" y2="684.87" stroke="#d6336e" stroke-width="1"/>
<line x1="461.60" y1="688.45" x2="466.40" y2="688.45" stroke="#d6336e" stroke-width="1"/>
<circle cx="464.00" cy="686.66" r="1.1" fill="#d6336e"/>
<line x1="471.16" y1="682.01" x2="471.16" y2="689.88" stroke="#d6336e" stroke-width="1"/>
<line x1="468.76" y1="682.01" x2="473.56" y2="682.01" stroke="#d6336e" stroke-width="1"/>
<line x1="468.76" y1="689.88" x2="473.56" y2="689.88" stroke="#d6336e" stroke-width="1"/>
<circle cx="471.16" cy="685.95" r="1.1" fill="#d6336e"/>
<line x1="476.53" y1="657.00" x2="476.53" y2="671.29" stroke="#d6336e" stroke-width="1"/>
<line x1="474.13" y1="657.00" x2="478.93" y2="657.00" stroke="#d6336e" stroke-width="1"/>
<line x1="474.13" y1="671.29" x2="478.93" y2="671.29" stroke="#d6336e" stroke-width="1"/>
<circle cx="476.53" cy="664.15" r="1.1" fill="#d6336e"/>
<line x1="486.91" y1="639.49" x2="486.91" y2="650.21" stroke="#d6336e" stroke-width="1"/>
<line x1="484.51" y1="639.49" x2="489.31" y2="639.49" stroke="#d6336e" stroke-width="1"/>
<line x1="484.51" y1="650.21" x2="489.31" y2="650.21" stroke="#d6336e" stroke-width="1"/>
<circle cx="486.91" cy="644.85" r="1.1" fill="#d6336e"/>
<circle cx="481.54" cy="635.92" r="1.1" fill="#d6336e"/>
<line x1="410.30" y1="707.03" x2="410.30" y2="714.17" stroke="#2828e8" stroke-width="1"/>
<line x1="407.90" y1="707.03" x2="412.70" y2="707.03" stroke="#2828e8" stroke-width="1"/>
<line x1="407.90" y1="714.17" x2="412.70" y2="714.17" stroke="#2828e8" stroke-width="1"/>
<circle cx="410.30" cy="710.60" r="1.1" fill="#2828e8"/>
<line x1="428.20" y1="712.03" x2="428.20" y2="717.75" stroke="#2828e8" stroke-width="1"/>
<line x1="425.80" y1="712.03" x2="430.60" y2="712.03" stroke="#2828e8" stroke-width="1"/>
<line x1="425.80" y1="717.75" x2="430.60" y2="717.75" stroke="#2828e8" stroke-width="1"/>
<circle cx="428.20" cy="714.89" r="1.1" fill="#2828e8"/>
<line x1="446.10" y1="705.35" x2="446.10" y2="710.14" stroke="#2828e8" stroke-width="1"/>
<line x1="443.70" y1="705.35" x2="448.50" y2="705.35" stroke="#2828e8" stroke-width="1"/>
<line x1="443.70" y1="710.14" x2="448.50" y2="710.14" stroke="#2828e8" stroke-width="1"/>
<circle cx="446.10" cy="707.74" r="1.1" fill="#2828e8"/>
<line x1="464.00" y1="709.53" x2="464.00" y2="712.39" stroke="#2828e8" stroke-width="1"/>
<line x1="461.60" y1="709.53" x2="466.40" y2="709.53" stroke="#2828e8" stroke-width="1"/>
<line x1="461.60" y1="712.39" x2="466.40" y2="712.39" stroke="#2828e8" stroke-width="1"/>
<circle cx="464.00" cy="710.96" r="1.1" fill="#2828e8"/>
<line x1="471.16" y1="710.07" x2="471.16" y2="712.57" stroke="#2828e8" stroke-width="1"/>
<line x1="468.76" y1="710.07" x2="473.56" y2="710.07" stroke="#2828e8" stroke-width="1"/>
<line x1="468.76" y1="712.57" x2="473.56" y2="712.57" stroke="#2828e8" stroke-width="1"/>
<circle cx="471.16" cy="711.32" r="1.1" fill="#2828e8"/>
<line x1="476.53" y1="700.60" x2="476.53" y2="702.74" stroke="#2828e8" stroke-width="1"/>
<line x1="474.13" y1="700.60" x2="478.93" y2="700.60" stroke="#2828e8" stroke-width="1"/>
<line x1="474.13" y1="702.74" x2="478.93" y2="702.74" stroke="#2828e8" stroke-width="1"/>
<circle cx="476.53" cy="701.67" r="1.1" fill="#2828e8"/>
<line x1="481.90" y1="677.19" x2="481.90" y2="684.69" stroke="#2828e8" stroke-width="1"/>
<line x1="479.50" y1="677.19" x2="484.30" y2="677.19" stroke="#2828e8" stroke-width="1"/>
<line x1="479.50" y1="684.69" x2="484.30" y2="684.69" stroke="#2828e8" stroke-width="1"/>
<circle cx="481.90" cy="680.94" r="1.1" fill="#2828e8"/>
<line x1="486.91" y1="668.79" x2="486.91" y2="676.65" stroke="#2828e8" stroke-width="1"/>
<line x1="484.51" y1="668.79" x2="489.31" y2="668.79" stroke="#2828e8" stroke-width="1"/>
<line x1="484.51" y1="676.65" x2="489.31" y2="676.65" stroke="#2828e8" stroke-width="1"/>
<circle cx="486.91" cy="672.72" r="1.1" fill="#2828e8"/>
<line x1="397.20" y1="631.20" x2="416.20" y2="631.20" stroke="#d6336e" stroke-width="1.2"/>
<circle cx="406.7" cy="631.2" r="1.1" fill="#d6336e"/>
<text x="427.00" y="635.40" font-size="11.4">Adi_TNFα</text>
<line x1="397.40" y1="645.30" x2="416.40" y2="645.30" stroke="#2828e8" stroke-width="1.2"/>
<circle cx="406.9" cy="645.3" r="1.1" fill="#2828e8"/>
<text x="427.00" y="650.00" font-size="11.4">Adi_LPS</text>
<text x="515.50" y="621.80" font-size="15" font-weight="bold">k</text>
<line x1="572.40" y1="734.50" x2="679.80" y2="734.50" stroke="#333" stroke-width="1.2"/>
<line x1="572.40" y1="734.50" x2="572.40" y2="627.50" stroke="#333" stroke-width="1.2"/>
<line x1="572.40" y1="734.50" x2="572.40" y2="739.00" stroke="#333" stroke-width="1.2"/>
<text x="572.40" y="751.90" font-size="11" text-anchor="middle">-10</text>
<line x1="577.79" y1="734.50" x2="577.79" y2="737.50" stroke="#333" stroke-width="0.9"/>
<line x1="580.94" y1="734.50" x2="580.94" y2="737.50" stroke="#333" stroke-width="0.9"/>
<line x1="583.18" y1="734.50" x2="583.18" y2="737.50" stroke="#333" stroke-width="0.9"/>
<line x1="584.91" y1="734.50" x2="584.91" y2="737.50" stroke="#333" stroke-width="0.9"/>
<line x1="586.33" y1="734.50" x2="586.33" y2="737.50" stroke="#333" stroke-width="0.9"/>
<line x1="587.53" y1="734.50" x2="587.53" y2="737.50" stroke="#333" stroke-width="0.9"/>
<line x1="588.57" y1="734.50" x2="588.57" y2="737.50" stroke="#333" stroke-width="0.9"/>
<line x1="589.48" y1="734.50" x2="589.48" y2="737.50" stroke="#333" stroke-width="0.9"/>
<line x1="590.30" y1="734.50" x2="590.30" y2="739.00" stroke="#333" stroke-width="1.2"/>
<text x="590.30" y="751.90" font-size="11" text-anchor="middle">-9</text>
<line x1="595.69" y1="734.50" x2="595.69" y2="737.50" stroke="#333" stroke-width="0.9"/>
<line x1="598.84" y1="734.50" x2="598.84" y2="737.50" stroke="#333" stroke-width="0.9"/>
<line x1="601.08" y1="734.50" x2="601.08" y2="737.50" stroke="#333" stroke-width="0.9"/>
<line x1="602.81" y1="734.50" x2="602.81" y2="737.50" stroke="#333" stroke-width="0.9"/>
<line x1="604.23" y1="734.50" x2="604.23" y2="737.50" stroke="#333" stroke-width="0.9"/>
<line x1="605.43" y1="734.50" x2="605.43" y2="737.50" stroke="#333" stroke-width="0.9"/>
<line x1="606.47" y1="734.50" x2="606.47" y2="737.50" stroke="#333" stroke-width="0.9"/>
<line x1="607.38" y1="734.50" x2="607.38" y2="737.50" stroke="#333" stroke-width="0.9"/>
<line x1="608.20" y1="734.50" x2="608.20" y2="739.00" stroke="#333" stroke-width="1.2"/>
<text x="608.20" y="751.90" font-size="11" text-anchor="middle">-8</text>
<line x1="613.59" y1="734.50" x2="613.59" y2="737.50" stroke="#333" stroke-width="0.9"/>
<line x1="616.74" y1="734.50" x2="616.74" y2="737.50" stroke="#333" stroke-width="0.9"/>
<line x1="618.98" y1="734.50" x2="618.98" y2="737.50" stroke="#333" stroke-width="0.9"/>
<line x1="620.71" y1="734.50" x2="620.71" y2="737.50" stroke="#333" stroke-width="0.9"/>
<line x1="622.13" y1="734.50" x2="622.13" y2="737.50" stroke="#333" stroke-width="0.9"/>
<line x1="623.33" y1="734.50" x2="623.33" y2="737.50" stroke="#333" stroke-width="0.9"/>
<line x1="624.37" y1="734.50" x2="624.37" y2="737.50" stroke="#333" stroke-width="0.9"/>
<line x1="625.28" y1="734.50" x2="625.28" y2="737.50" stroke="#333" stroke-width="0.9"/>
<line x1="626.10" y1="734.50" x2="626.10" y2="739.00" stroke="#333" stroke-width="1.2"/>
<text x="626.10" y="751.90" font-size="11" text-anchor="middle">-7</text>
<line x1="631.49" y1="734.50" x2="631.49" y2="737.50" stroke="#333" stroke-width="0.9"/>
<line x1="634.64" y1="734.50" x2="634.64" y2="737.50" stroke="#333" stroke-width="0.9"/>
<line x1="636.88" y1="734.50" x2="636.88" y2="737.50" stroke="#333" stroke-width="0.9"/>
<line x1="638.61" y1="734.50" x2="638.61" y2="737.50" stroke="#333" stroke-width="0.9"/>
<line x1="640.03" y1="734.50" x2="640.03" y2="737.50" stroke="#333" stroke-width="0.9"/>
<line x1="641.23" y1="734.50" x2="641.23" y2="737.50" stroke="#333" stroke-width="0.9"/>
<line x1="642.27" y1="734.50" x2="642.27" y2="737.50" stroke="#333" stroke-width="0.9"/>
<line x1="643.18" y1="734.50" x2="643.18" y2="737.50" stroke="#333" stroke-width="0.9"/>
<line x1="644.00" y1="734.50" x2="644.00" y2="739.00" stroke="#333" stroke-width="1.2"/>
<text x="644.00" y="751.90" font-size="11" text-anchor="middle">-6</text>
<line x1="649.39" y1="734.50" x2="649.39" y2="737.50" stroke="#333" stroke-width="0.9"/>
<line x1="652.54" y1="734.50" x2="652.54" y2="737.50" stroke="#333" stroke-width="0.9"/>
<line x1="654.78" y1="734.50" x2="654.78" y2="737.50" stroke="#333" stroke-width="0.9"/>
<line x1="656.51" y1="734.50" x2="656.51" y2="737.50" stroke="#333" stroke-width="0.9"/>
<line x1="657.93" y1="734.50" x2="657.93" y2="737.50" stroke="#333" stroke-width="0.9"/>
<line x1="659.13" y1="734.50" x2="659.13" y2="737.50" stroke="#333" stroke-width="0.9"/>
<line x1="660.17" y1="734.50" x2="660.17" y2="737.50" stroke="#333" stroke-width="0.9"/>
<line x1="661.08" y1="734.50" x2="661.08" y2="737.50" stroke="#333" stroke-width="0.9"/>
<line x1="661.90" y1="734.50" x2="661.90" y2="739.00" stroke="#333" stroke-width="1.2"/>
<text x="661.90" y="751.90" font-size="11" text-anchor="middle">-5</text>
<line x1="667.29" y1="734.50" x2="667.29" y2="737.50" stroke="#333" stroke-width="0.9"/>
<line x1="670.44" y1="734.50" x2="670.44" y2="737.50" stroke="#333" stroke-width="0.9"/>
<line x1="672.68" y1="734.50" x2="672.68" y2="737.50" stroke="#333" stroke-width="0.9"/>
<line x1="674.41" y1="734.50" x2="674.41" y2="737.50" stroke="#333" stroke-width="0.9"/>
<line x1="675.83" y1="734.50" x2="675.83" y2="737.50" stroke="#333" stroke-width="0.9"/>
<line x1="677.03" y1="734.50" x2="677.03" y2="737.50" stroke="#333" stroke-width="0.9"/>
<line x1="678.07" y1="734.50" x2="678.07" y2="737.50" stroke="#333" stroke-width="0.9"/>
<line x1="678.98" y1="734.50" x2="678.98" y2="737.50" stroke="#333" stroke-width="0.9"/>
<line x1="679.80" y1="734.50" x2="679.80" y2="739.00" stroke="#333" stroke-width="1.2"/>
<text x="679.80" y="751.90" font-size="11" text-anchor="middle">-4</text>
<line x1="566.20" y1="734.50" x2="572.40" y2="734.50" stroke="#333" stroke-width="1.2"/>
<text x="563.40" y="738.50" font-size="11" text-anchor="end">0</text>
<line x1="566.20" y1="713.10" x2="572.40" y2="713.10" stroke="#333" stroke-width="1.2"/>
<text x="563.40" y="717.10" font-size="11" text-anchor="end">200</text>
<line x1="566.20" y1="691.70" x2="572.40" y2="691.70" stroke="#333" stroke-width="1.2"/>
<text x="563.40" y="695.70" font-size="11" text-anchor="end">400</text>
<line x1="566.20" y1="670.30" x2="572.40" y2="670.30" stroke="#333" stroke-width="1.2"/>
<text x="563.40" y="674.30" font-size="11" text-anchor="end">600</text>
<line x1="566.20" y1="648.90" x2="572.40" y2="648.90" stroke="#333" stroke-width="1.2"/>
<text x="563.40" y="652.90" font-size="11" text-anchor="end">800</text>
<line x1="566.20" y1="627.50" x2="572.40" y2="627.50" stroke="#333" stroke-width="1.2"/>
<text x="563.40" y="631.50" font-size="11" text-anchor="end">1000</text>
<text x="626.00" y="769.00" font-size="11" text-anchor="middle">NGC (log M)</text>
<text x="0.00" y="0.00" font-size="11.5" text-anchor="middle" transform="translate(532.4,683) rotate(-90)">IL-1β (pg/ml)</text>
<path d="M590.30,734.29 L590.94,734.28 L591.58,734.28 L592.22,734.28 L592.86,734.28 L593.50,734.28 L594.14,734.27 L594.78,734.27 L595.42,734.27 L596.06,734.27 L596.70,734.27 L597.34,734.27 L597.98,734.26 L598.62,734.26 L599.26,734.26 L599.90,734.26 L600.54,734.26 L601.18,734.26 L601.82,734.25 L602.46,734.25 L603.10,734.25 L603.74,734.25 L604.38,734.25 L605.02,734.25 L605.66,734.24 L606.30,734.24 L606.94,734.24 L607.58,734.24 L608.22,734.24 L608.86,734.23 L609.50,734.23 L610.14,734.23 L610.78,734.23 L611.42,734.22 L612.06,734.22 L612.70,734.22 L613.34,734.22 L613.98,734.21 L614.62,734.21 L615.26,734.21 L615.90,734.20 L616.54,734.20 L617.18,734.20 L617.82,734.19 L618.46,734.19 L619.10,734.19 L619.74,734.18 L620.38,734.18 L621.02,734.17 L621.66,734.15 L622.30,734.13 L622.94,734.10 L623.58,734.07 L624.22,734.03 L624.86,733.99 L625.50,733.95 L626.14,733.89 L626.78,733.84 L627.42,733.78 L628.06,733.71 L628.70,733.64 L629.34,733.57 L629.98,733.49 L630.62,733.40 L631.26,733.32 L631.90,733.22 L632.54,733.13 L633.17,733.03 L633.81,732.92 L634.45,732.82 L635.09,732.70 L635.73,732.59 L636.37,732.47 L637.01,732.35 L637.65,732.22 L638.29,732.09 L638.93,731.96 L639.57,731.82 L640.21,731.68 L640.85,731.54 L641.49,731.39 L642.13,731.24 L642.77,731.09 L643.41,730.93 L644.05,730.69 L644.69,730.33 L645.33,729.87 L645.97,729.32 L646.61,728.68 L647.25,727.98 L647.89,727.23 L648.53,726.42 L649.17,725.59 L649.81,724.73 L650.45,723.87 L651.09,723.01 L651.73,722.08 L652.37,721.06 L653.01,719.93 L653.65,718.71 L654.29,717.38 L654.93,715.95 L655.57,714.42 L656.21,712.78 L656.85,710.94 L657.49,708.83 L658.13,706.44 L658.77,703.79 L659.41,700.86 L660.05,697.67 L660.69,693.77 L661.33,688.82 L661.97,683.37 L662.61,677.93 L663.25,672.61 L663.89,667.14 L664.53,661.55 L665.17,655.84 L665.81,649.99 L666.45,643.94 L667.09,637.88" fill="none" stroke="#4cd636" stroke-width="1.2" stroke-linejoin="round"/>
<circle cx="590.30" cy="731.29" r="1.1" fill="#4cd636"/>
<circle cx="608.20" cy="731.29" r="1.1" fill="#4cd636"/>
<circle cx="625.38" cy="730.97" r="1.1" fill="#4cd636"/>
<circle cx="644.00" cy="730.11" r="1.1" fill="#4cd636"/>
<circle cx="651.16" cy="730.11" r="1.1" fill="#4cd636"/>
<circle cx="656.53" cy="726.48" r="1.1" fill="#4cd636"/>
<circle cx="661.00" cy="673.94" r="1.1" fill="#4cd636"/>
<line x1="666.91" y1="634.35" x2="666.91" y2="638.41" stroke="#4cd636" stroke-width="1"/>
<line x1="664.51" y1="634.35" x2="669.31" y2="634.35" stroke="#4cd636" stroke-width="1"/>
<line x1="664.51" y1="638.41" x2="669.31" y2="638.41" stroke="#4cd636" stroke-width="1"/>
<circle cx="666.91" cy="636.38" r="1.1" fill="#4cd636"/>
<line x1="574.30" y1="637.80" x2="594.50" y2="637.80" stroke="#4cd636" stroke-width="1.2"/>
<circle cx="584.4" cy="637.8" r="1.1" fill="#4cd636"/>
<text x="605.30" y="642.00" font-size="11.4">MQ_LPS</text>
<text x="4.80" y="434.60" font-size="15" font-weight="bold">e</text>
<g fill="none" stroke-linecap="round" stroke-linejoin="round">
<path d="M196.1,438.8 L205.3,433.2 L214.7,438.8 L210.3,451.1 L197.9,450 L196.1,438.8" class="bk"/>
<path d="M214.7,438.8 L227,437.1 L235.3,447.6 L230.9,459.4 L217.8,460.7 L210.3,451.1" class="bk"/>
<path d="M205.3,433.2 L205.5,422.6" class="bk"/>
<path d="M227,437.1 L231.3,426.6" class="bk"/>
<path d="M235.3,447.6 L247.6,445.8" class="bk"/>
<path d="M230.9,459.4 L237.5,468.2" class="bk"/>
<path d="M217.8,460.7 L214.7,469.9" class="bk"/>
<path d="M196.1,438.8 L187.9,435.2" class="bk"/>
<path d="M197.9,450 L192,457.7 L187.9,470" class="bk"/>
<path d="M189,450 L195.1,454.6" class="bk"/>
<path d="M193,462.8 L202.2,465.9" class="bk"/>
<path d="M182.8,455.7 L191,459.7" class="bk"/>
<path d="M195,462 L202.9,465.5" class="bk"/>
<path d="M174.6,466.9 L186.9,471 L193,482.2 L188.9,490.4 L176.7,487.3 L170.5,476.1 L174.6,466.9" class="bk"/>
<path d="M174.6,466.9 L169.5,459.7" class="bk"/>
<path d="M193,482.2 L206.3,485.3 L214.5,490.4 L225.3,493.1" class="bk"/>
<path d="M206.3,485.3 L210.4,476.1" class="bk"/>
<path d="M206.3,485.3 L202.2,494.5" class="bk"/>
<path d="M176.7,487.2 L188.9,490.2 L193,499.4" class="bk"/>
<path d="M188.9,490.2 L192,482" class="bk"/>
<path d="M176.7,487.2 L172.1,493.8" class="bk"/>
<path d="M90.1,530.1 L103.4,529 L113.6,526.5 L124.9,527.5 L133,523.9 L145.3,525 L153.2,520.9 L165.4,519.9 L172.6,523.9 L184.9,523.4 L192,531.1 L201.2,530.1" class="bk"/>
<path d="M94.2,538.2 L103.4,534.2 L110,536.2" class="bk"/>
<path d="M124.9,521.9 L125.9,538.8" class="bk"/>
<path d="M132,514.2 L132.5,530.1" class="bk"/>
<path d="M145.3,518.8 L146.8,535.7" class="bk"/>
<path d="M153.2,510.7 L154.2,536.2" class="bk"/>
<path d="M95.2,525 L96.2,529" class="bk"/>
<path d="M165.4,519.9 L167,514.7" class="bk"/>
<path d="M172.6,523.9 L171.6,528" class="bk"/>
<path d="M192,531.1 L192.3,553.5" class="bk"/>
<path d="M145,518.8 L147,535.2" class="bk"/>
<path d="M184.9,523.4 L187.9,509.1 L198.6,506.6 L204.3,493.3 L206.3,485.1" class="bk"/>
<path d="M187.9,509.1 L181.8,502.5" class="bk"/>
<path d="M198.6,506.6 L204.3,512.7" class="bk"/>
<path d="M196.1,488.2 L212.4,490.2" class="bd"/>
<path d="M200,487 L208,481" class="bd"/>
<path d="M196.1,438.8 L205.3,433.2 L214.7,438.8 L210.3,451.1 L197.9,450 L196.1,438.8" class="bl"/>
<path d="M214.7,438.8 L227,437.1 L235.3,447.6 L230.9,459.4 L217.8,460.7 L210.3,451.1" class="bl"/>
<path d="M205.3,433.2 L205.5,422.6" class="bl"/>
<path d="M227,437.1 L231.3,426.6" class="bl"/>
<path d="M235.3,447.6 L247.6,445.8" class="bl"/>
<path d="M230.9,459.4 L237.5,468.2" class="bl"/>
<path d="M217.8,460.7 L214.7,469.9" class="bl"/>
<path d="M196.1,438.8 L187.9,435.2" class="bl"/>
<path d="M197.9,450 L192,457.7 L187.9,470" class="bl"/>
<path d="M189,450 L195.1,454.6" class="bl"/>
<path d="M193,462.8 L202.2,465.9" class="bl"/>
<path d="M182.8,455.7 L191,459.7" class="bl"/>
<path d="M195,462 L202.9,465.5" class="bl"/>
<path d="M174.6,466.9 L186.9,471 L193,482.2 L188.9,490.4 L176.7,487.3 L170.5,476.1 L174.6,466.9" class="bl"/>
<path d="M174.6,466.9 L169.5,459.7" class="bl"/>
<path d="M193,482.2 L206.3,485.3 L214.5,490.4 L225.3,493.1" class="bl"/>
<path d="M206.3,485.3 L210.4,476.1" class="bl"/>
<path d="M206.3,485.3 L202.2,494.5" class="bl"/>
<path d="M176.7,487.2 L188.9,490.2 L193,499.4" class="bl"/>
<path d="M188.9,490.2 L192,482" class="bl"/>
<path d="M176.7,487.2 L172.1,493.8" class="bl"/>
<path d="M90.1,530.1 L103.4,529 L113.6,526.5 L124.9,527.5 L133,523.9 L145.3,525 L153.2,520.9 L165.4,519.9 L172.6,523.9 L184.9,523.4 L192,531.1 L201.2,530.1" class="bl"/>
<path d="M94.2,538.2 L103.4,534.2 L110,536.2" class="bl"/>
<path d="M124.9,521.9 L125.9,538.8" class="bl"/>
<path d="M132,514.2 L132.5,530.1" class="bl"/>
<path d="M145.3,518.8 L146.8,535.7" class="bl"/>
<path d="M153.2,510.7 L154.2,536.2" class="bl"/>
<path d="M95.2,525 L96.2,529" class="bl"/>
<path d="M165.4,519.9 L167,514.7" class="bl"/>
<path d="M172.6,523.9 L171.6,528" class="bl"/>
<path d="M192,531.1 L192.3,553.5" class="bl"/>
<path d="M145,518.8 L147,535.2" class="bl"/>
<path d="M184.9,523.4 L187.9,509.1 L198.6,506.6 L204.3,493.3 L206.3,485.1" class="bl"/>
<path d="M187.9,509.1 L181.8,502.5" class="bl"/>
<path d="M198.6,506.6 L204.3,512.7" class="bl"/>
<path d="M144.5,474 L124.9,520.9" class="dg2"/>
<path d="M146.3,476 L147,492" class="dg2"/>
<path d="M72,490 L74,486" class="dg2"/>
<path d="M136.1,457 L133.2,451.9" class="hk"/>
<path d="M146.3,449.7 L146.3,441" class="hk"/>
<path d="M166.8,448.2 L166,441.5" class="hk"/>
<path d="M166.8,448.2 L172,454" class="hk"/>
<path d="M155.1,468 L163.8,459.2" class="hk"/>
<path d="M160.9,473.8 L157.3,481" class="hk"/>
<path d="M128.8,472.3 L131.7,481.1" class="hk"/>
<path d="M123.7,473.8 L116.4,465.8" class="hk"/>
<path d="M143.4,479.6 L146.3,491.3" class="hk"/>
<path d="M61.3,472 L61.3,481" class="hk"/>
<path d="M60.3,481.7 L51.6,485.8" class="hk"/>
<path d="M73,482.7 L73,490.9" class="hk"/>
<path d="M52.6,489 L63.8,503.1" class="hk"/>
<path d="M50,506.2 L42.9,514.4" class="hk"/>
<path d="M53.6,513.5 L58.7,519.6" class="hk"/>
<path d="M54.6,513.5 L62.8,507.4" class="hk"/>
<path d="M65.9,496.5 L65.9,503.1" class="hk"/>
<path d="M88.4,494 L94,494.5" class="hk"/>
<path d="M78.1,516.4 L84.3,517.4" class="hk"/>
<path d="M52.6,491 L58.7,499.2" class="hk"/>
<path d="M70,509.4 L70.5,511.5" class="hk"/>
<path d="M78.1,540.1 L83.2,540.1" class="hk"/>
<path d="M85.3,543.1 L85.3,548.2" class="hk"/>
<path d="M90.4,540.1 L94.5,540.1" class="hk"/>
<path d="M143.2,490.3 L147.3,495.4" class="hk"/>
<path d="M143.2,490.3 L144.3,480.1" class="hk"/>
<path d="M115.7,479 L115.7,493.4" class="hk"/>
<path d="M101.3,466.8 L94.2,471.9" class="hk"/>
<path d="M101.3,466.8 L111.6,465.8" class="hk"/>
<path d="M90.1,493.4 L96.2,495.4" class="hk"/>
<path d="M120.8,493.4 L125.9,497.4" class="hk"/>
<path d="M100.3,517.8 L109.5,520.9" class="hk"/>
<path d="M100.3,517.8 L99.3,526" class="hk"/>
<path d="M89.1,510.7 L95.2,511.7" class="hk"/>
<path d="M115.7,495.3 L114.6,501.5" class="hk"/>
<path d="M110.5,506.6 L118.7,506.6" class="hk"/>
<path d="M88.1,540.3 L97.3,541.3" class="hk"/>
<path d="M90.1,465.8 L96.2,468.8" class="hk"/>
<path d="M87,471.9 L91.1,470.9" class="hk"/>
<path d="M121,497 L119,503" class="hk"/>
<path d="M134.998,455.062 L133.2,451.9" class="hl"/>
<path d="M146.3,446.394 L146.3,441" class="hl"/>
<path d="M166.496,445.654 L166,441.5" class="hl"/>
<path d="M168.776,450.404 L172,454" class="hl"/>
<path d="M158.406,464.656 L163.8,459.2" class="hl"/>
<path d="M159.532,476.536 L157.3,481" class="hl"/>
<path d="M129.90200000000002,475.644 L131.7,481.1" class="hl"/>
<path d="M120.926,470.76 L116.4,465.8" class="hl"/>
<path d="M145.198,486.85400000000004 L143.4,479.6" class="hl"/>
<path d="M61.3,477.58 L61.3,472" class="hl"/>
<path d="M56.994,483.258 L51.6,485.8" class="hl"/>
<path d="M73.0,487.784 L73,482.7" class="hl"/>
<path d="M56.856,494.358 L63.8,503.1" class="hl"/>
<path d="M47.302,509.316 L42.9,514.4" class="hl"/>
<path d="M55.538000000000004,515.818 L58.7,519.6" class="hl"/>
<path d="M59.684,509.71799999999996 L54.6,513.5" class="hl"/>
<path d="M65.9,499.008 L65.9,503.1" class="hl"/>
<path d="M90.528,494.19 L94,494.5" class="hl"/>
<path d="M81.944,517.02 L78.1,516.4" class="hl"/>
<path d="M56.382000000000005,496.084 L52.6,491" class="hl"/>
<path d="M70.19,510.198 L70.5,511.5" class="hl"/>
<path d="M81.262,540.1 L78.1,540.1" class="hl"/>
<path d="M85.3,545.038 L85.3,548.2" class="hl"/>
<path d="M91.958,540.1 L94.5,540.1" class="hl"/>
<path d="M144.758,492.238 L147.3,495.4" class="hl"/>
<path d="M143.618,486.42400000000004 L144.3,480.1" class="hl"/>
<path d="M115.7,487.928 L115.7,479" class="hl"/>
<path d="M96.898,469.962 L101.3,466.8" class="hl"/>
<path d="M105.214,466.42 L111.6,465.8" class="hl"/>
<path d="M92.41799999999999,494.15999999999997 L96.2,495.4" class="hl"/>
<path d="M122.738,494.91999999999996 L125.9,497.4" class="hl"/>
<path d="M103.79599999999999,518.978 L109.5,520.9" class="hl"/>
<path d="M99.92,520.9159999999999 L99.3,526" class="hl"/>
<path d="M91.41799999999999,511.08 L95.2,511.7" class="hl"/>
<path d="M115.282,497.656 L114.6,501.5" class="hl"/>
<path d="M113.616,506.6 L118.7,506.6" class="hl"/>
<path d="M91.59599999999999,540.68 L97.3,541.3" class="hl"/>
<path d="M93.882,467.66 L90.1,465.8" class="hl"/>
<path d="M89.542,471.28 L87,471.9" class="hl"/>
<path d="M120.24,499.28 L119,503" class="hl"/>
<path d="M136.1,457 L134.998,455.062" class="hgl"/>
<path d="M146.3,449.7 L146.3,446.394" class="hgl"/>
<path d="M166.8,448.2 L166.496,445.654" class="hgl"/>
<path d="M166.8,448.2 L168.776,450.404" class="hgl"/>
<path d="M155.1,468 L158.406,464.656" class="hgl"/>
<path d="M160.9,473.8 L159.532,476.536" class="hgl"/>
<path d="M128.8,472.3 L129.90200000000002,475.644" class="hgl"/>
<path d="M123.7,473.8 L120.926,470.76" class="hgl"/>
<path d="M146.3,491.3 L145.198,486.85400000000004" class="hgl"/>
<path d="M61.3,481 L61.3,477.58" class="hgl"/>
<path d="M60.3,481.7 L56.994,483.258" class="hgl"/>
<path d="M73,490.9 L73.0,487.784" class="hgl"/>
<path d="M52.6,489 L56.856,494.358" class="hgl"/>
<path d="M50,506.2 L47.302,509.316" class="hgl"/>
<path d="M53.6,513.5 L55.538000000000004,515.818" class="hgl"/>
<path d="M62.8,507.4 L59.684,509.71799999999996" class="hgl"/>
<path d="M65.9,496.5 L65.9,499.008" class="hgl"/>
<path d="M88.4,494 L90.528,494.19" class="hgl"/>
<path d="M84.3,517.4 L81.944,517.02" class="hgl"/>
<path d="M58.7,499.2 L56.382000000000005,496.084" class="hgl"/>
<path d="M70,509.4 L70.19,510.198" class="hgl"/>
<path d="M83.2,540.1 L81.262,540.1" class="hgl"/>
<path d="M85.3,543.1 L85.3,545.038" class="hgl"/>
<path d="M90.4,540.1 L91.958,540.1" class="hgl"/>
<path d="M143.2,490.3 L144.758,492.238" class="hgl"/>
<path d="M143.2,490.3 L143.618,486.42400000000004" class="hgl"/>
<path d="M115.7,493.4 L115.7,487.928" class="hgl"/>
<path d="M94.2,471.9 L96.898,469.962" class="hgl"/>
<path d="M101.3,466.8 L105.214,466.42" class="hgl"/>
<path d="M90.1,493.4 L92.41799999999999,494.15999999999997" class="hgl"/>
<path d="M120.8,493.4 L122.738,494.91999999999996" class="hgl"/>
<path d="M100.3,517.8 L103.79599999999999,518.978" class="hgl"/>
<path d="M100.3,517.8 L99.92,520.9159999999999" class="hgl"/>
<path d="M89.1,510.7 L91.41799999999999,511.08" class="hgl"/>
<path d="M115.7,495.3 L115.282,497.656" class="hgl"/>
<path d="M110.5,506.6 L113.616,506.6" class="hgl"/>
<path d="M88.1,540.3 L91.59599999999999,540.68" class="hgl"/>
<path d="M96.2,468.8 L93.882,467.66" class="hgl"/>
<path d="M91.1,470.9 L89.542,471.28" class="hgl"/>
<path d="M121,497 L120.24,499.28" class="hgl"/>
<path d="M136.8,466.5 L144.9,472.3 L155.1,468" class="gk"/>
<path d="M136.8,466.5 L136.1,457 L146.3,449.7 L153.6,456.3 L155.1,468" class="gk"/>
<path d="M153.6,456.3 L166.8,448.2" class="gk"/>
<path d="M155.1,468 L160.9,473.8" class="gk"/>
<path d="M136.8,466.5 L128.8,472.3 L123.7,473.8" class="gk"/>
<path d="M123.7,473.8 L124.4,491.3" class="gk"/>
<path d="M136.1,492.8 L146.3,491.3" class="gk"/>
<path d="M60.3,481.7 L71,490.9 L79.2,500" class="gk"/>
<path d="M82.2,487 L94.5,483.7" class="gk"/>
<path d="M81.7,488 L81.7,500" class="gk"/>
<path d="M58.7,499 L50.5,507.2" class="gk"/>
<path d="M58.7,499 L67.9,505.2 L80.2,508.2 L90.4,509.2" class="gk"/>
<path d="M65.9,495 L72,493 L78.1,501" class="gk"/>
<path d="M87.3,507.2 L90.4,519.5" class="gk"/>
<path d="M58.7,499.2 L66.9,495.1" class="gk"/>
<path d="M68.9,494.1 L70,504.3 L79.2,502.3" class="gk"/>
<path d="M80.7,503.3 L80.7,509.4" class="gk"/>
<path d="M91.4,502.3 L90.4,516.6" class="gk"/>
<path d="M84.3,518.6 L95.5,515.5" class="gk"/>
<path d="M87.8,519.6 L87.8,540.5" class="gk"/>
<path d="M102.4,467.8 L102.9,487.2" class="gk"/>
<path d="M93.2,472.9 L93.2,485.2" class="gk"/>
<path d="M85,486.2 L93.2,484.2" class="gk"/>
<path d="M95.2,491.3 L109.5,491.3 L115.7,495.4" class="gk"/>
<path d="M90.1,494.3 L97.3,492.3 L103.4,493.3 L113.6,495.3 L121.8,494.3 L126.9,490.2" class="gk"/>
<path d="M101.3,493.3 L100.3,517.8" class="gk"/>
<path d="M85,518.8 L95.2,517.8 L100.3,517.8" class="gk"/>
<path d="M91.1,503.5 L89.1,518.8" class="gk"/>
<path d="M125.9,482 L126.9,490.2" class="gk"/>
<path d="M52.7,485.5 L61.4,482" class="gk"/>
<path d="M105,497 L112,501 L118,499" class="gk"/>
<path d="M77,490 L84,492 L88,496" class="gk"/>
<path d="M160.9,473.8 L172.6,476.7" class="gk"/>
<path d="M77.814,484.49 L81.486,487.01" class="rk"/>
<path d="M78.53399999999999,499.574 L80.766,502.526" class="rk"/>
<path d="M90.684,495.78000000000003 L91.116,500.82" class="rk"/>
<path d="M128.704,491.01 L134.896,492.09000000000003" class="rk"/>
<path d="M100.734,465.58 L102.96600000000001,467.02000000000004" class="rk"/>
<path d="M94.812,484.356 L98.988,484.644" class="rk"/>
<path d="M109.878,487.822 L111.822,485.878" class="rk"/>
<path d="M140.34,468.888 L144.66,471.912" class="rk"/>
<path d="M145.34,472.178 L149.66,470.522" class="rk"/>
<path d="M174.70600000000002,475.1 L176.79399999999998,475.1" class="rk"/>
<path d="M173.48,483.27799999999996 L174.92,485.22200000000004" class="rk"/>
<path d="M136.8,466.5 L144.9,472.3 L155.1,468" class="gl"/>
<path d="M136.8,466.5 L136.1,457 L146.3,449.7 L153.6,456.3 L155.1,468" class="gl"/>
<path d="M153.6,456.3 L166.8,448.2" class="gl"/>
<path d="M155.1,468 L160.9,473.8" class="gl"/>
<path d="M136.8,466.5 L128.8,472.3 L123.7,473.8" class="gl"/>
<path d="M123.7,473.8 L124.4,491.3" class="gl"/>
<path d="M136.1,492.8 L146.3,491.3" class="gl"/>
<path d="M60.3,481.7 L71,490.9 L79.2,500" class="gl"/>
<path d="M82.2,487 L94.5,483.7" class="gl"/>
<path d="M81.7,488 L81.7,500" class="gl"/>
<path d="M58.7,499 L50.5,507.2" class="gl"/>
<path d="M58.7,499 L67.9,505.2 L80.2,508.2 L90.4,509.2" class="gl"/>
<path d="M65.9,495 L72,493 L78.1,501" class="gl"/>
<path d="M87.3,507.2 L90.4,519.5" class="gl"/>
<path d="M58.7,499.2 L66.9,495.1" class="gl"/>
<path d="M68.9,494.1 L70,504.3 L79.2,502.3" class="gl"/>
<path d="M80.7,503.3 L80.7,509.4" class="gl"/>
<path d="M91.4,502.3 L90.4,516.6" class="gl"/>
<path d="M84.3,518.6 L95.5,515.5" class="gl"/>
<path d="M87.8,519.6 L87.8,540.5" class="gl"/>
<path d="M102.4,467.8 L102.9,487.2" class="gl"/>
<path d="M93.2,472.9 L93.2,485.2" class="gl"/>
<path d="M85,486.2 L93.2,484.2" class="gl"/>
<path d="M95.2,491.3 L109.5,491.3 L115.7,495.4" class="gl"/>
<path d="M90.1,494.3 L97.3,492.3 L103.4,493.3 L113.6,495.3 L121.8,494.3 L126.9,490.2" class="gl"/>
<path d="M101.3,493.3 L100.3,517.8" class="gl"/>
<path d="M85,518.8 L95.2,517.8 L100.3,517.8" class="gl"/>
<path d="M91.1,503.5 L89.1,518.8" class="gl"/>
<path d="M125.9,482 L126.9,490.2" class="gl"/>
<path d="M52.7,485.5 L61.4,482" class="gl"/>
<path d="M105,497 L112,501 L118,499" class="gl"/>
<path d="M77,490 L84,492 L88,496" class="gl"/>
<path d="M160.9,473.8 L172.6,476.7" class="gd"/>
<path d="M136.8,466.5 L144.9,472.3 L155.1,468" class="gh"/>
<path d="M136.8,466.5 L136.1,457 L146.3,449.7 L153.6,456.3 L155.1,468" class="gh"/>
<path d="M153.6,456.3 L166.8,448.2" class="gh"/>
<path d="M155.1,468 L160.9,473.8" class="gh"/>
<path d="M136.8,466.5 L128.8,472.3 L123.7,473.8" class="gh"/>
<path d="M123.7,473.8 L124.4,491.3" class="gh"/>
<path d="M136.1,492.8 L146.3,491.3" class="gh"/>
<path d="M60.3,481.7 L71,490.9 L79.2,500" class="gh"/>
<path d="M82.2,487 L94.5,483.7" class="gh"/>
<path d="M81.7,488 L81.7,500" class="gh"/>
<path d="M58.7,499 L50.5,507.2" class="gh"/>
<path d="M58.7,499 L67.9,505.2 L80.2,508.2 L90.4,509.2" class="gh"/>
<path d="M65.9,495 L72,493 L78.1,501" class="gh"/>
<path d="M87.3,507.2 L90.4,519.5" class="gh"/>
<path d="M58.7,499.2 L66.9,495.1" class="gh"/>
<path d="M68.9,494.1 L70,504.3 L79.2,502.3" class="gh"/>
<path d="M80.7,503.3 L80.7,509.4" class="gh"/>
<path d="M91.4,502.3 L90.4,516.6" class="gh"/>
<path d="M84.3,518.6 L95.5,515.5" class="gh"/>
<path d="M87.8,519.6 L87.8,540.5" class="gh"/>
<path d="M102.4,467.8 L102.9,487.2" class="gh"/>
<path d="M93.2,472.9 L93.2,485.2" class="gh"/>
<path d="M85,486.2 L93.2,484.2" class="gh"/>
<path d="M95.2,491.3 L109.5,491.3 L115.7,495.4" class="gh"/>
<path d="M90.1,494.3 L97.3,492.3 L103.4,493.3 L113.6,495.3 L121.8,494.3 L126.9,490.2" class="gh"/>
<path d="M101.3,493.3 L100.3,517.8" class="gh"/>
<path d="M85,518.8 L95.2,517.8 L100.3,517.8" class="gh"/>
<path d="M91.1,503.5 L89.1,518.8" class="gh"/>
<path d="M125.9,482 L126.9,490.2" class="gh"/>
<path d="M52.7,485.5 L61.4,482" class="gh"/>
<path d="M105,497 L112,501 L118,499" class="gh"/>
<path d="M77,490 L84,492 L88,496" class="gh"/>
<path d="M77.814,484.49 L81.486,487.01" class="rl"/>
<path d="M78.53399999999999,499.574 L80.766,502.526" class="rl"/>
<path d="M90.684,495.78000000000003 L91.116,500.82" class="rl"/>
<path d="M128.704,491.01 L134.896,492.09000000000003" class="rl"/>
<path d="M100.734,465.58 L102.96600000000001,467.02000000000004" class="rl"/>
<path d="M94.812,484.356 L98.988,484.644" class="rl"/>
<path d="M109.878,487.822 L111.822,485.878" class="rl"/>
<path d="M140.34,468.888 L144.66,471.912" class="rl"/>
<path d="M145.34,472.178 L149.66,470.522" class="rl"/>
<path d="M174.70600000000002,475.1 L176.79399999999998,475.1" class="rl"/>
<path d="M173.48,483.27799999999996 L174.92,485.22200000000004" class="rl"/>
<path d="M167.5,449.5 L205.3,442.4" class="dp"/>
<path d="M168.5,453.6 L181.8,478.1" class="dp"/>
<path d="M179.7,479.2 L196.1,487.3" class="dg"/>
<path d="M179.7,489.2 L181.3,501.5" class="dg"/>
</g>
<text x="93.00" y="451.20" font-size="11.3" style="fill:#555;stroke:#555">NGC</text>
<text x="217.00" y="485.40" font-size="11.1">TRP41</text>
<text x="214.40" y="515.70" font-size="11.1">PHE24</text>
<text x="152.60" y="548.00" font-size="11.0">ARG22</text>
<text x="199.20" y="547.20" font-size="11.0">ASP23</text>
<text x="89.20" y="560.80" font-size="11.1" style="fill:#3d7cc2;stroke:#3d7cc2">COL6A3-C5</text>
</svg></body></html>
